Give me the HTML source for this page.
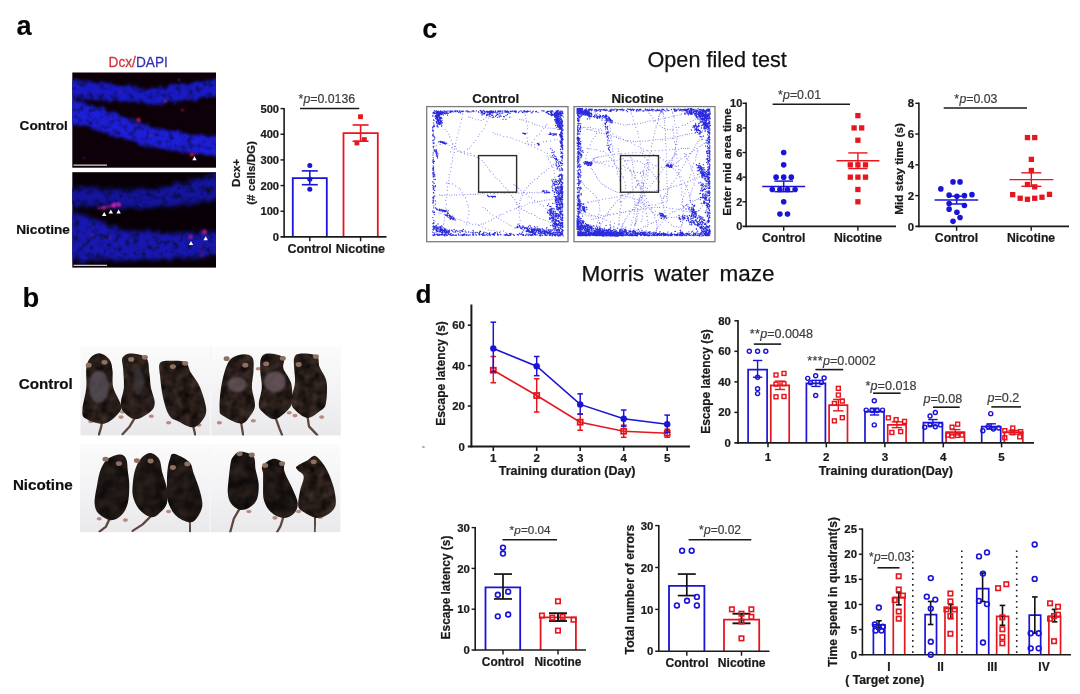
<!DOCTYPE html>
<html lang="en">
<head>
<meta charset="utf-8">
<title>Figure</title>
<style>
html,body{margin:0;padding:0;background:#fff;}
body{width:1080px;height:694px;overflow:hidden;}
svg{display:block;font-family:"Liberation Sans",Arial,Helvetica,sans-serif;}
text.b{font-weight:bold;fill:#1a1a1a;stroke:#1a1a1a;stroke-width:0.22px;}
text.n{font-weight:normal;stroke-width:0.25px;}
text.L{font-weight:bold;fill:#050505;stroke:#050505;stroke-width:0.1px;}
text.p{font-weight:normal;fill:#3c3c3c;stroke:#3c3c3c;stroke-width:0.2px;}
#fig{filter:blur(0.35px);}
</style>
</head>
<body>
<svg width="1080" height="694" viewBox="0 0 1080 694">
<rect width="1080" height="694" fill="#fff"/>
<g id="fig">
<defs>
<filter id="bl" x="-20%" y="-20%" width="140%" height="140%"><feGaussianBlur stdDeviation="1.8"/></filter>
<filter id="bl1" x="-20%" y="-20%" width="140%" height="140%"><feGaussianBlur stdDeviation="1"/></filter>
<filter id="bl05" x="-20%" y="-20%" width="140%" height="140%"><feGaussianBlur stdDeviation="0.6"/></filter>
<filter id="bl3" x="-20%" y="-20%" width="140%" height="140%"><feGaussianBlur stdDeviation="3"/></filter>
<filter id="tex" x="-5%" y="-5%" width="110%" height="110%" color-interpolation-filters="sRGB">
<feTurbulence type="fractalNoise" baseFrequency="0.16" numOctaves="3" seed="4" result="n"/>
<feDisplacementMap in="SourceGraphic" in2="n" scale="9" xChannelSelector="R" yChannelSelector="G" result="d"/>
<feGaussianBlur in="d" stdDeviation="1.7" result="b"/>
<feColorMatrix in="n" type="matrix" values="0 0 0.9 0 0.45  0 0 0.9 0 0.45  0 0 1.5 0 0.22  0 0 0 0 1" result="nb"/>
<feComposite in="b" in2="nb" operator="arithmetic" k1="1" k2="0" k3="0" k4="0"/>
</filter>
<filter id="tex2" x="-5%" y="-5%" width="110%" height="110%" color-interpolation-filters="sRGB">
<feTurbulence type="fractalNoise" baseFrequency="0.15" numOctaves="3" seed="9" result="n"/>
<feDisplacementMap in="SourceGraphic" in2="n" scale="10" xChannelSelector="R" yChannelSelector="G" result="d"/>
<feGaussianBlur in="d" stdDeviation="1.9" result="b"/>
<feColorMatrix in="n" type="matrix" values="0 0 0.9 0 0.45  0 0 0.9 0 0.45  0 0 1.7 0 0.1  0 0 0 0 1" result="nb"/>
<feComposite in="b" in2="nb" operator="arithmetic" k1="1" k2="0" k3="0" k4="0"/>
</filter>
<filter id="fur" x="-10%" y="-10%" width="120%" height="120%" color-interpolation-filters="sRGB">
<feTurbulence type="fractalNoise" baseFrequency="0.11" numOctaves="2" seed="2" result="n"/>
<feColorMatrix in="n" type="matrix" values="0.30 0 0 0 0.0  0.22 0 0 0 0.0  0.19 0 0 0 0.0  0 0 0 0 1" result="c"/>
<feComposite in="c" in2="SourceGraphic" operator="in" result="ci"/>
<feGaussianBlur in="ci" stdDeviation="0.6"/>
</filter>
<filter id="fur2" x="-10%" y="-10%" width="120%" height="120%" color-interpolation-filters="sRGB">
<feTurbulence type="fractalNoise" baseFrequency="0.09" numOctaves="2" seed="5" result="n"/>
<feColorMatrix in="n" type="matrix" values="0.20 0 0 0 0.01  0.15 0 0 0 0.01  0.13 0 0 0 0.01  0 0 0 0 1" result="c"/>
<feComposite in="c" in2="SourceGraphic" operator="in" result="ci"/>
<feGaussianBlur in="ci" stdDeviation="0.6"/>
</filter>
<clipPath id="ca1"><rect x="72.3" y="72.5" width="143.7" height="95.2"/></clipPath>
<clipPath id="ca2"><rect x="72.3" y="172.2" width="143.7" height="95.4"/></clipPath>
<clipPath id="cm1"><rect x="80.5" y="346.5" width="260.3" height="89"/></clipPath>
<clipPath id="cm2"><rect x="80" y="444.2" width="260.4" height="88"/></clipPath>
<linearGradient id="gm1" x1="0" y1="0" x2="0" y2="1"><stop offset="0" stop-color="#fbfbfb"/><stop offset="0.5" stop-color="#f3f3f5"/><stop offset="1" stop-color="#e9e9ec"/></linearGradient>
</defs>
<text class="L" x="16.6" y="35.1" font-size="27.2" text-anchor="start">a</text>
<text class="L" x="22.4" y="306.7" font-size="27.4" text-anchor="start">b</text>
<text class="L" x="422.2" y="37.9" font-size="27.2" text-anchor="start">c</text>
<text class="L" x="415.6" y="302.8" font-size="26.2" text-anchor="start">d</text>
<text class="n" x="717.2" y="67.2" font-size="21.6" text-anchor="middle" style="fill:#111;stroke:#111">Open filed test</text>
<text class="n" x="678" y="281.2" font-size="22.5" text-anchor="middle" style="fill:#111;stroke:#111" word-spacing="4">Morris water maze</text>
<text class="n" transform="translate(108.5,66.7) scale(1,1.1)" font-size="13.7" style="fill:#d2303f;stroke:#d2303f">Dcx/<tspan style="fill:#3632b4;stroke:#3632b4">DAPI</tspan></text>
<text class="b" x="67.9" y="129.9" font-size="13.6" text-anchor="end" style="fill:#111;stroke:#111">Control</text>
<text class="b" x="69.9" y="233.8" font-size="13.6" text-anchor="end" style="fill:#111;stroke:#111">Nicotine</text>
<rect x="72.3" y="72.5" width="143.7" height="95.2" fill="#0d0008"/>
<g clip-path="url(#ca1)">
<g filter="url(#tex)">
<path d="M66,79.5 C100,81.5 130,86 150,88.5 C175,86.5 200,81 222,78 L222,96 C200,98 175,103 150,104.5 C120,102 100,100 66,98 Z" fill="#1a1ac4"/>
<path d="M66,99.5 C90,103 115,112 140,123 C165,130 190,135 222,136 L222,156 C190,154 165,150 140,144 C115,138 95,128 66,123.5 Z" fill="#1e1ed4"/>
</g>
<circle cx="138.5" cy="120" r="2" fill="#d8205a" filter="url(#bl1)"/>
<circle cx="165" cy="101" r="1.5" fill="#a02030" filter="url(#bl1)"/>
<circle cx="182.5" cy="110" r="1.5" fill="#801838" filter="url(#bl1)"/>
<circle cx="192" cy="154.5" r="2.2" fill="#b01830" filter="url(#bl1)"/>
<circle cx="84" cy="158" r="1.2" fill="#30207a" filter="url(#bl1)"/>
<circle cx="150" cy="136" r="1.3" fill="#70207a" filter="url(#bl1)"/>
<circle cx="120" cy="93" r="1.2" fill="#5a2080" filter="url(#bl1)"/>
<circle cx="179" cy="80" r="1.2" fill="#5a2080" filter="url(#bl1)"/>
</g>
<path d="M194.5,156.2 l2.2,4 h-4.4z" fill="#fff"/>
<line x1="73.5" y1="165.2" x2="107" y2="165.2" stroke="#d8d8d8" stroke-width="1.2"/>
<rect x="72.3" y="172.2" width="143.7" height="95.4" fill="#080006"/>
<g clip-path="url(#ca2)">
<g filter="url(#tex2)">
<path d="M66,186 C100,188 130,190 150,189 C175,186 200,178 222,170 L222,199 C200,203 175,207 150,208 C120,208 100,207 66,206 Z" fill="#14149c"/>
<path d="M66,211 C90,216 110,226 130,231 C165,234 190,233 222,231 L222,256 C190,258 165,260 140,260 C115,260 95,260 66,260 Z" fill="#1818b0"/>
</g>
<path d="M98,208.5 L106,207 L112,206 L116,203.5 L120,205.5" stroke="#b0208a" stroke-width="1.8" opacity="0.8" fill="none" stroke-linecap="round" filter="url(#bl1)"/>
<circle cx="104" cy="208" r="1.6" fill="#d020a0" filter="url(#bl1)"/>
<circle cx="114" cy="205.5" r="2.2" fill="#d828a8" filter="url(#bl1)"/>
<circle cx="118.8" cy="204.5" r="2" fill="#d020a0" filter="url(#bl1)"/>
<circle cx="190.5" cy="237" r="2" fill="#b02078" filter="url(#bl1)"/>
<circle cx="204.5" cy="232" r="2.3" fill="#d01848" filter="url(#bl1)"/>
<circle cx="202" cy="255" r="1.5" fill="#801838" filter="url(#bl1)"/>
<circle cx="201" cy="247" r="1.2" fill="#801848" filter="url(#bl1)"/>
<circle cx="92" cy="235" r="1.2" fill="#702080" filter="url(#bl1)"/>
<circle cx="110" cy="238" r="1.2" fill="#702080" filter="url(#bl1)"/>
</g>
<path d="M104.2,212 l2.2,4 h-4.4z" fill="#fff"/>
<path d="M110.8,209.4 l2.2,4 h-4.4z" fill="#fff"/>
<path d="M118.6,209.5 l2.2,4 h-4.4z" fill="#fff"/>
<path d="M191,241 l2.2,4 h-4.4z" fill="#fff"/>
<path d="M205.7,236.3 l2.2,4 h-4.4z" fill="#fff"/>
<line x1="73.5" y1="265.4" x2="107" y2="265.4" stroke="#c8c8d8" stroke-width="1.2"/>
<path d="M292.8,236.9V178.2H326.8V236.9" fill="#fff" stroke="#1a14d6" stroke-width="1.8"/>
<path d="M343.5,236.9V133.2H377.8V236.9" fill="#fff" stroke="#e6161f" stroke-width="1.8"/>
<line x1="284.1" y1="107.88" x2="284.1" y2="237.7" stroke="#1a1a1a" stroke-width="1.6"/>
<line x1="280.5" y1="236.9" x2="386.5" y2="236.9" stroke="#1a1a1a" stroke-width="1.6"/>
<text class="b" x="279.1" y="240.93" font-size="11.2" text-anchor="end">0</text>
<line x1="280.5" y1="211.24" x2="284.1" y2="211.24" stroke="#1a1a1a" stroke-width="1.44"/>
<text class="b" x="279.1" y="215.27" font-size="11.2" text-anchor="end">100</text>
<line x1="280.5" y1="185.58" x2="284.1" y2="185.58" stroke="#1a1a1a" stroke-width="1.44"/>
<text class="b" x="279.1" y="189.61" font-size="11.2" text-anchor="end">200</text>
<line x1="280.5" y1="159.92" x2="284.1" y2="159.92" stroke="#1a1a1a" stroke-width="1.44"/>
<text class="b" x="279.1" y="163.95" font-size="11.2" text-anchor="end">300</text>
<line x1="280.5" y1="134.26" x2="284.1" y2="134.26" stroke="#1a1a1a" stroke-width="1.44"/>
<text class="b" x="279.1" y="138.29" font-size="11.2" text-anchor="end">400</text>
<line x1="280.5" y1="108.6" x2="284.1" y2="108.6" stroke="#1a1a1a" stroke-width="1.44"/>
<text class="b" x="279.1" y="112.63" font-size="11.2" text-anchor="end">500</text>
<line x1="309.8" y1="236.9" x2="309.8" y2="241.3" stroke="#1a1a1a" stroke-width="1.44"/>
<line x1="360.6" y1="236.9" x2="360.6" y2="241.3" stroke="#1a1a1a" stroke-width="1.44"/>
<line x1="309.8" y1="170.9" x2="309.8" y2="184.7" stroke="#1a14d6" stroke-width="1.6"/>
<line x1="301.8" y1="170.9" x2="317.8" y2="170.9" stroke="#1a14d6" stroke-width="1.6"/>
<line x1="301.8" y1="184.7" x2="317.8" y2="184.7" stroke="#1a14d6" stroke-width="1.6"/>
<line x1="360.6" y1="125" x2="360.6" y2="141.2" stroke="#e6161f" stroke-width="1.6"/>
<line x1="352.6" y1="125" x2="368.6" y2="125" stroke="#e6161f" stroke-width="1.6"/>
<line x1="352.6" y1="141.2" x2="368.6" y2="141.2" stroke="#e6161f" stroke-width="1.6"/>
<circle cx="309.8" cy="165.4" r="2.5" fill="#1a14d6"/>
<circle cx="309.8" cy="179.2" r="2.5" fill="#1a14d6"/>
<circle cx="309.8" cy="189.3" r="2.5" fill="#1a14d6"/>
<rect x="358.1" y="114.3" width="4.8" height="4.8" fill="#e6161f"/>
<rect x="354.5" y="140.6" width="4.8" height="4.8" fill="#e6161f"/>
<rect x="362" y="137.2" width="4.8" height="4.8" fill="#e6161f"/>
<line x1="300" y1="108.4" x2="359.2" y2="108.4" stroke="#1a1a1a" stroke-width="1.5"/>
<text class="p" x="298.4" y="102.8" font-size="12.3" text-anchor="start"><tspan letter-spacing="0.3">*</tspan><tspan font-style="italic">p</tspan>=0.0136</text>
<text class="b" x="309.6" y="253" font-size="12.5" text-anchor="middle">Control</text>
<text class="b" x="360.4" y="253" font-size="12.5" text-anchor="middle">Nicotine</text>
<text class="b" x="240.2" y="172.9" font-size="11.6" text-anchor="middle" transform="rotate(-90 240.2 172.9)">Dcx+</text>
<text class="b" x="255.5" y="172.9" font-size="11.6" text-anchor="middle" transform="rotate(-90 255.5 172.9)">(# cells/DG)</text>
<text class="b" x="72.8" y="388.6" font-size="15.2" text-anchor="end" style="fill:#111;stroke:#111">Control</text>
<text class="b" x="72.8" y="490.4" font-size="15.2" text-anchor="end" style="fill:#111;stroke:#111">Nicotine</text>
<rect x="80.5" y="346.5" width="260.3" height="89" fill="url(#gm1)"/>
<rect x="80" y="444.2" width="260.4" height="88" fill="url(#gm1)"/>
<g clip-path="url(#cm1)"><g>
<path d="M102.4,420.7 L100.9,427.9 L98.8,435.1" stroke="#5e463e" stroke-width="2.3" fill="none" stroke-linecap="round" stroke-linejoin="round" filter="url(#bl05)"/>
<ellipse cx="121.1" cy="417.1" rx="2.6" ry="1.8" fill="#b88a80" filter="url(#bl05)"/>
<ellipse cx="90.8" cy="421.4" rx="2.6" ry="1.8" fill="#b88a80" filter="url(#bl05)"/>
<path d="M99.4,353.3C102.6,353.5 107.2,356.6 109.4,359.5C111.6,362.3 111.9,365.9 112.5,370.5C113.1,375.2 111.9,381.7 113.3,387.5C114.7,393.3 120.2,400.8 121.0,405.2C121.7,409.7 120.7,411.0 117.9,414.1C115.1,417.2 109.4,422.9 104.0,423.7C98.6,424.4 89.1,420.9 85.5,418.5C81.9,416.2 82.3,414.8 82.4,409.7C82.6,404.5 85.7,394.4 86.3,387.5C86.9,380.6 85.7,373.2 86.3,368.3C86.9,363.4 88.0,360.5 90.2,358.0C92.3,355.5 96.2,353.0 99.4,353.3Z" fill="#221815" filter="url(#fur)"/>
<ellipse cx="104.5" cy="362.3" rx="3" ry="2.4" fill="#8e7060" filter="url(#bl05)"/>
<ellipse cx="88.7" cy="365.2" rx="3" ry="2.4" fill="#8e7060" filter="url(#bl05)"/>
<ellipse cx="98.8" cy="386.8" rx="9.8" ry="16.1" fill="#5e5864" opacity="0.7" filter="url(#bl1)"/>
<path d="M134.8,417.8 L129.7,426.4 L122.5,434.3" stroke="#5e463e" stroke-width="2.3" fill="none" stroke-linecap="round" stroke-linejoin="round" filter="url(#bl05)"/>
<ellipse cx="151.3" cy="416.3" rx="2.6" ry="1.8" fill="#b88a80" filter="url(#bl05)"/>
<ellipse cx="122.5" cy="412.0" rx="2.6" ry="1.8" fill="#b88a80" filter="url(#bl05)"/>
<path d="M130.8,353.6C134.8,353.6 143.2,354.8 146.2,358.0C149.3,361.2 148.6,367.9 149.3,372.8C150.1,377.7 150.0,382.6 150.9,387.6C151.8,392.5 154.7,398.4 154.7,402.3C154.7,406.3 154.1,408.4 150.9,411.2C147.7,414.0 140.1,419.3 135.5,419.3C130.8,419.3 125.6,414.0 123.1,411.2C120.7,408.4 120.7,406.3 120.8,402.3C120.9,398.4 123.5,393.2 123.9,387.6C124.3,381.9 123.4,373.3 123.1,368.4C122.9,363.5 121.1,360.5 122.4,358.0C123.6,355.6 126.9,353.6 130.8,353.6Z" fill="#221815" filter="url(#fur)"/>
<ellipse cx="144.9" cy="357.3" rx="3" ry="2.4" fill="#8e7060" filter="url(#bl05)"/>
<ellipse cx="131.2" cy="359.4" rx="3" ry="2.4" fill="#8e7060" filter="url(#bl05)"/>
<ellipse cx="138.4" cy="381.8" rx="5.2" ry="13.7" fill="#403e44" opacity="0.6" filter="url(#bl1)"/>
<path d="M193.1,425.7 L195.3,435.1" stroke="#5e463e" stroke-width="2.3" fill="none" stroke-linecap="round" stroke-linejoin="round" filter="url(#bl05)"/>
<ellipse cx="168.6" cy="422.8" rx="2.6" ry="1.8" fill="#b88a80" filter="url(#bl05)"/>
<ellipse cx="198.9" cy="425.0" rx="2.6" ry="1.8" fill="#b88a80" filter="url(#bl05)"/>
<path d="M160.0,363.0C161.8,360.6 166.6,360.9 170.8,360.8C175.0,360.7 182.1,360.3 185.4,362.3C188.8,364.3 188.4,368.5 190.8,372.6C193.3,376.8 197.5,381.2 200.1,387.4C202.6,393.5 206.0,403.9 206.2,409.5C206.5,415.2 203.9,418.4 201.6,421.4C199.3,424.3 196.2,427.3 192.4,427.3C188.5,427.3 182.4,423.3 178.5,421.4C174.7,419.4 171.8,419.4 169.3,415.4C166.7,411.5 164.6,404.4 163.1,397.7C161.6,391.1 160.5,381.4 160.0,375.6C159.5,369.8 158.2,365.5 160.0,363.0Z" fill="#261c17" filter="url(#fur)"/>
<ellipse cx="185.2" cy="363.3" rx="3" ry="2.4" fill="#8e7060" filter="url(#bl05)"/>
<ellipse cx="172.9" cy="366.6" rx="3" ry="2.4" fill="#8e7060" filter="url(#bl05)"/>
<path d="M241.0,421.4 L242.2,429.3 L243.2,435.1" stroke="#5e463e" stroke-width="2.3" fill="none" stroke-linecap="round" stroke-linejoin="round" filter="url(#bl05)"/>
<ellipse cx="219.4" cy="422.8" rx="2.6" ry="1.8" fill="#b88a80" filter="url(#bl05)"/>
<ellipse cx="253.3" cy="420.7" rx="2.6" ry="1.8" fill="#b88a80" filter="url(#bl05)"/>
<path d="M244.2,354.3C247.7,354.3 251.2,355.2 252.7,358.0C254.2,360.8 253.6,366.4 253.5,371.3C253.3,376.2 251.7,381.9 251.9,387.5C252.2,393.2 255.3,400.6 255.0,405.2C254.8,409.9 252.7,412.5 250.4,415.6C248.1,418.6 245.8,423.7 241.1,423.7C236.5,423.7 226.2,418.2 222.6,415.6C219.0,413.0 219.8,412.9 219.6,408.2C219.3,403.5 220.1,394.2 221.1,387.5C222.1,380.9 223.9,373.3 225.7,368.3C227.5,363.4 228.8,360.3 231.9,358.0C235.0,355.7 240.8,354.3 244.2,354.3Z" fill="#221815" filter="url(#fur)"/>
<ellipse cx="226.6" cy="358.7" rx="3" ry="2.4" fill="#8e7060" filter="url(#bl05)"/>
<ellipse cx="245.3" cy="365.2" rx="3" ry="2.4" fill="#8e7060" filter="url(#bl05)"/>
<ellipse cx="237.0" cy="384.6" rx="9.5" ry="7.5" fill="#6a5a60" opacity="0.75" filter="url(#bl1)"/>
<path d="M275.6,417.8 L279.2,427.9 L282.1,435.1" stroke="#5e463e" stroke-width="2.3" fill="none" stroke-linecap="round" stroke-linejoin="round" filter="url(#bl05)"/>
<ellipse cx="289.3" cy="412.7" rx="2.6" ry="1.8" fill="#b88a80" filter="url(#bl05)"/>
<ellipse cx="258.3" cy="368.8" rx="2.6" ry="1.8" fill="#b88a80" filter="url(#bl05)"/>
<path d="M268.0,353.6C271.7,353.5 280.9,354.9 283.4,357.3C286.0,359.8 282.1,364.1 283.4,368.4C284.7,372.7 289.7,377.5 291.1,383.1C292.5,388.8 292.7,397.7 291.9,402.3C291.1,407.0 289.5,408.4 286.5,411.2C283.6,414.0 278.3,419.3 274.2,419.3C270.1,419.3 264.4,413.8 261.8,411.2C259.3,408.6 258.8,407.8 258.8,403.8C258.8,399.9 261.6,393.0 261.8,387.6C262.1,382.2 260.4,376.3 260.3,371.3C260.2,366.4 259.8,361.0 261.1,358.1C262.4,355.1 264.3,353.7 268.0,353.6Z" fill="#221815" filter="url(#fur)"/>
<ellipse cx="282.8" cy="358.3" rx="3" ry="2.4" fill="#8e7060" filter="url(#bl05)"/>
<ellipse cx="266.2" cy="363.8" rx="3" ry="2.4" fill="#8e7060" filter="url(#bl05)"/>
<ellipse cx="274.9" cy="381.8" rx="10.9" ry="10.4" fill="#705e66" opacity="0.75" filter="url(#bl1)"/>
<path d="M307.5,416.3 L309.0,426.4 L317.3,435.1" stroke="#5e463e" stroke-width="2.3" fill="none" stroke-linecap="round" stroke-linejoin="round" filter="url(#bl05)"/>
<ellipse cx="295.0" cy="415.6" rx="2.6" ry="1.8" fill="#b88a80" filter="url(#bl05)"/>
<ellipse cx="321.7" cy="417.1" rx="2.6" ry="1.8" fill="#b88a80" filter="url(#bl05)"/>
<path d="M299.6,353.7C303.3,353.3 313.2,353.7 316.5,355.9C319.9,358.1 317.9,362.6 319.6,366.9C321.3,371.2 325.5,375.6 326.5,381.7C327.6,387.9 326.9,398.9 325.8,403.9C324.6,408.8 322.7,408.9 319.6,411.2C316.5,413.6 311.4,418.1 307.3,417.9C303.2,417.6 297.6,412.6 294.9,409.8C292.3,406.9 291.1,405.3 291.1,400.9C291.1,396.5 294.4,388.6 294.9,383.2C295.5,377.8 294.3,372.6 294.2,368.4C294.1,364.2 293.3,360.5 294.2,358.1C295.1,355.6 295.8,354.0 299.6,353.7Z" fill="#221815" filter="url(#fur)"/>
<ellipse cx="315.9" cy="356.6" rx="3" ry="2.4" fill="#8e7060" filter="url(#bl05)"/>
<ellipse cx="298.6" cy="364.5" rx="3" ry="2.4" fill="#8e7060" filter="url(#bl05)"/>
</g></g>
<g clip-path="url(#cm2)"><g>
<path d="M109.6,518.7 L106.0,526.6 L99.5,531.6" stroke="#5e463e" stroke-width="2.3" fill="none" stroke-linecap="round" stroke-linejoin="round" filter="url(#bl05)"/>
<ellipse cx="99.2" cy="518.7" rx="2.6" ry="1.8" fill="#b88a80" filter="url(#bl05)"/>
<ellipse cx="125.4" cy="520.1" rx="2.6" ry="1.8" fill="#b88a80" filter="url(#bl05)"/>
<path d="M120.1,454.5C123.2,454.5 125.0,456.2 126.2,458.9C127.5,461.6 127.3,466.3 127.8,470.7C128.3,475.2 129.3,480.1 129.3,485.5C129.3,490.9 129.1,498.3 127.8,503.2C126.5,508.1 124.4,512.2 121.6,515.0C118.8,517.9 114.7,520.4 110.8,520.2C107.0,520.0 101.2,516.4 98.5,513.6C95.8,510.7 94.9,507.9 94.6,503.2C94.4,498.5 95.9,491.2 97.0,485.5C98.0,479.8 99.0,473.7 100.8,469.3C102.6,464.8 104.5,461.4 107.7,458.9C111.0,456.5 117.0,454.5 120.1,454.5Z" fill="#1a1210" filter="url(#fur2)"/>
<ellipse cx="105.5" cy="459.2" rx="3" ry="2.4" fill="#8e7060" filter="url(#bl05)"/>
<ellipse cx="118.9" cy="463.6" rx="3" ry="2.4" fill="#8e7060" filter="url(#bl05)"/>
<path d="M151.3,515.8 L142.7,524.4 L132.6,530.9" stroke="#5e463e" stroke-width="2.3" fill="none" stroke-linecap="round" stroke-linejoin="round" filter="url(#bl05)"/>
<ellipse cx="168.6" cy="511.5" rx="2.6" ry="1.8" fill="#b88a80" filter="url(#bl05)"/>
<path d="M149.9,453.1C153.0,453.1 157.1,455.8 159.1,459.0C161.2,462.2 160.9,467.3 162.2,472.3C163.5,477.2 166.1,483.3 166.9,488.5C167.6,493.7 167.9,499.3 166.9,503.3C165.8,507.2 163.3,509.8 160.7,512.1C158.1,514.5 155.0,517.8 151.4,517.3C147.8,516.8 142.2,512.7 139.1,509.2C136.0,505.6 134.0,500.3 132.9,495.9C131.9,491.4 132.6,487.0 132.9,482.6C133.3,478.2 134.0,473.2 135.3,469.3C136.5,465.4 138.2,461.7 140.7,459.0C143.1,456.3 146.8,453.1 149.9,453.1Z" fill="#1a1210" filter="url(#fur2)"/>
<ellipse cx="136.9" cy="460.6" rx="3" ry="2.4" fill="#8e7060" filter="url(#bl05)"/>
<ellipse cx="150.6" cy="461.0" rx="3" ry="2.4" fill="#8e7060" filter="url(#bl05)"/>
<path d="M189.5,520.8 L190.2,531.6" stroke="#5e463e" stroke-width="2.3" fill="none" stroke-linecap="round" stroke-linejoin="round" filter="url(#bl05)"/>
<path d="M173.8,453.7C177.0,454.2 185.9,458.5 189.2,461.9C192.5,465.2 192.0,468.7 193.8,473.7C195.6,478.6 198.6,486.0 200.0,491.4C201.4,496.8 202.8,501.7 202.3,506.1C201.8,510.6 199.1,515.2 196.9,518.0C194.7,520.7 192.8,522.9 189.2,522.4C185.6,521.9 178.9,518.7 175.3,515.0C171.7,511.3 169.0,505.4 167.6,500.2C166.2,495.1 166.9,489.2 166.9,484.0C166.9,478.8 167.1,473.4 167.6,469.2C168.1,465.0 168.9,461.5 169.9,458.9C171.0,456.3 170.6,453.2 173.8,453.7Z" fill="#1a1210" filter="url(#fur2)"/>
<ellipse cx="187.3" cy="463.9" rx="3" ry="2.4" fill="#8e7060" filter="url(#bl05)"/>
<ellipse cx="172.9" cy="467.5" rx="3" ry="2.4" fill="#8e7060" filter="url(#bl05)"/>
<path d="M239.6,508.6 L233.8,518.7 L230.2,532.3" stroke="#5e463e" stroke-width="2.3" fill="none" stroke-linecap="round" stroke-linejoin="round" filter="url(#bl05)"/>
<ellipse cx="248.9" cy="511.5" rx="2.6" ry="1.8" fill="#b88a80" filter="url(#bl05)"/>
<path d="M240.2,451.7C243.6,451.4 250.7,453.2 253.3,456.1C255.8,459.1 254.7,464.7 255.6,469.4C256.5,474.1 258.4,479.2 258.7,484.2C258.9,489.1 258.5,495.1 257.1,498.9C255.7,502.7 253.0,505.2 250.2,507.0C247.4,508.9 243.4,510.6 240.2,510.0C237.0,509.4 233.0,506.2 230.9,503.3C228.9,500.5 228.2,497.0 227.8,493.0C227.4,489.1 228.2,484.2 228.6,479.7C229.0,475.3 229.5,470.1 230.1,466.4C230.8,462.7 230.8,460.0 232.5,457.6C234.1,455.1 236.7,451.9 240.2,451.7Z" fill="#1a1210" filter="url(#fur2)"/>
<ellipse cx="239.6" cy="453.8" rx="3" ry="2.4" fill="#8e7060" filter="url(#bl05)"/>
<ellipse cx="251.8" cy="455.0" rx="3" ry="2.4" fill="#8e7060" filter="url(#bl05)"/>
<path d="M283.5,516.5 L280.6,525.9 L277.0,532.3" stroke="#5e463e" stroke-width="2.3" fill="none" stroke-linecap="round" stroke-linejoin="round" filter="url(#bl05)"/>
<ellipse cx="274.9" cy="517.9" rx="2.6" ry="1.8" fill="#b88a80" filter="url(#bl05)"/>
<ellipse cx="298.6" cy="511.5" rx="2.6" ry="1.8" fill="#b88a80" filter="url(#bl05)"/>
<path d="M272.4,458.9C275.8,458.3 281.1,460.4 283.1,462.6C285.2,464.8 283.1,467.9 284.7,472.2C286.2,476.5 290.2,483.3 292.4,488.4C294.6,493.6 297.5,499.0 297.8,503.2C298.0,507.4 296.4,511.1 293.9,513.5C291.5,516.0 287.0,518.2 283.1,518.0C279.3,517.7 274.0,515.0 270.8,512.0C267.6,509.1 265.2,504.7 263.9,500.2C262.6,495.8 263.2,489.9 263.1,485.5C263.0,481.0 263.2,476.9 263.1,473.7C263.0,470.5 260.8,468.7 262.3,466.3C263.9,463.8 268.9,459.5 272.4,458.9Z" fill="#1a1210" filter="url(#fur2)"/>
<ellipse cx="265.2" cy="465.4" rx="3" ry="2.4" fill="#8e7060" filter="url(#bl05)"/>
<ellipse cx="282.1" cy="463.6" rx="3" ry="2.4" fill="#8e7060" filter="url(#bl05)"/>
<path d="M315.2,516.5 L314.5,531.6" stroke="#5e463e" stroke-width="2.3" fill="none" stroke-linecap="round" stroke-linejoin="round" filter="url(#bl05)"/>
<ellipse cx="320.2" cy="517.2" rx="2.6" ry="1.8" fill="#b88a80" filter="url(#bl05)"/>
<path d="M296.8,466.3C298.6,464.6 305.3,461.4 308.4,459.7C311.4,457.9 312.7,455.1 315.3,456.0C317.9,456.8 321.3,461.4 323.8,464.8C326.2,468.3 328.1,472.2 329.9,476.6C331.7,481.1 333.7,486.5 334.6,491.4C335.5,496.3 336.6,502.2 335.3,506.2C334.0,510.1 330.1,513.1 326.9,515.0C323.6,517.0 319.9,518.5 316.1,518.0C312.2,517.5 306.7,514.0 303.7,512.1C300.8,510.1 299.0,509.6 298.3,506.2C297.7,502.7 299.0,496.3 299.9,491.4C300.8,486.5 304.1,480.2 303.7,476.6C303.4,473.1 298.7,471.7 297.6,470.0C296.4,468.3 295.0,468.0 296.8,466.3Z" fill="#1e1613" filter="url(#fur)"/>
<ellipse cx="313.7" cy="461.8" rx="3" ry="2.4" fill="#8e7060" filter="url(#bl05)"/>
</g></g>
<line x1="210.6" y1="346.5" x2="210.6" y2="435.5" stroke="#f6f6f8" stroke-width="1.6"/>
<line x1="210" y1="444.2" x2="210" y2="532.2" stroke="#f6f6f8" stroke-width="1.2"/>
<rect x="426.7" y="106.6" width="141.3" height="135.1" fill="#fff" stroke="#7c7c7c" stroke-width="1.3"/>
<path d="M436.8,120.8h.01M438.7,122.5h.01M440.3,124.0h.01M442.0,126.1h.01M445.1,129.2h.01M446.9,131.3h.01M448.9,134.2h.01M449.8,136.9h.01M451.2,140.3h.01M452.8,143.6h.01M454.5,146.2h.01M456.3,148.9h.01M459.1,150.7h.01M461.4,152.5h.01M464.5,153.8h.01M467.8,154.8h.01M471.0,155.5h.01M474.0,155.9h.01M477.1,157.0h.01M479.4,158.5h.01M482.1,160.6h.01M484.0,162.5h.01M485.7,165.0h.01M487.7,167.0h.01M489.3,170.1h.01M490.7,171.7h.01M493.3,174.2h.01M495.1,177.2h.01M497.2,178.7h.01M499.8,180.9h.01M501.7,183.5h.01M503.7,186.0h.01M505.8,187.9h.01M507.9,190.1h.01M509.7,192.9h.01M511.5,195.2h.01M512.8,197.4h.01M514.9,199.6h.01M516.4,202.4h.01M516.9,204.4h.01M518.2,207.3h.01M518.8,210.5h.01M519.6,213.1h.01M519.4,217.0h.01M520.2,220.5h.01M519.8,223.7h.01M520.2,226.2h.01M439.7,194.9h.01M441.1,195.2h.01M442.7,195.2h.01M444.9,194.9h.01M446.9,194.9h.01M449.4,195.0h.01M451.6,195.1h.01M454.5,194.8h.01M456.6,195.1h.01M459.8,194.8h.01M462.6,194.5h.01M465.0,194.5h.01M468.0,194.6h.01M470.7,194.4h.01M473.2,194.3h.01M475.3,194.4h.01M477.8,193.9h.01M480.0,193.9h.01M482.6,193.4h.01M484.9,193.8h.01M487.7,193.8h.01M490.5,193.5h.01M493.3,193.7h.01M494.8,193.6h.01M497.7,193.6h.01M500.9,193.0h.01M503.0,193.0h.01M505.0,193.4h.01M508.0,193.0h.01M510.3,192.8h.01M512.9,193.0h.01M515.9,193.2h.01M518.8,192.9h.01M521.6,193.1h.01M524.5,192.5h.01M527.1,192.9h.01M529.6,192.4h.01M532.1,192.4h.01M534.6,192.7h.01M537.0,192.2h.01M538.9,192.9h.01M541.2,192.5h.01M462.8,113.1h.01M462.7,114.7h.01M462.0,117.8h.01M461.4,119.5h.01M460.6,123.0h.01M459.9,126.7h.01M459.0,130.0h.01M458.2,133.0h.01M457.1,137.3h.01M456.2,140.0h.01M455.8,143.3h.01M455.3,146.4h.01M454.4,148.8h.01M454.2,152.4h.01M453.2,154.7h.01M452.5,157.9h.01M452.5,161.1h.01M451.2,163.8h.01M451.2,167.4h.01M450.5,171.2h.01M449.1,174.6h.01M449.2,177.7h.01M448.8,180.6h.01M448.1,183.4h.01M447.7,186.8h.01M447.3,190.3h.01M447.1,194.2h.01M446.5,197.5h.01M445.7,200.4h.01M446.2,204.3h.01M445.3,208.0h.01M445.1,211.7h.01M444.1,214.5h.01M444.6,217.7h.01M444.3,220.5h.01M443.9,223.0h.01M443.5,224.2h.01M490.6,113.0h.01M489.6,115.0h.01M488.3,118.1h.01M487.1,121.6h.01M485.6,124.8h.01M484.0,128.8h.01M481.9,131.3h.01M479.7,134.2h.01M478.1,136.6h.01M475.8,140.2h.01M474.0,142.5h.01M471.2,146.0h.01M469.3,148.1h.01M467.5,149.3h.01M464.2,151.5h.01M460.7,151.5h.01M524.4,113.1h.01M525.4,115.3h.01M525.9,118.2h.01M526.2,121.9h.01M527.5,125.7h.01M527.5,128.7h.01M527.3,133.1h.01M527.2,137.8h.01M527.4,141.4h.01M528.1,143.9h.01M531.4,144.2h.01M534.6,144.3h.01M539.1,143.1h.01M543.4,141.8h.01M546.5,141.4h.01M550.6,140.9h.01M554.5,139.7h.01M557.1,139.2h.01M493.3,132.5h.01M495.1,134.0h.01M497.6,134.1h.01M500.3,134.9h.01M503.8,136.6h.01M507.1,136.8h.01M510.4,137.8h.01M513.1,138.7h.01M516.2,140.0h.01M519.2,140.7h.01M522.2,142.0h.01M525.2,143.4h.01M528.6,144.7h.01M531.4,146.0h.01M534.8,147.3h.01M537.8,149.0h.01M541.1,150.4h.01M544.3,152.2h.01M547.4,153.2h.01M549.8,155.2h.01M553.8,157.0h.01M556.3,158.2h.01M558.8,159.5h.01M556.6,162.4h.01M555.3,163.5h.01M553.5,164.6h.01M551.8,166.6h.01M548.8,168.3h.01M546.5,170.0h.01M544.1,172.4h.01M541.6,173.8h.01M539.0,176.2h.01M537.4,178.4h.01M534.6,179.6h.01M532.3,182.2h.01M530.3,183.6h.01M528.5,185.6h.01M526.7,187.7h.01M524.8,190.2h.01M523.2,192.9h.01M522.6,195.3h.01M520.9,198.1h.01M520.1,200.6h.01M519.4,203.3h.01M518.9,206.1h.01M518.4,207.4h.01M519.9,208.1h.01M521.6,208.8h.01M524.1,210.4h.01M526.8,211.6h.01M529.0,213.5h.01M531.7,213.8h.01M534.9,215.4h.01M537.1,217.0h.01M539.7,218.4h.01M543.1,219.6h.01M545.3,220.5h.01M548.1,221.2h.01M551.0,222.4h.01M553.8,223.4h.01M556.5,224.1h.01M558.2,224.8h.01M518.1,207.4h.01M519.7,206.4h.01M521.9,206.3h.01M524.7,205.2h.01M527.1,204.0h.01M529.4,202.8h.01M532.6,202.9h.01M534.8,201.9h.01M537.5,201.6h.01M539.8,201.5h.01M541.9,200.7h.01M544.5,200.2h.01M546.9,200.0h.01M549.4,199.8h.01M552.0,199.1h.01M555.2,198.7h.01M558.1,198.1h.01M560.0,197.4h.01M518.1,207.2h.01M516.3,208.4h.01M514.3,209.0h.01M510.6,210.6h.01M506.9,211.9h.01M502.9,214.1h.01M500.7,214.5h.01M499.1,215.8h.01M496.7,217.2h.01M493.9,218.5h.01M491.5,219.9h.01M488.9,221.1h.01M485.9,222.8h.01M483.4,223.9h.01M481.2,224.1h.01M478.6,224.7h.01M475.6,224.1h.01M472.6,224.2h.01M469.7,223.3h.01M466.6,222.8h.01M464.2,222.0h.01M461.0,220.3h.01M459.1,219.5h.01M456.0,218.8h.01M453.4,217.6h.01M451.7,217.0h.01M447.8,215.6h.01M444.6,214.2h.01M440.8,213.5h.01M439.0,212.7h.01M434.8,146.0h.01M436.7,145.6h.01M440.2,144.4h.01M443.2,143.7h.01M447.0,143.8h.01M449.2,145.2h.01M451.7,147.8h.01M454.4,149.2h.01M457.7,151.3h.01M460.9,152.1h.01M464.2,152.7h.01M467.7,153.0h.01M470.6,153.5h.01M474.4,155.5h.01M477.9,157.4h.01M478.2,225.0h.01M479.6,225.7h.01M482.3,227.0h.01M485.3,228.3h.01M488.2,229.8h.01M491.1,230.2h.01M494.2,230.2h.01M497.0,231.3h.01M500.3,231.4h.01M503.5,230.9h.01M505.8,232.2h.01M468.6,117.0h.01M470.1,117.3h.01M472.5,118.5h.01M475.7,119.7h.01M478.4,119.7h.01M481.1,120.5h.01M483.7,119.4h.01M486.0,117.5h.01M489.0,116.1h.01M446.5,182.8h.01M449.2,183.6h.01M452.3,183.9h.01M455.7,185.9h.01M459.1,188.1h.01M460.5,189.6h.01M462.1,192.7h.01M463.7,195.6h.01M465.6,197.9h.01M466.8,201.3h.01M467.9,204.9h.01M468.3,207.0h.01M468.9,210.9h.01M468.8,214.6h.01M467.9,218.2h.01M467.9,221.8h.01M466.9,224.7h.01M546.8,124.3h.01M545.8,126.1h.01M543.8,128.3h.01M541.1,130.8h.01M539.6,134.1h.01M536.9,135.9h.01M534.4,139.3h.01M532.0,142.4h.01M519.8,119.6h.01M521.8,119.8h.01M523.6,120.1h.01M526.4,121.1h.01M528.9,121.9h.01M532.3,123.1h.01M534.7,124.4h.01M537.1,125.1h.01M539.6,125.7h.01M542.4,126.8h.01M545.3,127.0h.01M548.1,128.0h.01M550.7,128.1h.01M553.2,128.7h.01M555.0,128.3h.01M547.0,156.0h.01M548.5,157.7h.01M548.4,159.7h.01M550.2,162.3h.01M551.8,165.1h.01M552.9,167.5h.01M554.0,170.7h.01M554.5,173.5h.01M554.9,177.1h.01M553.9,179.7h.01M553.2,183.1h.01M552.1,186.0h.01M483.2,207.6h.01M485.5,208.7h.01M487.4,210.4h.01M489.9,213.1h.01M493.0,215.0h.01M496.2,216.2h.01M498.4,218.3h.01M500.9,220.0h.01M503.9,221.7h.01M506.9,223.0h.01M509.2,224.8h.01M511.1,225.7h.01M452.7,144.3h.01M452.6,147.2h.01M450.7,151.8h.01M513.9,184.6h.01M515.2,185.6h.01M517.2,187.0h.01M518.7,188.4h.01M521.0,190.6h.01M523.4,192.0h.01M526.2,194.1h.01M529.0,196.5h.01M531.5,197.8h.01M534.4,200.3h.01M537.5,202.1h.01M540.2,204.5h.01M543.3,205.9h.01M545.8,208.6h.01M547.9,209.9h.01M550.6,211.7h.01M552.5,213.6h.01M554.4,214.6h.01M556.1,215.2h.01M557.2,216.3h.01M558.6,216.5h.01M557.3,214.0h.01M555.0,211.2h.01M551.1,206.8h.01" stroke="#3838e0" stroke-width="1.15" stroke-linecap="round" fill="none" opacity="0.62"/>
<path d="M491.6,112.7h.01M493.3,111.5h.01M498.8,111.3h.01M499.3,111.1h.01M514.6,110.9h.01M472.2,111.2h.01M444.5,111.3h.01M438.1,112.1h.01M560.5,112.1h.01M512.8,111.1h.01M453.2,111.9h.01M440.4,110.9h.01M457.4,110.8h.01M493.1,111.0h.01M490.0,111.4h.01M516.0,111.7h.01M497.7,111.3h.01M468.9,111.6h.01M562.5,112.5h.01M524.8,110.8h.01M473.7,110.9h.01M441.8,111.5h.01M532.4,112.2h.01M483.0,111.8h.01M557.3,110.8h.01M460.0,110.8h.01M551.1,113.3h.01M484.4,111.3h.01M442.2,111.9h.01M467.8,111.9h.01M444.0,112.0h.01M531.3,112.8h.01M448.1,110.8h.01M440.5,111.2h.01M536.4,111.3h.01M490.9,111.8h.01M457.5,110.9h.01M516.4,111.3h.01M447.9,111.3h.01M467.8,111.1h.01M559.0,111.1h.01M547.8,111.5h.01M460.1,112.2h.01M516.2,111.9h.01M445.8,111.4h.01M466.3,110.8h.01M533.2,111.2h.01M442.2,111.5h.01M444.4,111.4h.01M510.9,111.1h.01M481.1,113.0h.01M495.6,111.5h.01M507.5,111.2h.01M452.8,111.2h.01M550.9,111.1h.01M457.4,111.4h.01M528.9,111.4h.01M556.3,111.0h.01M547.5,111.5h.01M446.2,111.4h.01M437.7,111.4h.01M524.4,111.0h.01M466.1,111.3h.01M470.9,111.9h.01M455.5,110.9h.01M462.4,111.1h.01M505.5,111.5h.01M469.2,111.8h.01M552.0,110.8h.01M467.7,111.0h.01M490.7,111.3h.01M480.7,111.0h.01M507.1,111.4h.01M548.6,111.4h.01M560.3,111.6h.01M508.7,112.0h.01M451.0,111.0h.01M551.1,110.8h.01M523.9,111.0h.01M515.5,110.8h.01M495.4,110.9h.01M562.7,111.6h.01M442.5,112.2h.01M549.8,111.2h.01M528.6,111.3h.01M551.7,112.3h.01M478.5,111.6h.01M546.0,112.6h.01M487.0,111.3h.01M507.2,112.5h.01M514.0,111.7h.01M511.9,111.6h.01M443.1,112.6h.01M547.2,113.0h.01M527.4,111.9h.01M508.3,111.7h.01M490.0,111.0h.01M530.3,111.1h.01M436.6,111.6h.01M462.7,111.4h.01M523.6,112.0h.01M552.5,110.8h.01M466.0,111.6h.01M520.9,110.9h.01M459.1,111.7h.01M518.6,112.5h.01M490.2,111.4h.01M519.3,111.3h.01M458.5,112.3h.01M551.6,111.5h.01M547.2,111.7h.01M473.9,111.6h.01M450.4,112.5h.01M543.1,110.8h.01M525.2,111.5h.01M454.7,111.0h.01M491.3,110.9h.01M486.6,111.4h.01M514.1,111.6h.01M541.9,110.8h.01M560.5,111.1h.01M436.8,110.9h.01M546.3,112.2h.01M506.9,111.2h.01M472.9,110.8h.01M450.4,111.0h.01M491.9,112.5h.01M463.6,111.1h.01M451.0,112.0h.01M490.8,111.2h.01M514.7,111.7h.01M557.4,112.2h.01M521.8,111.1h.01M455.9,111.8h.01M434.1,112.2h.01M456.0,111.0h.01M468.1,111.6h.01M500.4,111.9h.01M512.6,110.8h.01M535.7,111.7h.01M550.6,112.6h.01M526.7,111.9h.01M449.6,112.0h.01M551.1,111.2h.01M481.7,112.5h.01M536.4,111.6h.01M555.5,112.1h.01M459.4,111.1h.01M526.6,111.3h.01M526.1,112.0h.01M460.4,112.8h.01M559.9,112.3h.01M502.6,111.0h.01M551.1,111.6h.01M544.0,111.0h.01M490.1,111.1h.01M504.3,110.9h.01M436.4,111.8h.01M538.0,112.3h.01M455.2,111.4h.01M476.3,110.9h.01M452.0,111.3h.01M499.9,111.1h.01M522.4,112.5h.01M555.7,113.0h.01M443.9,110.9h.01M461.5,111.5h.01M527.5,110.9h.01M515.8,112.5h.01M505.6,111.0h.01M434.1,149.7h.01M434.0,223.1h.01M434.3,136.8h.01M434.8,176.2h.01M433.1,182.3h.01M433.9,173.5h.01M435.3,186.3h.01M433.2,175.1h.01M433.1,160.8h.01M433.9,172.0h.01M433.8,197.0h.01M433.2,162.4h.01M433.4,230.1h.01M433.1,169.8h.01M434.4,126.6h.01M433.4,223.1h.01M433.0,170.2h.01M433.3,187.9h.01M433.9,226.2h.01M434.0,113.6h.01M432.9,135.0h.01M434.2,151.0h.01M433.0,155.1h.01M433.0,201.9h.01M433.5,126.1h.01M432.7,135.5h.01M433.6,176.9h.01M433.1,162.4h.01M433.1,176.8h.01M433.3,189.5h.01M434.6,190.4h.01M433.1,187.1h.01M432.9,217.6h.01M434.3,211.9h.01M433.0,223.4h.01M433.5,225.9h.01M434.8,138.0h.01M432.7,127.5h.01M432.8,140.6h.01M433.5,122.9h.01M434.3,214.6h.01M433.5,126.5h.01M432.8,161.0h.01M432.9,135.9h.01M434.9,195.9h.01M434.1,125.2h.01M432.8,173.9h.01M433.9,196.3h.01M433.1,134.4h.01M432.9,115.5h.01M434.0,179.6h.01M432.8,129.1h.01M433.2,133.8h.01M434.5,234.3h.01M433.0,226.4h.01M432.9,229.5h.01M432.8,168.4h.01M433.6,169.0h.01M433.9,175.1h.01M433.3,112.5h.01M433.1,198.2h.01M433.2,167.4h.01M433.2,203.0h.01M433.1,131.4h.01M434.8,174.7h.01M432.9,210.8h.01M433.6,198.7h.01M433.8,161.2h.01M435.5,185.6h.01M432.8,211.2h.01M434.1,143.0h.01M433.6,207.8h.01M434.5,212.4h.01M433.9,220.5h.01M432.9,197.4h.01M434.4,161.4h.01M433.5,200.9h.01M433.1,169.3h.01M433.6,112.1h.01M433.8,188.6h.01M434.1,139.7h.01M433.2,152.9h.01M433.8,193.1h.01M433.2,159.4h.01M433.7,235.5h.01M433.9,205.8h.01M434.1,233.0h.01M432.9,202.9h.01M433.0,142.8h.01M432.9,135.2h.01M433.3,157.6h.01M433.1,223.7h.01M435.3,179.4h.01M432.8,181.6h.01M433.9,234.9h.01M434.1,120.3h.01M432.7,185.3h.01M433.0,226.8h.01M433.3,130.7h.01M432.8,172.6h.01M434.9,187.0h.01M433.6,163.3h.01M433.5,176.5h.01M433.3,146.4h.01M433.5,192.5h.01M433.0,200.2h.01M433.4,147.7h.01M432.8,116.1h.01M432.7,130.3h.01M433.7,222.7h.01M435.5,204.1h.01M433.6,228.6h.01M433.6,120.0h.01M433.3,170.4h.01M432.7,232.2h.01M433.9,227.7h.01M435.4,200.9h.01M433.2,212.6h.01M433.7,186.1h.01M433.6,167.6h.01M433.9,136.2h.01M433.1,126.3h.01M433.2,166.0h.01M433.7,143.5h.01M434.2,183.4h.01M433.5,177.0h.01M434.3,235.2h.01M433.2,140.5h.01M434.1,125.0h.01M433.8,188.7h.01M562.6,155.6h.01M561.0,181.2h.01M561.5,184.6h.01M561.3,134.5h.01M560.2,141.8h.01M562.5,220.4h.01M561.9,115.7h.01M562.4,163.8h.01M561.6,188.5h.01M561.9,119.8h.01M562.1,121.6h.01M561.4,189.5h.01M562.0,157.3h.01M562.7,153.7h.01M562.6,203.7h.01M562.4,125.7h.01M561.3,211.7h.01M561.4,137.4h.01M562.7,163.7h.01M560.6,156.8h.01M561.7,192.3h.01M562.7,179.2h.01M561.7,203.8h.01M562.2,156.8h.01M562.5,122.9h.01M562.5,121.2h.01M561.0,181.2h.01M562.6,148.1h.01M562.1,207.5h.01M562.4,193.4h.01M562.2,121.0h.01M561.0,197.3h.01M562.1,146.1h.01M561.9,201.3h.01M561.4,156.5h.01M561.5,181.8h.01M560.3,225.3h.01M561.8,165.4h.01M562.4,210.9h.01M561.8,160.6h.01M562.1,227.4h.01M562.2,155.9h.01M562.0,156.4h.01M561.9,159.1h.01M560.8,135.1h.01M562.0,178.2h.01M562.1,215.1h.01M562.5,205.4h.01M562.8,220.6h.01M562.6,175.1h.01M560.0,178.7h.01M561.5,192.0h.01M561.4,211.1h.01M562.2,209.1h.01M561.1,121.3h.01M561.8,222.9h.01M562.4,121.4h.01M562.3,203.8h.01M562.8,191.7h.01M562.0,206.2h.01M562.7,175.8h.01M561.6,152.9h.01M562.1,231.5h.01M561.6,177.8h.01M562.1,200.7h.01M560.2,162.0h.01M561.6,213.8h.01M560.8,211.3h.01M560.5,214.8h.01M560.9,190.6h.01M562.3,176.1h.01M560.7,163.4h.01M561.6,163.2h.01M561.2,234.4h.01M562.4,157.6h.01M562.1,163.8h.01M562.4,147.2h.01M562.7,149.3h.01M561.6,125.1h.01M561.1,133.2h.01M561.3,118.6h.01M562.4,224.2h.01M562.2,115.3h.01M562.3,137.9h.01M562.5,140.2h.01M561.2,138.7h.01M562.7,133.9h.01M562.1,205.3h.01M560.7,149.7h.01M562.1,170.6h.01M560.8,143.3h.01M561.1,153.5h.01M561.5,179.1h.01M562.4,138.4h.01M560.8,117.0h.01M562.1,158.8h.01M561.8,176.6h.01M562.7,234.3h.01M562.8,192.8h.01M562.6,169.7h.01M562.3,157.1h.01M561.0,186.4h.01M562.2,130.4h.01M561.9,143.2h.01M561.1,219.2h.01M562.6,234.6h.01M562.1,144.0h.01M562.7,206.9h.01M561.8,111.0h.01M560.7,213.3h.01M562.6,121.1h.01M560.9,122.9h.01M559.9,170.7h.01M562.2,184.0h.01M562.1,217.7h.01M560.8,162.8h.01M560.9,225.1h.01M561.6,136.8h.01M562.1,178.6h.01M562.7,214.6h.01M562.6,149.6h.01M562.4,148.9h.01M562.6,169.1h.01M561.7,196.5h.01M561.7,124.0h.01M562.0,231.4h.01M562.7,214.3h.01M562.6,157.8h.01M562.7,199.3h.01M561.3,167.9h.01M560.7,112.1h.01M562.7,136.6h.01M562.5,187.6h.01M561.7,178.1h.01M562.2,148.0h.01M561.8,193.9h.01M562.2,142.8h.01M560.9,151.9h.01M561.0,228.6h.01M562.1,152.2h.01M562.2,213.9h.01M562.4,122.6h.01M562.6,195.3h.01M562.1,161.0h.01M562.4,215.2h.01M562.5,139.1h.01M561.9,130.4h.01M561.9,119.9h.01M561.5,225.6h.01M562.2,191.5h.01M532.5,235.1h.01M475.8,234.6h.01M486.3,234.5h.01M523.8,235.4h.01M560.5,235.1h.01M511.9,234.1h.01M435.1,235.1h.01M517.4,234.7h.01M446.5,234.6h.01M535.3,234.7h.01M540.1,235.1h.01M532.4,235.1h.01M550.2,234.6h.01M497.8,235.2h.01M451.1,234.8h.01M499.8,232.6h.01M525.8,235.2h.01M555.6,234.9h.01M514.3,235.4h.01M464.5,235.1h.01M507.7,235.2h.01M553.6,234.7h.01M479.7,235.0h.01M559.4,235.4h.01M450.3,234.5h.01M505.7,234.8h.01M505.6,235.3h.01M561.8,233.3h.01M539.1,235.1h.01M540.0,235.2h.01M470.2,234.9h.01M507.3,235.1h.01M540.8,235.0h.01M442.6,234.3h.01M436.9,234.2h.01M554.9,232.8h.01M518.4,235.0h.01M528.7,234.1h.01M482.4,234.0h.01M434.8,234.5h.01M458.7,235.0h.01M483.0,235.4h.01M506.8,234.9h.01M467.0,234.4h.01M506.6,234.8h.01M437.6,234.3h.01M520.0,233.9h.01M510.8,233.5h.01M493.8,234.3h.01M522.4,234.8h.01M531.3,235.5h.01M562.1,234.3h.01M541.8,234.9h.01M489.2,234.7h.01M506.3,234.5h.01M501.0,234.8h.01M488.9,234.8h.01M439.8,235.0h.01M527.1,234.2h.01M510.4,234.5h.01M530.5,235.0h.01M441.8,234.2h.01M448.9,234.4h.01M484.3,235.1h.01M439.5,235.1h.01M463.8,234.4h.01M472.5,234.9h.01M441.6,235.1h.01M551.3,234.1h.01M545.4,235.2h.01M487.5,235.3h.01M529.8,234.8h.01M506.4,235.1h.01M535.8,235.2h.01M448.8,233.1h.01M432.8,234.9h.01M464.4,235.2h.01M440.8,234.7h.01M549.2,235.1h.01M479.1,234.6h.01M508.9,235.3h.01M549.6,235.4h.01M472.8,233.2h.01M559.8,235.5h.01M494.2,235.3h.01M552.7,234.7h.01M549.4,234.9h.01M478.8,233.7h.01M494.2,234.5h.01M562.2,233.7h.01M459.0,235.1h.01M547.2,235.0h.01M439.2,234.2h.01M473.4,234.5h.01M549.8,234.4h.01M450.2,234.3h.01M523.2,234.5h.01M443.0,235.1h.01M461.7,234.9h.01M458.3,234.0h.01M456.3,235.4h.01M535.5,234.0h.01M481.2,234.4h.01M509.4,233.7h.01M462.5,234.8h.01M519.5,233.3h.01M468.7,235.2h.01M560.6,235.2h.01M490.0,234.3h.01M438.6,235.3h.01M510.7,235.3h.01M537.2,234.8h.01M444.0,235.1h.01M464.7,233.9h.01M469.0,234.9h.01M549.4,235.3h.01M561.2,234.4h.01M530.4,235.3h.01M482.8,234.4h.01M456.1,235.0h.01M505.0,234.9h.01M518.3,234.8h.01M534.6,234.3h.01M542.7,235.4h.01M521.7,233.1h.01M455.3,235.2h.01M534.1,234.8h.01M463.3,234.3h.01M490.0,235.2h.01M535.6,233.8h.01M463.4,234.8h.01M508.2,235.5h.01M497.6,234.2h.01M525.7,235.2h.01M507.2,235.1h.01M452.5,235.0h.01M435.0,234.4h.01M490.2,235.5h.01M466.9,235.4h.01M550.7,235.1h.01M506.7,233.8h.01M463.7,235.0h.01M451.7,235.4h.01M473.6,235.2h.01M513.5,234.7h.01M509.3,235.4h.01M444.2,235.2h.01M465.9,234.9h.01M453.5,234.8h.01M535.1,233.7h.01M440.7,234.7h.01M460.8,235.0h.01M559.0,234.4h.01M531.7,235.2h.01M561.0,234.8h.01M529.6,234.6h.01M437.8,235.4h.01M451.1,233.4h.01M483.8,235.2h.01M442.7,234.5h.01M437.2,233.8h.01M528.2,235.5h.01M462.6,235.5h.01M464.1,234.2h.01M492.7,234.6h.01M476.5,235.1h.01M560.4,235.3h.01M485.1,235.3h.01M517.2,234.6h.01M523.1,235.2h.01M545.2,233.7h.01M492.9,234.4h.01M483.8,235.0h.01M534.4,234.7h.01M460.7,235.1h.01M504.2,235.0h.01M454.0,235.3h.01M493.5,234.8h.01M472.8,232.5h.01M521.1,234.5h.01M544.9,235.2h.01M442.2,234.6h.01M522.6,235.0h.01M435.1,234.9h.01M456.4,235.4h.01M552.9,234.5h.01M525.7,235.4h.01M452.7,234.6h.01M554.6,234.4h.01M526.8,234.2h.01M550.7,234.6h.01M482.7,235.4h.01M443.5,234.8h.01M533.0,234.9h.01M500.3,234.6h.01M463.7,235.2h.01M438.0,234.7h.01M436.8,234.4h.01M473.3,234.4h.01M450.4,234.9h.01M562.5,217.2h.01M558.9,214.7h.01M562.3,182.3h.01M560.9,217.6h.01M559.2,198.4h.01M559.7,187.2h.01M561.9,191.4h.01M561.4,175.7h.01M560.7,174.7h.01M560.5,223.6h.01M561.7,234.0h.01M559.4,230.5h.01M561.5,186.6h.01M559.5,232.7h.01M562.5,227.3h.01M559.4,178.8h.01M562.1,199.8h.01M562.3,197.1h.01M560.9,193.6h.01M562.8,183.0h.01M561.4,198.2h.01M562.6,214.6h.01M561.0,188.1h.01M561.6,199.5h.01M559.6,182.6h.01M560.9,207.6h.01M560.4,216.8h.01M562.5,195.9h.01M562.1,177.1h.01M562.3,204.0h.01M560.7,209.7h.01M562.4,188.9h.01M559.9,174.6h.01M558.7,208.4h.01M562.0,189.5h.01M561.5,202.4h.01M560.6,211.5h.01M562.2,209.1h.01M562.3,231.9h.01M559.5,211.9h.01M561.1,198.8h.01M561.8,224.9h.01M558.9,228.0h.01M559.2,175.5h.01M560.7,181.6h.01M562.7,195.6h.01M561.9,234.1h.01M561.5,187.4h.01M562.8,215.6h.01M562.7,207.1h.01M562.6,197.7h.01M560.0,213.7h.01M560.6,207.3h.01M560.6,225.0h.01M561.7,233.6h.01M560.9,228.4h.01M562.0,192.7h.01M559.2,216.0h.01M562.2,233.2h.01M561.5,211.9h.01M560.7,203.7h.01M561.9,191.0h.01M561.1,219.8h.01M562.4,188.7h.01M561.5,193.4h.01M560.2,181.0h.01M561.8,177.1h.01M562.3,217.1h.01M558.9,180.2h.01M561.6,203.1h.01M559.6,183.3h.01M559.2,176.5h.01M558.5,189.0h.01M562.6,197.6h.01M562.8,217.8h.01M559.0,193.5h.01M562.5,194.0h.01M558.2,224.8h.01M559.5,208.5h.01M561.0,212.0h.01M562.4,225.0h.01M561.6,196.7h.01M562.6,214.9h.01M561.3,174.0h.01M556.9,209.7h.01M560.5,181.5h.01M559.8,216.0h.01M561.2,197.9h.01M562.0,231.3h.01M562.7,217.6h.01M560.9,180.5h.01M562.3,218.7h.01M561.2,235.1h.01M561.3,174.8h.01M560.5,207.0h.01M562.6,192.4h.01M561.8,223.1h.01M561.1,197.6h.01M562.1,211.7h.01M556.1,197.4h.01M558.7,216.4h.01M561.6,182.3h.01M558.4,184.1h.01M559.3,188.8h.01M561.3,203.6h.01M561.3,174.4h.01M560.7,208.4h.01M560.2,190.2h.01M560.5,187.3h.01M562.5,189.3h.01M558.1,176.3h.01M560.8,192.4h.01M561.7,178.0h.01M560.3,235.3h.01M560.9,185.8h.01M560.8,199.0h.01M562.1,223.5h.01M562.3,207.5h.01M561.4,214.1h.01M561.4,231.7h.01M560.2,227.1h.01M562.7,225.1h.01M562.5,218.4h.01M562.3,183.7h.01M560.8,180.6h.01M561.8,220.1h.01M562.5,192.5h.01M562.8,186.3h.01M559.9,233.0h.01M562.6,223.7h.01M562.6,222.5h.01M560.4,223.2h.01M562.0,224.8h.01M555.8,179.4h.01M559.7,232.4h.01M560.6,188.8h.01M559.7,229.9h.01M562.3,187.3h.01M560.4,197.4h.01M560.2,223.7h.01M561.3,195.9h.01M561.1,190.6h.01M562.3,229.6h.01M561.8,194.0h.01M561.8,219.4h.01M559.0,207.2h.01M562.3,215.6h.01M561.8,182.1h.01M562.5,195.0h.01M562.7,204.5h.01M561.5,198.3h.01M560.1,232.5h.01M561.3,185.9h.01M561.4,220.2h.01M560.3,179.9h.01M562.6,233.2h.01M559.7,186.8h.01M560.8,184.2h.01M560.2,190.2h.01M557.6,193.2h.01M558.3,184.6h.01M557.1,182.4h.01M560.3,212.7h.01M560.4,186.4h.01M559.2,211.6h.01M559.7,212.3h.01M561.7,204.6h.01M562.3,225.4h.01M559.4,216.2h.01M561.8,199.3h.01M562.4,197.1h.01M559.6,208.9h.01M559.5,205.3h.01M562.1,201.0h.01M558.2,210.1h.01M559.7,182.6h.01M558.9,202.4h.01M562.6,192.7h.01M560.4,219.1h.01M562.6,227.2h.01M560.0,181.0h.01M562.6,187.7h.01M559.5,225.5h.01M558.2,224.9h.01M555.2,222.9h.01M562.2,177.2h.01M562.4,227.4h.01M561.0,223.5h.01M558.1,201.5h.01M561.7,185.4h.01M562.2,190.6h.01M562.1,207.8h.01M561.0,222.2h.01M562.7,223.0h.01M562.4,226.5h.01M559.8,229.6h.01M561.5,222.8h.01M560.9,179.4h.01M560.1,175.4h.01M558.8,225.1h.01M482.1,111.5h.01M505.9,112.2h.01M498.3,111.3h.01M510.4,111.2h.01M485.0,113.1h.01M501.9,113.2h.01M484.6,111.6h.01M478.7,112.3h.01M489.3,111.7h.01M487.3,112.9h.01M497.8,111.1h.01M482.4,111.8h.01M500.8,111.6h.01M482.0,111.0h.01M508.8,112.0h.01M484.6,111.8h.01M510.6,111.7h.01M490.0,113.2h.01M488.3,111.6h.01M498.8,111.3h.01M492.0,111.5h.01M493.1,112.3h.01M494.7,112.2h.01M501.1,111.3h.01M485.9,112.0h.01M506.6,111.4h.01M487.6,112.3h.01M493.0,112.7h.01M508.6,112.8h.01M497.8,112.5h.01M492.8,112.3h.01M487.4,111.5h.01M492.6,112.1h.01M500.8,111.2h.01M500.1,110.9h.01M482.5,112.4h.01M507.4,110.8h.01M489.3,112.5h.01M504.9,112.1h.01M496.0,112.5h.01M481.5,111.3h.01M490.1,111.2h.01M490.4,111.2h.01M489.4,113.1h.01M507.4,111.1h.01M498.8,110.9h.01M493.5,112.0h.01M488.5,112.2h.01M500.1,114.1h.01M510.0,113.4h.01M436.9,126.0h.01M437.2,115.3h.01M436.8,113.2h.01M439.6,124.4h.01M437.8,115.2h.01M438.5,116.3h.01M437.1,112.5h.01M438.8,123.9h.01M438.9,120.4h.01M441.4,118.1h.01M439.2,123.6h.01M436.7,116.0h.01M438.5,112.2h.01M439.9,119.6h.01M439.7,114.5h.01M438.6,114.6h.01M439.5,117.5h.01M437.1,117.1h.01M441.1,124.3h.01M440.0,113.6h.01M436.3,115.2h.01M438.8,124.1h.01M439.3,111.8h.01M439.8,122.3h.01M439.1,113.1h.01M437.3,121.8h.01M437.7,112.9h.01M440.8,117.3h.01M436.3,116.2h.01M440.7,122.4h.01M439.8,117.4h.01M438.3,114.6h.01M437.0,117.3h.01M437.0,117.1h.01M438.5,112.2h.01M437.2,118.1h.01M439.5,115.6h.01M437.4,116.0h.01M438.6,121.3h.01M438.7,117.0h.01M440.0,119.0h.01M437.9,120.3h.01M437.6,118.9h.01M436.2,117.9h.01M439.1,113.3h.01M438.8,113.9h.01M437.9,123.4h.01M442.3,122.6h.01M438.3,123.5h.01M439.4,120.2h.01M438.2,112.3h.01M435.6,118.7h.01M442.0,120.4h.01M438.7,121.3h.01M436.9,122.2h.01M439.5,124.0h.01M436.6,122.6h.01M437.0,117.2h.01M437.3,115.6h.01M440.2,114.7h.01M438.1,120.1h.01M436.9,116.8h.01M439.5,118.5h.01M435.8,116.5h.01M439.4,112.4h.01M436.9,113.0h.01M440.3,119.7h.01M436.9,122.2h.01M438.2,112.4h.01M439.1,120.6h.01M437.2,115.6h.01M437.2,119.7h.01M437.7,124.0h.01M439.8,117.8h.01M438.9,121.8h.01M437.8,120.6h.01M438.8,111.5h.01M437.0,121.7h.01M441.8,118.5h.01M437.5,117.8h.01M439.8,122.1h.01M441.1,123.0h.01M437.4,118.7h.01M440.6,113.1h.01M440.9,123.5h.01M438.9,116.4h.01M440.5,121.3h.01M441.3,117.3h.01M436.4,123.2h.01M438.1,123.7h.01M438.7,122.1h.01M437.1,112.0h.01M438.4,116.4h.01M438.4,119.2h.01M435.5,115.3h.01M440.1,111.8h.01M436.4,118.9h.01M436.9,115.9h.01M438.8,122.1h.01M437.3,125.6h.01M437.0,115.3h.01M440.4,120.5h.01M438.0,119.9h.01M441.6,126.0h.01M441.5,121.5h.01M437.6,113.0h.01M438.0,127.0h.01M437.9,112.3h.01M434.5,110.6h.01M440.3,118.5h.01M440.2,119.3h.01M437.0,114.1h.01M439.3,120.3h.01M437.9,117.2h.01M435.0,116.7h.01M439.5,119.9h.01M437.4,112.9h.01M442.1,123.1h.01M439.2,122.6h.01M436.7,116.9h.01M436.2,117.4h.01M434.6,112.6h.01M440.4,114.3h.01M439.4,124.0h.01M438.2,120.7h.01M438.8,116.6h.01M440.5,113.1h.01M439.8,122.9h.01M438.3,116.4h.01M438.7,123.5h.01M437.5,120.4h.01M438.8,120.6h.01M439.0,115.1h.01M438.8,116.7h.01M437.7,114.0h.01M438.5,121.5h.01M438.4,115.5h.01M438.1,114.0h.01M438.3,121.7h.01M438.9,122.5h.01M439.9,117.1h.01M442.2,114.1h.01M440.2,118.7h.01M437.5,123.9h.01M438.0,118.6h.01M436.2,121.6h.01M436.8,112.2h.01M438.9,112.4h.01M441.0,112.0h.01M437.2,126.4h.01M435.3,111.2h.01M437.4,114.2h.01M446.5,111.1h.01M440.1,113.5h.01M438.1,113.1h.01M436.3,113.4h.01M438.4,113.6h.01M440.4,112.9h.01M442.9,112.8h.01M435.0,113.5h.01M438.4,111.2h.01M441.6,113.8h.01M441.7,114.7h.01M447.0,113.5h.01M445.7,113.3h.01M447.9,113.2h.01M444.8,113.4h.01M436.8,114.4h.01M437.4,113.3h.01M444.3,113.2h.01M440.7,113.3h.01M438.9,113.4h.01M442.2,113.9h.01M442.6,113.9h.01M446.0,112.7h.01M441.0,113.4h.01M447.5,115.2h.01M446.7,112.8h.01M442.0,113.1h.01M436.1,112.6h.01M443.5,114.9h.01M439.0,113.9h.01M437.9,112.8h.01M446.5,113.1h.01M433.0,113.2h.01M441.6,112.5h.01M434.0,113.2h.01M443.9,113.1h.01M441.6,114.0h.01M437.9,111.8h.01M438.3,112.6h.01M438.1,112.5h.01M440.2,113.3h.01M445.4,113.2h.01M437.0,114.8h.01M447.5,112.9h.01M444.3,111.9h.01M445.9,112.7h.01M445.6,113.8h.01M448.4,113.3h.01M558.3,115.0h.01M561.6,125.0h.01M556.4,112.3h.01M560.6,126.1h.01M556.2,112.1h.01M558.9,126.6h.01M562.1,124.4h.01M559.7,120.4h.01M560.7,119.9h.01M556.9,120.7h.01M558.4,115.0h.01M555.6,113.1h.01M557.2,122.6h.01M558.4,118.5h.01M560.1,122.0h.01M560.6,125.5h.01M556.2,123.6h.01M558.3,125.1h.01M557.8,120.1h.01M557.3,124.9h.01M558.9,124.6h.01M558.5,122.5h.01M558.4,113.6h.01M560.6,119.3h.01M556.8,119.1h.01M558.9,119.1h.01M556.8,116.0h.01M555.7,117.4h.01M559.3,128.1h.01M558.5,127.2h.01M559.9,124.1h.01M557.9,123.2h.01M557.6,125.9h.01M558.1,120.1h.01M559.5,119.9h.01M559.9,126.3h.01M556.6,115.7h.01M559.2,120.1h.01M558.3,119.1h.01M557.6,119.8h.01M556.6,111.8h.01M556.5,112.9h.01M555.4,114.4h.01M560.2,112.7h.01M556.8,118.7h.01M560.7,128.2h.01M558.7,113.9h.01M555.0,120.5h.01M558.1,113.3h.01M556.8,120.3h.01M557.0,121.2h.01M556.9,121.1h.01M554.5,119.6h.01M555.4,121.6h.01M559.9,125.3h.01M558.6,120.9h.01M561.2,122.4h.01M556.3,123.3h.01M557.6,113.3h.01M558.1,129.4h.01M554.2,113.7h.01M556.5,115.2h.01M559.0,118.1h.01M561.5,126.9h.01M560.0,123.2h.01M557.7,118.3h.01M557.7,122.9h.01M556.7,122.1h.01M561.6,129.5h.01M557.0,112.8h.01M555.5,115.4h.01M559.3,121.7h.01M558.6,124.5h.01M558.2,124.9h.01M556.4,121.9h.01M555.7,125.5h.01M557.7,116.8h.01M556.6,114.2h.01M558.1,125.7h.01M557.4,117.4h.01M557.2,117.0h.01M560.4,113.9h.01M557.8,116.6h.01M557.7,110.6h.01M554.8,116.3h.01M558.2,110.4h.01M556.5,112.7h.01M558.5,116.4h.01M557.3,121.0h.01M556.9,123.5h.01M559.8,128.4h.01M561.1,125.2h.01M556.0,117.9h.01M561.4,123.4h.01M555.5,116.8h.01M559.9,113.0h.01M556.5,116.4h.01M561.3,123.8h.01M558.0,111.1h.01M558.8,121.3h.01M560.0,117.2h.01M560.0,125.6h.01M556.4,111.3h.01M556.1,113.9h.01M556.2,117.3h.01M557.3,121.9h.01M557.1,117.1h.01M555.9,114.4h.01M560.0,118.3h.01M556.6,119.1h.01M559.4,123.3h.01M557.9,120.3h.01M556.3,119.7h.01M556.0,118.8h.01M560.0,123.4h.01M556.6,112.8h.01M558.0,123.3h.01M559.5,112.5h.01M557.7,119.9h.01M556.3,120.3h.01M563.1,125.4h.01M560.3,125.5h.01M557.5,126.4h.01M558.9,115.2h.01M563.2,129.8h.01M557.7,113.6h.01M560.3,123.3h.01M556.8,127.6h.01M557.5,120.6h.01M560.1,117.6h.01M555.3,116.0h.01M555.5,116.0h.01M557.2,114.8h.01M559.9,116.6h.01M559.8,116.6h.01M556.1,112.5h.01M558.6,121.7h.01M559.9,113.5h.01M557.2,114.6h.01M552.9,115.2h.01M557.4,120.2h.01M555.6,113.0h.01M561.6,127.0h.01M558.4,116.7h.01M559.6,124.9h.01M559.6,128.3h.01M559.1,125.6h.01M557.3,116.3h.01M557.7,120.4h.01M557.5,121.1h.01M558.2,123.1h.01M556.5,121.0h.01M561.7,113.6h.01M557.3,118.6h.01M559.4,120.6h.01M555.2,119.7h.01M558.4,121.8h.01M561.9,124.8h.01M557.5,114.3h.01M557.1,123.1h.01M558.8,123.2h.01M559.7,125.5h.01M560.3,113.2h.01M558.3,118.1h.01M556.1,122.7h.01M557.9,113.5h.01M558.1,115.7h.01M559.1,122.8h.01M557.6,120.9h.01M556.6,120.7h.01M560.4,119.9h.01M557.1,115.2h.01M557.8,124.8h.01M559.1,120.0h.01M557.4,116.3h.01M559.2,122.6h.01M556.7,119.2h.01M557.8,120.4h.01M554.6,117.0h.01M562.6,126.9h.01M560.0,122.2h.01M562.0,120.4h.01M563.2,116.8h.01M556.7,121.3h.01M555.3,115.5h.01M557.2,113.4h.01M558.2,123.2h.01M559.1,123.1h.01M560.6,125.1h.01M557.4,116.6h.01M559.9,127.2h.01M557.8,117.2h.01M556.0,113.3h.01M559.2,126.8h.01M559.0,125.0h.01M561.3,120.0h.01M557.2,120.1h.01M557.5,114.9h.01M560.4,125.0h.01M560.2,129.2h.01M552.5,114.3h.01M551.5,112.7h.01M558.6,114.0h.01M551.7,114.3h.01M559.7,112.8h.01M560.3,114.5h.01M558.6,114.2h.01M549.9,114.4h.01M557.4,115.1h.01M559.9,114.5h.01M557.9,111.9h.01M554.8,113.0h.01M559.2,113.9h.01M558.8,113.2h.01M548.6,114.2h.01M556.0,114.0h.01M551.0,115.2h.01M560.3,114.0h.01M551.9,114.4h.01M558.1,115.6h.01M554.7,114.8h.01M554.4,114.1h.01M556.0,114.9h.01M551.9,115.0h.01M557.4,112.9h.01M551.7,115.7h.01M554.3,114.2h.01M556.1,114.5h.01M561.1,113.7h.01M558.5,115.2h.01M559.7,114.9h.01M554.9,115.6h.01M552.2,114.4h.01M557.1,113.0h.01M553.4,114.5h.01M554.8,116.4h.01M551.8,113.7h.01M563.0,113.6h.01M553.2,111.8h.01M561.1,114.4h.01M548.6,113.3h.01M560.8,115.4h.01M554.4,115.6h.01M558.8,115.0h.01M558.4,112.9h.01M551.4,114.4h.01M558.7,114.1h.01M553.7,114.6h.01M561.8,113.7h.01M557.4,113.2h.01M557.8,112.7h.01M560.9,114.9h.01M553.4,114.6h.01M557.3,114.9h.01M561.0,112.5h.01M559.3,115.1h.01M552.4,114.5h.01M560.7,113.6h.01M554.7,114.5h.01M558.1,113.8h.01M561.3,132.1h.01M561.0,146.4h.01M561.0,132.5h.01M561.2,133.0h.01M561.7,139.9h.01M561.5,131.6h.01M561.5,143.7h.01M560.8,136.4h.01M560.4,128.5h.01M560.4,149.1h.01M561.2,145.2h.01M562.5,144.8h.01M561.9,129.9h.01M562.3,130.6h.01M563.0,145.6h.01M560.0,141.1h.01M562.1,142.2h.01M560.0,135.9h.01M560.1,141.1h.01M562.0,144.8h.01M562.3,130.2h.01M560.4,134.2h.01M561.2,140.6h.01M562.2,133.0h.01M560.7,127.3h.01M562.3,146.0h.01M560.5,142.7h.01M560.8,135.9h.01M561.3,138.3h.01M561.5,130.1h.01M561.4,138.4h.01M562.1,147.2h.01M562.3,128.6h.01M561.3,129.5h.01M561.8,147.3h.01M561.4,132.7h.01M561.2,146.4h.01M561.4,136.0h.01M561.7,141.4h.01M560.6,137.0h.01M560.8,135.6h.01M560.9,134.0h.01M560.5,128.9h.01M561.9,128.5h.01M561.8,146.8h.01M560.8,134.5h.01M559.8,129.4h.01M561.5,135.7h.01M561.2,127.1h.01M561.6,142.1h.01M560.6,132.7h.01M561.2,143.6h.01M559.8,135.0h.01M562.0,131.0h.01M563.2,139.4h.01M561.8,130.9h.01M562.1,144.6h.01M562.1,135.5h.01M562.6,130.6h.01M562.1,138.2h.01M559.5,134.5h.01M561.6,139.4h.01M561.2,131.7h.01M561.5,132.2h.01M560.5,135.7h.01M561.4,139.3h.01M561.0,142.3h.01M561.3,135.5h.01M561.2,134.0h.01M561.0,128.0h.01M556.3,206.2h.01M557.7,195.6h.01M555.2,201.1h.01M556.2,188.3h.01M559.9,198.2h.01M556.2,198.4h.01M554.4,194.4h.01M558.1,202.3h.01M555.2,199.2h.01M560.2,205.8h.01M557.5,191.3h.01M559.1,199.3h.01M556.5,192.7h.01M559.3,204.5h.01M560.1,198.1h.01M559.0,190.8h.01M562.0,202.5h.01M559.2,196.0h.01M559.8,193.5h.01M559.6,207.4h.01M555.5,188.2h.01M554.1,191.9h.01M552.3,190.3h.01M561.3,203.5h.01M555.9,190.4h.01M555.5,197.2h.01M558.0,207.6h.01M556.3,187.9h.01M559.2,203.8h.01M557.0,183.8h.01M560.5,192.2h.01M557.6,204.3h.01M557.7,198.5h.01M552.8,188.6h.01M555.4,189.5h.01M558.4,208.2h.01M562.7,204.9h.01M560.0,200.1h.01M560.0,198.1h.01M558.0,202.7h.01M555.1,181.3h.01M560.2,204.6h.01M555.5,196.4h.01M555.8,190.9h.01M557.2,201.1h.01M557.2,196.1h.01M556.2,199.1h.01M553.9,183.3h.01M556.3,190.1h.01M560.0,198.0h.01M557.2,180.6h.01M555.8,199.3h.01M559.1,192.1h.01M553.4,179.3h.01M554.1,196.6h.01M560.5,200.3h.01M559.5,194.1h.01M559.0,196.0h.01M560.3,191.5h.01M559.9,197.7h.01M558.6,197.1h.01M558.3,192.6h.01M554.3,184.3h.01M556.8,208.3h.01M558.7,200.7h.01M558.4,194.2h.01M557.1,191.0h.01M559.0,209.3h.01M557.7,188.1h.01M557.2,207.2h.01M556.5,198.1h.01M554.3,185.3h.01M558.0,199.4h.01M559.3,194.6h.01M557.8,186.2h.01M561.4,203.1h.01M552.9,185.0h.01M560.7,201.7h.01M556.0,201.1h.01M559.2,193.3h.01M556.3,190.6h.01M555.6,200.4h.01M562.4,204.8h.01M557.8,209.5h.01M554.7,184.1h.01M556.5,184.4h.01M557.2,200.3h.01M561.7,203.9h.01M555.3,202.9h.01M555.1,182.3h.01M559.6,194.0h.01M554.9,181.9h.01M556.5,187.7h.01M554.7,192.4h.01M557.6,188.2h.01M556.5,202.7h.01M558.7,181.4h.01M557.4,206.5h.01M558.5,187.2h.01M558.8,197.4h.01M556.1,189.3h.01M553.0,183.0h.01M558.1,190.9h.01M556.7,202.9h.01M551.9,180.2h.01M554.9,182.0h.01M559.0,196.5h.01M559.1,193.1h.01M560.3,204.0h.01M552.1,187.0h.01M555.2,184.5h.01M557.3,205.1h.01M556.9,193.4h.01M556.5,196.9h.01M559.0,196.5h.01M557.3,206.6h.01M552.9,190.8h.01M552.7,181.4h.01M560.5,199.2h.01M556.6,190.2h.01M555.1,189.0h.01M556.6,200.0h.01M559.4,183.6h.01M553.0,208.4h.01M554.9,181.4h.01M556.9,187.5h.01M556.4,181.5h.01M558.9,196.3h.01M557.5,187.8h.01M558.4,194.6h.01M555.2,186.8h.01M560.9,195.4h.01M558.1,197.1h.01M560.0,201.7h.01M558.0,204.5h.01M555.6,181.2h.01M557.5,209.3h.01M561.3,203.3h.01M559.3,203.7h.01M560.0,199.0h.01M557.8,232.8h.01M558.4,223.7h.01M547.4,211.9h.01M559.0,224.9h.01M558.8,220.7h.01M554.6,223.4h.01M556.0,220.1h.01M550.2,210.1h.01M554.2,226.2h.01M556.8,223.9h.01M555.1,227.9h.01M558.0,224.8h.01M557.9,213.9h.01M555.9,223.9h.01M550.8,225.5h.01M552.7,213.3h.01M552.8,203.4h.01M555.4,211.8h.01M548.8,210.3h.01M556.7,230.7h.01M553.4,213.2h.01M556.2,225.8h.01M557.0,215.7h.01M551.7,212.5h.01M555.1,211.3h.01M556.4,216.4h.01M552.1,209.2h.01M558.3,215.2h.01M561.6,229.2h.01M556.7,230.0h.01M551.2,218.3h.01M549.8,210.1h.01M557.2,227.2h.01M549.5,219.2h.01M552.2,221.6h.01M554.3,219.3h.01M555.8,223.4h.01M559.3,215.1h.01M550.6,213.8h.01M556.7,223.5h.01M551.8,211.7h.01M552.9,213.8h.01M557.1,224.6h.01M554.0,221.4h.01M555.4,226.4h.01M557.7,229.8h.01M559.4,222.5h.01M555.9,220.0h.01M550.3,219.0h.01M559.6,232.3h.01M551.2,233.8h.01M555.5,224.7h.01M547.5,205.7h.01M556.8,221.2h.01M554.5,225.0h.01M554.0,219.2h.01M549.8,206.3h.01M557.4,218.3h.01M549.9,211.7h.01M553.4,210.8h.01M558.5,229.1h.01M563.2,235.9h.01M556.2,206.8h.01M552.9,217.2h.01M550.5,213.9h.01M560.8,232.7h.01M550.7,218.5h.01M553.3,229.0h.01M555.6,226.5h.01M561.9,231.6h.01M554.7,221.9h.01M550.4,214.6h.01M555.6,226.9h.01M556.2,215.7h.01M556.0,213.3h.01M553.6,220.3h.01M553.8,217.3h.01M557.9,235.4h.01M551.9,221.0h.01M552.3,220.4h.01M559.1,231.6h.01M560.3,233.8h.01M557.9,229.8h.01M547.5,212.2h.01M551.1,208.3h.01M550.1,211.5h.01M556.4,229.3h.01M559.2,221.1h.01M550.9,215.9h.01M554.3,209.0h.01M548.0,213.0h.01M552.2,214.1h.01M554.0,216.6h.01M557.4,229.6h.01M556.0,214.7h.01M556.5,216.2h.01M555.7,222.0h.01M557.0,225.0h.01M549.9,209.2h.01M553.4,211.7h.01M548.5,204.0h.01M553.3,225.1h.01M559.3,222.4h.01M553.2,212.9h.01M550.3,210.8h.01M554.5,228.3h.01M557.0,213.4h.01M555.1,216.6h.01M556.9,220.7h.01M558.1,230.0h.01M553.9,223.4h.01M560.5,228.1h.01M557.8,224.3h.01M551.4,215.3h.01M552.6,224.9h.01M555.2,215.6h.01M549.8,210.3h.01M556.1,214.4h.01M559.3,230.1h.01M552.0,211.9h.01M556.4,204.5h.01M558.1,217.5h.01M560.8,226.3h.01M551.8,213.6h.01M557.9,230.9h.01M555.4,226.9h.01M553.9,213.0h.01M553.1,219.8h.01M553.1,222.9h.01M556.1,215.8h.01M563.2,230.5h.01M556.4,225.0h.01M555.9,216.2h.01M550.5,212.0h.01M554.5,224.4h.01M551.7,210.5h.01M552.5,218.4h.01M551.7,215.7h.01M559.0,224.1h.01M556.8,234.2h.01M554.7,229.1h.01M551.6,217.5h.01M556.0,217.3h.01M556.3,219.7h.01M563.2,230.7h.01M558.4,215.5h.01M549.6,214.9h.01M558.9,221.1h.01M551.2,212.1h.01M549.5,217.6h.01M552.6,213.9h.01M556.1,215.4h.01M555.3,220.5h.01M558.5,229.2h.01M559.4,232.6h.01M550.5,218.4h.01M562.6,227.3h.01M556.1,224.0h.01M558.3,221.6h.01M550.2,214.7h.01M552.6,216.1h.01M553.4,214.6h.01M555.2,218.9h.01M555.9,229.1h.01M555.2,213.7h.01M558.5,235.9h.01M558.6,229.3h.01M550.3,213.2h.01M552.8,217.5h.01M558.0,220.6h.01M553.3,214.3h.01M562.3,230.7h.01M563.2,226.8h.01M553.6,217.9h.01M552.3,220.2h.01M550.8,206.6h.01M549.7,219.1h.01M558.6,227.3h.01M550.9,211.9h.01M557.3,233.5h.01M555.7,215.1h.01M549.2,213.1h.01M561.1,233.6h.01M553.3,226.8h.01M557.4,225.8h.01M551.8,213.6h.01M553.7,215.4h.01M555.5,219.9h.01M551.4,208.9h.01M549.9,211.3h.01M554.7,228.2h.01M558.7,218.2h.01M554.8,216.7h.01M553.2,218.6h.01M556.9,207.0h.01M555.7,232.9h.01M554.6,223.7h.01M552.9,225.9h.01M550.8,209.7h.01M555.5,228.0h.01M550.1,232.9h.01M540.8,231.4h.01M533.3,228.9h.01M546.8,231.2h.01M550.3,233.9h.01M544.3,233.8h.01M538.0,230.1h.01M541.0,232.8h.01M530.3,232.8h.01M527.5,231.3h.01M546.3,229.1h.01M555.8,235.2h.01M553.0,233.3h.01M533.7,229.8h.01M551.2,233.3h.01M528.5,226.3h.01M544.5,232.5h.01M541.3,232.6h.01M551.5,233.1h.01M548.1,230.0h.01M535.0,230.1h.01M542.5,232.2h.01M536.9,231.9h.01M528.0,227.6h.01M537.8,230.2h.01M544.5,230.5h.01M542.3,228.6h.01M540.4,232.3h.01M549.9,232.4h.01M552.1,235.9h.01M546.5,231.8h.01M539.2,230.3h.01M526.5,231.7h.01M547.3,233.2h.01M554.9,230.9h.01M534.6,230.3h.01M531.6,234.6h.01M531.2,232.4h.01M551.0,233.8h.01M557.8,232.7h.01M547.9,233.7h.01M549.3,229.8h.01M545.5,231.6h.01M539.6,229.1h.01M547.3,231.7h.01M556.3,232.4h.01M527.3,228.2h.01M554.2,232.8h.01M552.4,235.4h.01M541.8,233.0h.01M539.0,228.9h.01M541.1,232.2h.01M552.6,230.2h.01M530.0,232.0h.01M537.9,229.8h.01M528.4,229.9h.01M527.4,228.2h.01M546.8,233.1h.01M543.6,233.2h.01M531.4,230.5h.01M545.2,230.9h.01M546.3,235.4h.01M532.0,228.8h.01M548.2,232.4h.01M558.2,232.3h.01M535.7,230.1h.01M536.0,231.9h.01M543.0,229.7h.01M543.4,233.4h.01M533.0,232.3h.01M542.6,231.2h.01M540.1,229.3h.01M559.1,235.0h.01M551.8,233.1h.01M538.2,230.5h.01M533.7,231.7h.01M558.4,232.7h.01M531.6,227.8h.01M550.1,231.3h.01M534.1,231.0h.01M540.2,235.9h.01M530.0,228.9h.01M532.7,229.5h.01M544.5,231.3h.01M540.7,233.4h.01M536.8,229.2h.01M529.2,230.8h.01M555.2,232.9h.01M544.3,231.9h.01M532.0,231.6h.01M545.0,234.4h.01M537.6,230.4h.01M552.4,233.7h.01M536.6,230.3h.01M555.9,235.6h.01M526.1,231.2h.01M535.1,232.6h.01M548.3,233.5h.01M546.4,232.8h.01M551.4,230.2h.01M554.2,235.0h.01M544.3,230.5h.01M545.0,233.5h.01M533.3,230.9h.01M534.5,226.7h.01M535.4,229.7h.01M527.4,230.8h.01M539.0,231.6h.01M527.0,230.4h.01M538.8,228.9h.01M543.9,230.2h.01M551.1,231.3h.01M549.8,233.8h.01M543.2,233.4h.01M532.6,230.8h.01M548.8,230.7h.01M548.9,229.8h.01M553.5,232.2h.01M540.5,231.1h.01M538.2,233.0h.01M537.2,228.4h.01M529.2,232.2h.01M539.4,229.5h.01M529.9,225.4h.01M529.3,228.3h.01M544.4,232.3h.01M559.2,232.6h.01M550.9,230.3h.01M559.3,234.6h.01M537.2,226.8h.01M531.3,231.0h.01M546.5,230.8h.01M560.0,235.9h.01M534.8,228.9h.01M535.8,234.7h.01M552.8,233.0h.01M546.8,227.7h.01M549.9,233.7h.01M533.5,232.8h.01M538.6,231.7h.01M549.2,231.8h.01M545.5,231.7h.01M544.5,231.6h.01M554.9,230.5h.01M534.2,231.4h.01M532.7,231.2h.01M557.5,234.8h.01M542.7,229.3h.01M549.3,233.0h.01M545.7,231.4h.01M530.4,231.8h.01M538.7,231.8h.01M550.2,231.7h.01M557.6,235.6h.01M540.8,229.2h.01M550.7,230.0h.01M531.9,230.5h.01M545.6,235.0h.01M543.0,231.4h.01M532.0,232.4h.01M530.6,226.9h.01M531.3,229.5h.01M545.5,232.8h.01M539.2,230.9h.01M555.1,235.2h.01M534.6,228.8h.01M535.5,232.4h.01M550.1,234.7h.01M541.2,231.0h.01M540.5,230.7h.01M541.9,233.2h.01M539.3,233.5h.01M529.8,231.3h.01M535.3,228.0h.01M555.6,234.5h.01M534.3,230.8h.01M553.5,233.1h.01M528.3,231.4h.01M528.1,230.4h.01M554.8,235.1h.01M534.2,229.7h.01M541.8,233.0h.01M557.3,231.1h.01M543.8,230.5h.01M547.4,233.0h.01M540.9,232.4h.01M558.7,232.8h.01M557.3,233.7h.01M537.9,229.7h.01M550.2,232.6h.01M555.3,235.9h.01M542.2,232.2h.01M556.7,232.1h.01M554.6,235.0h.01M539.8,231.6h.01M532.0,229.0h.01M544.1,232.3h.01M551.2,233.9h.01M540.3,231.1h.01M536.8,230.2h.01M524.7,228.2h.01M532.1,231.9h.01M527.3,231.0h.01M533.9,233.4h.01M532.5,233.8h.01M528.5,230.1h.01M523.0,225.8h.01M534.7,232.8h.01M529.3,230.6h.01M532.9,230.1h.01M520.8,228.4h.01M518.0,224.2h.01M526.4,228.2h.01M532.8,232.8h.01M520.1,227.4h.01M536.1,231.4h.01M533.8,230.7h.01M517.2,226.5h.01M519.4,225.4h.01M522.2,227.6h.01M524.1,227.2h.01M524.5,228.7h.01M527.9,229.5h.01M523.7,230.2h.01M517.9,227.5h.01M521.7,228.5h.01M522.0,226.9h.01M526.3,228.3h.01M528.7,231.8h.01M517.9,227.2h.01M527.2,229.8h.01M526.8,228.5h.01M519.8,226.2h.01M519.8,226.6h.01M532.5,230.3h.01M532.7,231.0h.01M526.0,227.6h.01M527.4,229.2h.01M517.9,226.5h.01M527.0,228.6h.01M533.6,231.9h.01M516.8,227.7h.01M525.2,228.0h.01M523.2,227.0h.01M528.4,229.7h.01M515.2,227.8h.01M522.6,232.0h.01M526.7,228.4h.01M527.1,230.4h.01M522.1,229.0h.01M437.9,228.7h.01M448.9,230.8h.01M445.7,233.8h.01M435.0,226.7h.01M437.9,228.6h.01M441.7,230.6h.01M441.8,225.9h.01M448.2,233.8h.01M447.9,232.8h.01M447.8,230.2h.01M445.2,235.1h.01M451.5,230.2h.01M446.0,229.1h.01M437.1,227.7h.01M444.7,230.9h.01M446.3,230.6h.01M447.7,231.8h.01M444.7,231.3h.01M444.5,234.5h.01M434.7,228.1h.01M436.3,225.5h.01M444.6,230.6h.01M436.4,230.5h.01M448.7,231.5h.01M442.0,227.0h.01M440.6,227.0h.01M446.5,232.7h.01M445.1,230.4h.01M446.6,231.4h.01M435.9,225.6h.01M438.4,227.1h.01M447.2,232.0h.01M440.7,230.2h.01M440.0,230.4h.01M444.8,235.9h.01M435.9,226.7h.01M446.3,231.1h.01M442.5,231.0h.01M443.1,232.5h.01M436.3,228.0h.01M446.4,232.3h.01M437.6,231.5h.01M446.8,235.5h.01M440.2,226.5h.01M434.3,227.5h.01M438.7,228.9h.01M437.2,229.0h.01M444.6,232.2h.01M440.5,228.0h.01M449.6,232.0h.01M440.0,227.1h.01M445.3,233.1h.01M443.5,230.5h.01M440.3,231.7h.01M446.0,233.6h.01M440.6,227.9h.01M444.3,229.0h.01M445.7,232.5h.01M441.7,230.1h.01M436.3,230.4h.01M442.9,231.3h.01M442.4,231.1h.01M439.5,231.5h.01M445.1,231.3h.01M436.8,227.4h.01M448.2,231.2h.01M442.5,230.8h.01M445.5,233.3h.01M442.6,234.2h.01M442.8,230.3h.01M440.3,231.9h.01M440.2,228.8h.01M439.0,231.8h.01M442.1,234.5h.01M440.2,229.2h.01M449.4,230.2h.01M441.8,230.7h.01M434.2,229.0h.01M445.8,230.1h.01M440.9,229.4h.01M447.8,231.9h.01M446.5,231.3h.01M442.7,233.1h.01M439.2,227.1h.01M445.3,233.0h.01M444.3,230.8h.01M441.5,232.7h.01M437.0,229.1h.01M435.6,227.1h.01M441.9,228.6h.01M438.0,230.5h.01M438.0,224.0h.01M450.6,234.3h.01M439.9,230.0h.01M440.9,231.3h.01M440.2,229.8h.01M443.9,228.0h.01M445.5,229.7h.01M444.3,231.5h.01M440.7,228.6h.01M447.5,235.2h.01M442.5,229.7h.01M437.4,227.1h.01M442.5,232.0h.01M439.9,229.0h.01M449.9,234.8h.01M434.5,226.8h.01M444.7,234.4h.01M436.0,232.1h.01M441.5,229.5h.01M440.1,210.1h.01M439.3,210.2h.01M437.7,209.5h.01M443.4,210.2h.01M439.6,209.6h.01M439.5,210.5h.01M439.6,209.1h.01M442.8,210.7h.01M442.5,211.3h.01M446.6,210.1h.01M436.8,209.7h.01M442.0,210.0h.01M447.8,212.6h.01M445.4,210.7h.01M446.9,211.3h.01M444.6,211.6h.01M448.3,210.8h.01M439.5,209.6h.01M442.3,211.8h.01M440.3,210.1h.01M445.3,211.2h.01M439.1,210.4h.01M440.2,210.5h.01M448.3,213.4h.01M444.0,210.9h.01M436.2,208.4h.01M442.0,210.3h.01M437.4,209.4h.01M445.4,210.9h.01M447.5,212.8h.01M441.9,210.8h.01M441.3,209.4h.01M444.3,211.3h.01M443.5,211.0h.01M440.3,210.8h.01M445.5,211.5h.01M445.2,211.4h.01M435.5,207.9h.01M442.3,211.0h.01M444.4,210.5h.01M450.4,218.5h.01M451.7,218.2h.01M449.5,216.0h.01M445.3,215.0h.01M450.5,219.3h.01M450.2,216.4h.01M452.4,218.4h.01M450.5,216.4h.01M449.7,217.9h.01M447.3,216.2h.01M446.1,215.3h.01M453.0,218.8h.01M448.2,217.3h.01M448.0,215.4h.01M454.0,219.0h.01M453.1,218.1h.01M450.6,218.5h.01M446.8,215.7h.01M453.0,219.7h.01M451.3,216.6h.01M454.0,218.3h.01M450.3,216.4h.01M450.5,216.0h.01M449.8,216.6h.01M450.3,216.6h.01M452.7,216.2h.01M452.9,218.6h.01M455.1,220.0h.01M453.0,218.8h.01M451.9,217.9h.01M450.9,218.8h.01M451.2,217.3h.01M447.1,213.9h.01M454.0,218.0h.01M447.0,214.8h.01M451.0,217.7h.01M452.7,218.7h.01M453.4,219.2h.01M450.4,218.9h.01M449.6,215.0h.01M444.4,230.0h.01M442.4,229.7h.01M475.5,232.8h.01M497.4,233.0h.01M476.0,232.4h.01M448.9,231.8h.01M473.1,230.5h.01M459.2,230.9h.01M475.0,232.8h.01M452.5,231.0h.01M436.3,229.9h.01M460.1,232.5h.01M436.9,229.8h.01M487.4,233.3h.01M473.4,232.1h.01M441.6,228.9h.01M498.4,234.9h.01M455.3,230.9h.01M461.1,230.9h.01M462.2,230.7h.01M485.9,232.6h.01M480.2,231.7h.01M500.2,234.4h.01M480.5,231.5h.01M483.8,232.9h.01M489.0,233.7h.01M477.6,232.3h.01M466.0,232.2h.01M483.3,233.4h.01M489.8,233.0h.01M455.7,232.0h.01M471.0,232.3h.01M463.3,229.5h.01M480.1,231.2h.01M493.5,233.6h.01M489.7,233.0h.01M461.0,230.6h.01M449.3,230.9h.01M468.6,232.0h.01M436.7,231.1h.01M452.7,231.2h.01M495.5,232.6h.01M454.0,232.2h.01M494.6,232.6h.01M479.6,233.6h.01M444.6,229.5h.01M435.7,229.2h.01M492.1,234.2h.01M462.8,231.5h.01M454.1,229.4h.01M495.0,233.7h.01M457.8,231.6h.01M483.8,232.6h.01M442.1,230.8h.01M465.2,230.9h.01M462.4,231.2h.01M445.0,229.2h.01M479.5,232.4h.01M456.7,230.5h.01M484.0,232.2h.01M443.3,142.3h.01M445.5,144.0h.01M442.2,142.3h.01M445.5,144.0h.01M442.8,142.7h.01M446.5,143.2h.01M443.8,142.9h.01M442.3,142.5h.01M441.8,142.4h.01M441.2,141.6h.01M440.6,142.2h.01M443.2,143.3h.01M444.7,142.2h.01M444.3,142.9h.01M444.0,143.0h.01M442.9,141.6h.01M440.0,141.5h.01M443.2,143.0h.01M440.5,141.4h.01M445.2,143.2h.01M440.1,141.9h.01M440.7,142.3h.01M444.8,143.7h.01M445.0,143.6h.01M438.6,141.8h.01M436.4,154.3h.01M435.7,152.9h.01M438.1,153.9h.01M437.5,156.5h.01M437.1,156.1h.01M436.9,156.2h.01M437.2,155.6h.01M437.5,157.9h.01M436.3,150.1h.01M436.2,152.6h.01M435.9,149.8h.01M436.2,150.1h.01M437.0,152.6h.01M435.0,151.0h.01M436.3,152.4h.01M436.8,151.1h.01M436.1,149.9h.01M436.6,154.8h.01M436.1,151.8h.01M436.8,153.8h.01M436.5,154.9h.01M436.2,149.9h.01M436.9,156.3h.01M436.0,151.2h.01M437.7,156.1h.01M492.8,197.5h.01M492.6,196.9h.01M487.6,195.5h.01M493.1,196.5h.01M494.7,196.4h.01M495.4,196.5h.01M495.3,196.7h.01M489.5,196.7h.01M488.3,196.1h.01M492.8,197.2h.01M491.7,196.5h.01M492.1,196.5h.01M494.0,196.3h.01M495.3,196.9h.01M488.7,196.6h.01M490.9,196.3h.01M524.8,133.6h.01M525.6,133.7h.01M524.4,133.5h.01M523.0,133.3h.01M525.1,133.6h.01M523.0,133.2h.01M522.9,133.2h.01M523.2,133.4h.01M524.7,134.2h.01M525.6,133.5h.01M525.3,134.1h.01M523.5,133.4h.01M538.4,143.8h.01M537.4,143.4h.01M538.6,145.2h.01M538.5,144.2h.01M537.9,143.8h.01M539.2,144.5h.01M537.5,143.6h.01M537.4,143.7h.01M538.4,144.1h.01M537.6,143.6h.01M551.0,134.1h.01M550.0,134.3h.01M551.6,133.9h.01M554.3,134.7h.01M555.5,134.2h.01M550.2,132.6h.01M549.1,134.4h.01M553.1,135.4h.01M551.0,134.4h.01M555.7,134.4h.01M549.6,134.2h.01M556.2,135.0h.01M554.9,134.4h.01M550.6,134.4h.01M552.7,133.8h.01M554.0,134.9h.01M553.8,133.6h.01M556.1,133.7h.01M554.2,134.0h.01M550.4,133.6h.01M548.8,192.7h.01M542.3,191.6h.01M544.3,192.8h.01M549.6,192.5h.01M547.3,192.7h.01M545.2,192.8h.01M543.8,190.5h.01M546.8,192.2h.01M548.2,192.2h.01M546.8,190.9h.01M542.9,191.5h.01M546.4,192.8h.01M542.8,191.0h.01M543.9,191.0h.01M543.3,191.2h.01M543.1,191.1h.01M548.4,192.1h.01M546.1,190.9h.01M544.7,192.7h.01M544.3,191.2h.01M493.2,112.7h.01M483.7,110.4h.01M489.8,114.0h.01M499.2,116.9h.01M484.9,112.9h.01M504.4,116.9h.01M487.2,111.8h.01M491.4,115.1h.01M489.2,113.6h.01M483.6,113.4h.01M490.6,114.0h.01M506.0,119.3h.01M492.5,115.1h.01M487.9,115.2h.01M495.6,116.4h.01M486.9,114.9h.01M492.1,115.1h.01M509.9,117.2h.01M481.9,115.0h.01M492.7,113.1h.01M500.9,116.4h.01M486.9,114.4h.01M484.3,114.0h.01M480.3,110.4h.01M497.6,117.3h.01M493.8,117.6h.01M488.0,114.6h.01M489.0,113.3h.01M499.4,116.1h.01M489.3,114.5h.01M496.3,115.4h.01M482.4,113.9h.01M507.5,114.5h.01M492.2,117.6h.01M483.9,114.0h.01M502.7,113.0h.01M487.2,112.0h.01M493.2,116.2h.01M496.8,113.9h.01M489.4,114.2h.01M506.0,115.5h.01M490.0,116.5h.01M497.6,114.5h.01M500.7,115.8h.01M499.3,113.2h.01M490.5,112.4h.01M498.1,114.7h.01M486.5,115.7h.01M503.0,119.3h.01M503.6,116.5h.01M557.1,168.9h.01M558.5,166.7h.01M560.0,165.9h.01M560.5,163.1h.01M558.9,161.7h.01M555.6,159.1h.01M556.9,166.1h.01M554.5,155.9h.01M551.1,157.1h.01M554.6,158.3h.01M559.3,169.0h.01M555.9,158.7h.01M556.3,162.0h.01M556.3,165.6h.01M556.9,159.5h.01M561.2,169.9h.01M553.2,152.3h.01M553.8,154.3h.01M558.6,163.9h.01M556.3,159.0h.01M551.9,152.7h.01M556.7,159.3h.01M552.8,155.8h.01M553.1,157.6h.01M562.0,168.6h.01M557.6,160.3h.01M558.1,162.8h.01M556.2,164.2h.01M557.5,167.8h.01M556.3,165.3h.01M556.5,158.1h.01M555.7,159.9h.01M554.4,151.8h.01M552.5,155.6h.01M555.7,156.6h.01M559.3,165.3h.01M552.3,150.2h.01M559.4,165.9h.01M550.7,148.6h.01M556.4,161.8h.01" stroke="#2020dc" stroke-width="1.3" stroke-linecap="round" fill="none" opacity="0.95"/>
<rect x="478.6" y="155.6" width="38" height="36.6" fill="none" stroke="#2a2a2a" stroke-width="1.4"/>
<rect x="574" y="106.6" width="141" height="135.1" fill="#fff" stroke="#7c7c7c" stroke-width="1.3"/>
<path d="M608.9,117.4h.01M609.7,119.6h.01M609.3,122.4h.01M609.6,125.0h.01M610.1,128.1h.01M610.5,131.1h.01M610.6,134.8h.01M610.9,137.9h.01M611.3,140.8h.01M611.5,144.1h.01M612.7,146.0h.01M612.6,148.9h.01M612.9,151.3h.01M613.0,154.3h.01M613.7,157.0h.01M614.4,161.0h.01M614.7,163.0h.01M615.9,165.5h.01M616.6,168.2h.01M617.4,171.5h.01M617.3,173.9h.01M619.1,176.8h.01M619.6,180.1h.01M620.6,183.6h.01M620.6,185.9h.01M621.2,189.5h.01M621.0,192.5h.01M621.2,195.2h.01M621.1,198.0h.01M620.2,201.4h.01M621.0,205.3h.01M620.3,208.7h.01M619.8,211.6h.01M619.8,214.9h.01M619.2,217.8h.01M619.2,220.5h.01M619.0,223.3h.01M619.2,224.7h.01M589.2,163.4h.01M590.4,162.8h.01M592.8,162.0h.01M595.0,162.7h.01M597.6,161.9h.01M600.6,162.0h.01M603.6,161.6h.01M606.3,161.0h.01M608.8,161.0h.01M611.7,160.2h.01M614.2,159.7h.01M617.1,160.2h.01M619.8,159.2h.01M621.9,159.0h.01M589.2,162.6h.01M589.4,164.1h.01M590.5,165.8h.01M591.2,168.2h.01M592.4,169.6h.01M593.7,172.2h.01M595.3,174.4h.01M596.6,176.9h.01M597.8,178.6h.01M599.3,180.7h.01M601.1,183.0h.01M602.9,184.3h.01M604.7,185.7h.01M606.2,186.9h.01M608.4,188.1h.01M610.9,188.9h.01M613.1,190.5h.01M615.3,191.5h.01M617.0,192.1h.01M619.3,192.6h.01M621.9,194.0h.01M623.0,195.3h.01M625.7,196.2h.01M627.7,196.7h.01M630.1,197.3h.01M632.4,198.0h.01M634.8,198.7h.01M637.2,199.3h.01M638.9,200.5h.01M641.0,201.0h.01M642.9,202.4h.01M644.7,203.6h.01M646.5,205.0h.01M647.9,207.2h.01M649.9,209.2h.01M651.4,211.1h.01M653.4,212.7h.01M654.9,214.7h.01M657.5,215.6h.01M660.0,217.1h.01M661.8,217.3h.01M663.4,217.8h.01M666.2,216.8h.01M668.2,217.3h.01M671.6,217.3h.01M674.1,217.2h.01M676.7,216.9h.01M680.0,216.9h.01M682.2,216.3h.01M684.9,216.0h.01M687.1,215.6h.01M689.8,215.5h.01M691.3,215.5h.01M692.9,215.3h.01M631.0,112.1h.01M631.3,114.0h.01M632.9,116.5h.01M633.6,120.1h.01M634.7,123.5h.01M635.8,127.5h.01M637.3,131.3h.01M638.1,133.7h.01M638.7,137.2h.01M639.7,141.0h.01M640.3,144.1h.01M641.0,147.9h.01M641.9,150.7h.01M642.6,153.4h.01M644.8,157.3h.01M647.0,159.9h.01M649.7,162.2h.01M652.5,164.8h.01M655.1,165.7h.01M658.5,166.7h.01M661.7,167.1h.01M665.7,166.5h.01M668.6,166.2h.01M671.0,165.8h.01M672.2,165.0h.01M673.9,163.7h.01M676.4,162.7h.01M679.0,160.6h.01M681.1,158.9h.01M684.6,156.7h.01M686.8,154.8h.01M689.4,153.6h.01M692.0,151.8h.01M694.2,150.3h.01M697.0,148.4h.01M700.0,146.4h.01M702.0,144.9h.01M704.2,143.4h.01M706.3,142.0h.01M670.8,166.3h.01M672.0,167.0h.01M673.2,168.7h.01M675.4,170.1h.01M676.9,172.6h.01M678.8,174.5h.01M681.2,176.8h.01M682.9,180.2h.01M684.7,182.9h.01M685.7,185.1h.01M686.3,186.9h.01M687.5,189.6h.01M688.7,192.7h.01M689.2,195.6h.01M690.0,198.1h.01M690.7,201.1h.01M691.9,204.1h.01M691.9,206.8h.01M692.6,209.0h.01M693.4,211.5h.01M693.7,213.1h.01M609.0,118.2h.01M608.0,119.3h.01M606.5,121.0h.01M604.8,123.6h.01M603.1,125.1h.01M600.8,128.7h.01M599.0,131.1h.01M596.6,133.4h.01M595.2,136.3h.01M593.1,138.6h.01M591.8,141.3h.01M590.2,144.8h.01M588.7,148.8h.01M587.6,152.2h.01M586.1,155.2h.01M585.8,158.3h.01M584.7,161.5h.01M587.4,202.1h.01M588.4,202.6h.01M591.3,201.7h.01M593.3,201.1h.01M595.9,200.9h.01M599.3,200.2h.01M602.5,199.2h.01M605.8,198.8h.01M609.2,198.4h.01M611.7,197.8h.01M614.4,197.0h.01M617.0,196.9h.01M620.3,195.6h.01M622.3,195.3h.01M625.1,194.5h.01M627.8,193.9h.01M630.1,193.4h.01M633.2,192.8h.01M635.9,192.6h.01M638.1,192.2h.01M641.3,192.0h.01M643.6,191.7h.01M645.9,191.6h.01M649.3,191.4h.01M651.7,191.6h.01M654.6,191.0h.01M656.9,190.4h.01M660.2,190.5h.01M663.4,189.4h.01M665.3,189.1h.01M668.4,188.0h.01M671.1,187.4h.01M673.7,186.4h.01M676.6,185.9h.01M679.8,184.8h.01M682.0,184.0h.01M684.5,182.9h.01M687.4,181.7h.01M690.5,180.8h.01M693.0,179.4h.01M696.8,178.0h.01M699.2,176.9h.01M701.7,175.6h.01M704.3,174.5h.01M706.3,173.3h.01M648.0,111.7h.01M649.3,113.3h.01M650.9,115.4h.01M652.9,118.1h.01M654.9,120.8h.01M657.4,123.6h.01M659.9,125.6h.01M662.4,127.6h.01M665.1,129.0h.01M667.6,129.3h.01M670.1,129.2h.01M673.2,129.1h.01M676.3,127.5h.01M678.8,127.3h.01M682.3,125.4h.01M685.4,124.9h.01M687.6,123.3h.01M690.6,121.5h.01M693.2,120.2h.01M695.2,119.0h.01M697.6,116.9h.01M660.1,195.0h.01M660.6,196.2h.01M661.2,198.2h.01M662.0,200.2h.01M662.3,202.5h.01M663.5,205.2h.01M663.9,207.0h.01M664.8,210.6h.01M665.2,212.5h.01M664.6,215.3h.01M664.8,216.7h.01M663.3,219.5h.01M662.3,222.0h.01M660.3,224.7h.01M658.8,226.7h.01M657.4,228.7h.01M656.4,230.1h.01M623.1,165.6h.01M624.8,167.0h.01M627.8,168.5h.01M630.5,170.1h.01M634.0,171.6h.01M637.3,172.5h.01M640.3,173.4h.01M643.5,172.7h.01M646.5,170.9h.01M650.0,169.8h.01M653.3,167.9h.01M656.1,166.0h.01M658.3,164.4h.01M630.6,155.6h.01M630.8,157.5h.01M632.0,159.0h.01M632.4,162.2h.01M632.7,164.6h.01M633.3,167.7h.01M633.5,170.2h.01M634.3,173.1h.01M635.1,175.4h.01M635.4,177.9h.01M637.2,180.4h.01M638.3,183.2h.01M639.8,185.6h.01M641.1,187.2h.01M641.4,188.8h.01M594.2,112.0h.01M595.4,113.0h.01M597.4,113.5h.01M599.4,114.5h.01M600.4,115.5h.01M602.9,116.6h.01M605.0,117.8h.01M607.8,119.5h.01M610.4,120.5h.01M612.8,121.5h.01M615.6,122.8h.01M618.3,123.5h.01M620.6,124.1h.01M623.4,124.7h.01M625.9,125.1h.01M627.9,124.3h.01M629.7,124.2h.01M632.6,124.5h.01M635.1,124.3h.01M637.5,123.7h.01M640.5,123.3h.01M642.9,122.7h.01M645.7,122.1h.01M647.8,121.2h.01M650.1,120.8h.01M653.3,120.9h.01M655.3,120.4h.01M658.2,119.6h.01M660.2,119.2h.01M663.0,118.6h.01M665.5,117.9h.01M669.0,117.4h.01M672.1,116.2h.01M674.4,115.8h.01M677.1,115.2h.01M680.1,114.7h.01M681.5,113.9h.01M684.7,113.2h.01M686.5,113.0h.01M688.0,112.6h.01M582.0,182.5h.01M583.2,184.0h.01M584.5,185.5h.01M586.3,187.5h.01M588.2,188.7h.01M590.4,191.2h.01M593.1,193.4h.01M595.1,195.7h.01M596.4,197.6h.01M597.9,200.0h.01M598.6,202.4h.01M599.4,205.0h.01M599.6,208.0h.01M599.9,210.7h.01M598.7,214.4h.01M598.5,217.3h.01M598.2,220.2h.01M597.4,222.6h.01M596.9,225.1h.01M694.8,215.1h.01M696.0,213.5h.01M697.9,211.5h.01M700.4,208.3h.01M702.4,205.8h.01M703.9,202.2h.01M705.0,199.6h.01M705.4,196.7h.01M707.0,193.5h.01M707.0,190.9h.01M707.8,187.3h.01M707.3,184.4h.01M636.0,207.7h.01M635.1,209.2h.01M634.8,211.5h.01M634.0,213.9h.01M633.3,217.5h.01M631.9,220.2h.01M632.2,222.7h.01M631.1,224.9h.01M672.6,112.1h.01M672.8,113.2h.01M673.5,115.8h.01M674.0,117.8h.01M674.5,120.8h.01M675.0,124.2h.01M675.9,127.3h.01M677.0,129.9h.01M676.9,132.9h.01M677.2,136.7h.01M677.0,138.9h.01M676.6,141.6h.01M676.6,144.3h.01M675.5,147.3h.01M674.8,149.9h.01M674.6,152.9h.01M674.0,155.3h.01M672.7,158.2h.01M672.1,160.4h.01M671.7,162.9h.01M671.1,164.7h.01M586.9,129.3h.01M588.1,129.2h.01M590.4,129.9h.01M591.9,129.9h.01M594.2,131.1h.01M596.3,131.6h.01M599.2,132.8h.01M601.4,133.4h.01M604.2,133.8h.01M606.4,134.8h.01M609.3,135.7h.01M611.4,136.1h.01M613.9,136.7h.01M616.4,137.4h.01M618.6,138.4h.01M620.8,138.7h.01M623.2,139.6h.01M625.6,140.3h.01M628.0,140.6h.01M630.6,140.8h.01M633.4,141.4h.01M635.7,141.6h.01M637.8,141.3h.01M640.3,141.1h.01M642.8,141.1h.01M645.5,141.0h.01M648.0,140.9h.01M649.8,140.5h.01M653.1,140.6h.01M655.5,139.7h.01M657.9,139.6h.01M660.6,139.6h.01M662.5,139.2h.01M665.1,138.8h.01M667.7,138.7h.01M670.3,138.0h.01M672.5,138.1h.01M675.1,136.9h.01M678.0,136.5h.01M680.2,135.7h.01M682.9,135.6h.01M685.4,134.4h.01M687.5,134.3h.01M689.3,133.7h.01M691.9,133.3h.01M694.8,133.0h.01M697.8,132.1h.01M700.2,131.0h.01M702.5,130.8h.01M704.6,129.8h.01M706.3,128.9h.01M591.8,219.5h.01M593.4,218.8h.01M596.1,218.4h.01M598.5,218.2h.01M600.7,217.3h.01M603.4,216.1h.01M607.3,215.6h.01M610.1,214.9h.01M613.7,214.1h.01M616.9,213.3h.01M620.2,212.6h.01M623.4,212.2h.01M626.0,211.6h.01M629.0,210.9h.01M632.1,210.7h.01M634.3,210.1h.01M637.8,209.9h.01M640.8,209.2h.01M643.7,208.5h.01M646.3,208.4h.01M649.2,208.0h.01M651.4,207.6h.01M654.8,207.5h.01M657.5,207.3h.01M659.6,207.4h.01M663.0,207.8h.01M666.7,207.4h.01M669.9,208.3h.01M672.8,208.6h.01M676.4,209.0h.01M679.1,209.8h.01M681.6,209.8h.01M683.9,210.8h.01M686.9,211.6h.01M689.3,211.9h.01M692.6,213.3h.01M696.0,215.0h.01M699.1,216.4h.01M701.6,218.8h.01M704.7,219.5h.01M706.2,221.3h.01M625.6,160.8h.01M627.2,160.6h.01M629.0,160.6h.01M631.9,160.3h.01M634.3,161.2h.01M637.4,160.9h.01M640.3,161.8h.01M642.8,163.5h.01M644.6,164.3h.01M646.0,166.0h.01M647.9,168.0h.01M649.9,169.9h.01M651.9,172.0h.01M653.3,174.5h.01M655.1,176.4h.01M656.9,178.0h.01M658.3,180.4h.01M659.5,182.0h.01M598.9,226.8h.01M600.2,225.0h.01M600.8,223.5h.01M602.4,221.7h.01M604.0,219.1h.01M605.0,216.5h.01M607.2,213.9h.01M608.6,211.8h.01M610.0,209.4h.01M611.6,207.3h.01M613.5,205.4h.01M615.1,203.0h.01M617.2,200.7h.01M619.2,199.2h.01M620.7,197.3h.01M622.1,195.8h.01M642.6,202.6h.01M643.3,204.2h.01M644.0,206.8h.01M645.2,209.8h.01M646.3,213.4h.01M647.1,216.4h.01M647.3,220.3h.01M648.1,222.5h.01M647.3,226.6h.01M646.3,230.2h.01M684.4,153.5h.01M685.7,154.6h.01M686.0,156.3h.01M686.7,158.7h.01M688.1,160.7h.01M689.3,163.7h.01M690.8,165.9h.01M691.1,168.0h.01M692.2,170.8h.01M693.7,173.5h.01M694.1,175.7h.01M694.7,177.9h.01M695.1,179.9h.01M694.1,183.0h.01M694.2,185.1h.01M692.3,188.3h.01M691.8,190.7h.01M690.9,193.0h.01M690.3,194.6h.01M689.9,196.2h.01M587.0,148.4h.01M588.9,148.9h.01M591.0,148.7h.01M594.2,149.2h.01M596.9,149.8h.01M600.3,151.1h.01M603.3,151.4h.01M605.9,153.0h.01M607.9,155.0h.01M609.7,157.3h.01M611.6,158.8h.01M613.3,160.9h.01M614.4,163.9h.01M616.9,167.0h.01M618.4,168.8h.01M619.2,171.0h.01M621.1,173.8h.01M622.9,176.3h.01M623.4,177.8h.01M624.9,182.0h.01M625.7,185.4h.01M625.6,188.3h.01M676.8,166.4h.01M675.1,165.9h.01M673.5,164.7h.01M670.8,163.8h.01M669.0,162.8h.01M665.6,161.5h.01M663.2,159.8h.01M660.3,157.8h.01M657.0,156.5h.01M653.6,154.4h.01M650.1,152.7h.01M646.8,150.5h.01M643.3,149.0h.01M638.9,146.6h.01M634.8,144.8h.01M631.2,142.8h.01M627.3,141.4h.01M623.5,139.5h.01M619.9,137.0h.01M616.2,136.0h.01M612.9,133.9h.01M609.1,132.3h.01M606.1,131.3h.01M601.8,130.4h.01M598.7,129.3h.01M595.8,128.7h.01M593.2,128.3h.01M590.5,127.3h.01M588.1,127.4h.01M584.9,127.4h.01M583.4,127.5h.01M582.0,128.1h.01M579.7,129.4h.01M578.0,130.7h.01M577.1,133.2h.01M577.1,135.5h.01M577.1,138.9h.01M577.1,142.0h.01M577.1,145.4h.01M577.1,149.0h.01M577.1,153.7h.01M577.1,157.5h.01M577.1,161.5h.01M577.1,165.7h.01M577.1,170.5h.01M577.1,174.7h.01M577.1,179.7h.01M577.1,183.8h.01M577.1,187.8h.01M577.1,192.1h.01M577.1,195.9h.01M577.1,199.5h.01M577.1,202.6h.01M577.1,205.7h.01M577.1,208.0h.01M577.1,209.9h.01M578.6,211.6h.01M581.2,213.2h.01M582.6,213.9h.01M585.3,214.8h.01M588.3,215.8h.01M591.1,215.9h.01M594.2,215.8h.01M597.4,216.2h.01M601.1,215.4h.01M605.3,215.2h.01M608.9,214.4h.01M613.2,213.7h.01M617.2,213.5h.01M621.5,212.5h.01M625.5,212.0h.01M629.8,211.2h.01M633.4,209.5h.01M637.7,208.8h.01M641.2,207.8h.01M645.6,206.5h.01M648.5,205.4h.01M652.2,205.0h.01M655.6,204.9h.01M659.1,203.5h.01M661.7,203.1h.01M663.4,202.2h.01M666.2,201.8h.01M663.2,198.3h.01M663.7,197.1h.01M664.7,195.9h.01M665.7,193.6h.01M667.4,192.2h.01M668.0,189.9h.01M669.5,188.0h.01M670.8,185.6h.01M671.9,183.5h.01M674.0,181.1h.01M676.0,178.2h.01M677.2,175.2h.01M679.1,172.6h.01M680.8,170.2h.01M682.5,167.2h.01M684.2,164.7h.01M685.8,161.9h.01M687.3,159.1h.01M688.7,156.6h.01M690.6,153.4h.01M692.2,151.3h.01M693.2,149.2h.01M694.8,147.3h.01M695.8,145.0h.01M697.1,143.2h.01M698.0,141.3h.01M699.5,140.0h.01M689.1,148.1h.01M687.6,148.3h.01M685.6,148.6h.01M683.5,148.2h.01M681.3,148.4h.01M678.7,149.3h.01M675.5,148.9h.01M672.8,149.3h.01M669.7,149.7h.01M665.8,149.9h.01M662.4,150.3h.01M658.9,150.6h.01M655.1,150.6h.01M651.5,151.1h.01M647.9,150.8h.01M643.7,151.6h.01M640.3,152.2h.01M636.0,152.5h.01M632.9,152.8h.01M628.8,153.0h.01M625.3,153.5h.01M621.7,153.8h.01M618.3,154.0h.01M614.6,154.3h.01M612.0,155.2h.01M608.5,155.2h.01M606.0,155.7h.01M603.4,156.1h.01M601.3,156.8h.01M598.8,156.8h.01M597.3,157.4h.01M595.8,157.6h.01M594.5,158.3h.01M593.7,158.5h.01M593.3,159.5h.01M593.0,160.4h.01M594.6,161.2h.01M596.4,162.2h.01M599.1,163.2h.01M601.9,163.4h.01M605.0,164.8h.01M608.9,165.8h.01M612.7,166.6h.01M616.8,167.8h.01M621.2,168.4h.01M625.4,170.0h.01M629.7,170.7h.01M633.5,171.5h.01M637.5,172.2h.01M640.6,172.4h.01M643.6,173.9h.01M645.9,174.6h.01M631.0,171.5h.01M631.4,173.0h.01M632.1,175.8h.01M632.0,179.1h.01M632.2,183.0h.01M632.4,186.9h.01M633.0,191.1h.01M633.7,195.7h.01M633.8,199.0h.01M634.7,201.7h.01M635.0,204.0h.01M636.3,205.3h.01M637.1,205.0h.01M638.2,203.6h.01M638.9,202.5h.01M639.4,201.3h.01M639.8,199.9h.01M639.9,198.0h.01M640.6,196.1h.01M641.1,193.8h.01M642.0,191.1h.01M642.5,188.7h.01M642.8,186.3h.01M643.7,183.6h.01M644.7,180.5h.01M645.0,177.1h.01M646.1,174.1h.01M646.5,170.5h.01M647.5,167.7h.01M647.9,163.8h.01M648.3,159.9h.01M649.3,156.6h.01M650.1,153.0h.01M651.3,150.6h.01M651.5,146.3h.01M652.0,143.3h.01M653.0,139.9h.01M653.5,137.0h.01M654.6,133.6h.01M655.0,131.0h.01M656.0,127.8h.01M656.2,125.8h.01M657.5,122.7h.01M658.3,120.2h.01M658.4,118.3h.01M658.8,116.4h.01M659.5,114.9h.01M660.2,113.4h.01M660.3,111.9h.01M661.2,111.3h.01M661.7,110.9h.01M662.3,110.7h.01M662.4,110.7h.01M662.6,111.3h.01M662.9,112.3h.01M663.1,113.1h.01M663.6,114.1h.01M663.6,116.2h.01M664.6,118.2h.01M664.7,120.8h.01M664.3,122.8h.01M664.9,125.5h.01M664.8,128.4h.01M665.4,130.7h.01M665.4,133.8h.01M665.4,136.9h.01M665.6,140.3h.01M665.6,143.6h.01M666.3,146.7h.01M666.2,150.1h.01M666.6,153.8h.01M666.5,157.0h.01M666.6,160.5h.01M666.2,164.1h.01M666.8,167.7h.01M666.6,171.0h.01M666.6,174.3h.01M666.7,177.5h.01M667.0,180.8h.01M666.9,183.6h.01M667.1,186.6h.01M667.5,189.1h.01M667.4,191.8h.01M667.5,194.4h.01M666.9,196.4h.01M667.0,198.1h.01M667.3,200.2h.01M579.7,210.8h.01M581.4,211.0h.01M583.7,212.0h.01M585.9,212.6h.01M589.2,213.8h.01M591.8,215.2h.01M595.5,216.2h.01M599.0,217.7h.01M602.5,218.6h.01M606.3,220.3h.01M610.3,221.9h.01M614.5,223.3h.01M618.2,224.8h.01M622.5,226.3h.01M625.8,227.4h.01M630.6,228.8h.01M634.1,229.1h.01M637.5,231.0h.01M641.4,231.0h.01M644.6,231.8h.01M646.9,231.8h.01M649.7,232.4h.01M651.9,232.3h.01M653.8,231.6h.01M656.2,230.7h.01M656.5,230.2h.01M656.7,228.5h.01M657.0,227.0h.01M657.0,224.7h.01M656.3,222.6h.01M656.0,220.5h.01M655.0,217.8h.01M654.3,214.9h.01M652.6,212.3h.01M651.1,209.1h.01M649.8,205.5h.01M648.2,202.1h.01M646.6,198.5h.01M644.8,195.3h.01M642.2,191.4h.01M640.2,188.0h.01M638.0,184.2h.01M636.5,180.9h.01M634.2,177.6h.01M632.1,174.0h.01M629.7,170.4h.01M628.1,167.8h.01M626.6,164.2h.01M624.4,160.9h.01M623.3,158.2h.01M621.7,155.4h.01M620.2,153.8h.01M618.8,151.4h.01M618.1,148.9h.01M643.7,170.1h.01M643.1,171.6h.01M643.4,173.0h.01M643.2,175.4h.01M642.5,177.7h.01M642.0,180.1h.01M641.7,182.6h.01M641.1,186.2h.01M640.7,189.2h.01M640.3,192.3h.01M640.2,195.5h.01M639.2,198.9h.01M638.4,202.4h.01M638.3,205.2h.01M637.6,208.7h.01M637.4,211.3h.01M636.4,214.0h.01M636.4,216.8h.01M635.8,218.8h.01M635.7,220.9h.01M635.4,222.7h.01M635.0,223.8h.01M634.8,224.9h.01M634.7,225.6h.01M634.9,225.4h.01M635.0,224.2h.01M635.8,223.6h.01M636.5,221.3h.01M637.1,219.2h.01M637.4,216.0h.01M638.1,213.5h.01M639.2,209.7h.01M640.2,206.5h.01M641.1,203.1h.01M641.7,199.8h.01M642.4,196.1h.01M643.0,193.0h.01M643.5,190.3h.01M643.4,187.7h.01M643.4,185.4h.01M643.4,184.0h.01M643.5,183.1h.01M642.4,182.8h.01M641.6,182.7h.01M639.1,183.8h.01M637.1,185.4h.01M635.4,186.9h.01M633.1,189.4h.01M630.8,191.9h.01M628.5,193.9h.01M625.9,196.7h.01M624.0,198.5h.01M621.8,201.2h.01M620.7,202.5h.01M636.3,187.2h.01M637.5,184.5h.01M638.8,181.1h.01M641.2,176.1h.01M642.7,171.3h.01M644.5,167.1h.01M646.3,163.7h.01M647.6,162.4h.01M647.9,162.8h.01M648.3,164.6h.01M648.8,166.7h.01M648.4,169.6h.01M648.0,172.5h.01M647.8,175.8h.01M647.2,179.3h.01M646.4,183.2h.01M645.7,187.3h.01M646.0,191.8h.01M645.0,195.9h.01M644.3,200.1h.01M644.0,204.8h.01M643.2,208.9h.01M642.9,211.9h.01M642.7,216.0h.01M642.1,219.0h.01M641.3,221.5h.01M709.7,193.3h.01M708.7,193.2h.01M707.4,193.8h.01M706.0,194.5h.01M704.3,195.5h.01M703.0,195.7h.01M700.9,197.3h.01M698.6,198.6h.01M697.1,199.4h.01M695.0,200.4h.01M692.8,200.9h.01M690.4,202.4h.01M687.9,204.3h.01M685.5,205.6h.01M683.3,206.4h.01M680.3,208.2h.01M678.2,209.2h.01M674.9,211.3h.01M672.6,211.9h.01M669.9,213.7h.01M666.7,215.5h.01M664.1,216.4h.01M661.2,218.2h.01M658.4,220.0h.01M656.3,220.9h.01M653.4,222.3h.01M651.4,223.4h.01M648.0,224.6h.01M645.6,226.0h.01M643.7,226.8h.01M641.0,228.2h.01M638.5,229.2h.01M636.4,230.2h.01M634.2,230.5h.01M632.3,231.0h.01M630.6,231.8h.01M629.1,233.1h.01M626.8,233.4h.01M625.6,234.0h.01M624.3,234.1h.01M623.1,234.1h.01M622.0,233.7h.01M621.3,234.1h.01M620.4,233.9h.01M620.3,233.3h.01M619.9,233.0h.01M619.9,232.3h.01M619.9,231.6h.01M620.0,230.3h.01M620.4,228.8h.01M621.3,228.2h.01M621.4,226.7h.01M622.8,224.9h.01M623.0,223.4h.01M624.4,221.7h.01M625.1,219.7h.01M626.1,218.2h.01M627.8,216.0h.01M629.4,213.9h.01M630.7,211.8h.01M632.4,209.6h.01M634.1,207.5h.01M635.2,205.0h.01M637.3,203.0h.01M638.9,200.5h.01M641.0,197.6h.01M642.8,195.3h.01M644.5,193.1h.01M646.8,190.8h.01M647.5,188.4h.01M650.1,186.0h.01M652.3,183.5h.01M653.7,181.5h.01M656.2,178.7h.01M657.6,176.5h.01M659.4,174.2h.01M661.1,172.1h.01M662.8,169.7h.01M664.2,167.5h.01M666.1,165.9h.01M667.4,163.4h.01M669.1,161.9h.01M670.0,160.3h.01M671.9,158.8h.01M672.9,157.5h.01M673.9,156.3h.01M674.9,154.6h.01M675.6,153.7h.01M697.9,150.3h.01M697.4,151.8h.01M696.4,154.6h.01M695.9,156.9h.01M695.5,160.0h.01M693.8,163.4h.01M692.8,166.9h.01M692.0,170.1h.01M690.8,174.7h.01M689.5,177.6h.01M688.0,181.8h.01M687.2,185.6h.01M685.5,189.5h.01M685.0,193.2h.01M683.5,196.5h.01M682.6,199.3h.01M682.0,201.9h.01M681.2,204.2h.01M641.6,197.3h.01M642.4,198.1h.01M644.5,200.2h.01M646.5,202.3h.01M649.4,205.1h.01M652.2,207.7h.01M655.4,211.2h.01M658.3,214.3h.01M662.6,217.1h.01M665.1,220.1h.01M668.6,222.5h.01M671.5,225.0h.01M673.7,226.4h.01M676.7,226.7h.01M678.9,227.1h.01M681.1,226.8h.01M681.6,225.1h.01M682.2,224.0h.01M682.6,222.3h.01M682.7,220.5h.01M683.0,218.7h.01M683.1,216.1h.01M683.2,214.1h.01M683.0,211.1h.01M683.0,208.3h.01M682.8,205.6h.01M682.5,201.8h.01M682.5,198.9h.01M681.4,194.8h.01M682.0,191.9h.01M681.1,188.0h.01M681.0,184.6h.01M680.4,180.7h.01M679.6,176.9h.01M678.8,173.3h.01M678.8,169.4h.01M678.5,165.8h.01M678.0,161.8h.01M676.9,158.1h.01M676.8,154.4h.01M676.1,151.4h.01M675.4,147.6h.01M675.5,144.4h.01M674.5,141.9h.01M673.7,138.3h.01M673.8,135.7h.01M673.4,133.1h.01M672.7,130.6h.01M672.9,129.2h.01M672.9,126.7h.01" stroke="#3838e0" stroke-width="1.15" stroke-linecap="round" fill="none" opacity="0.62"/>
<path d="M700.0,111.4h.01M588.6,109.8h.01M655.9,110.3h.01M594.8,109.7h.01M602.9,109.8h.01M637.8,109.3h.01M580.8,110.6h.01M633.3,110.0h.01M645.4,109.1h.01M585.1,110.1h.01M681.3,110.5h.01M659.8,109.9h.01M706.1,110.3h.01M626.4,110.5h.01M653.3,109.6h.01M588.9,109.9h.01M640.3,109.3h.01M636.8,110.6h.01M662.6,109.3h.01M620.4,109.7h.01M685.6,109.2h.01M590.6,109.6h.01M582.7,109.3h.01M686.2,110.5h.01M621.3,109.7h.01M617.9,109.7h.01M680.5,109.9h.01M591.7,109.3h.01M681.4,109.6h.01M609.0,111.2h.01M649.8,110.4h.01M702.8,109.8h.01M599.7,109.4h.01M632.6,109.1h.01M580.6,109.7h.01M706.5,110.7h.01M684.2,110.4h.01M708.4,109.5h.01M676.7,110.8h.01M627.5,111.7h.01M603.1,110.2h.01M603.6,109.6h.01M701.2,109.8h.01M591.2,109.3h.01M647.6,109.7h.01M685.2,110.3h.01M611.0,111.3h.01M636.4,110.2h.01M622.9,110.7h.01M696.1,110.4h.01M668.6,110.6h.01M687.5,110.0h.01M662.2,109.1h.01M631.8,110.0h.01M679.7,110.4h.01M687.0,109.5h.01M591.9,109.7h.01M651.6,109.8h.01M688.2,109.0h.01M587.9,112.0h.01M652.0,109.8h.01M651.8,109.2h.01M639.9,110.8h.01M578.0,109.6h.01M627.5,109.1h.01M692.4,109.6h.01M604.5,109.3h.01M637.0,109.7h.01M633.5,110.6h.01M641.1,109.9h.01M668.8,110.5h.01M647.2,109.4h.01M617.0,109.4h.01M693.7,109.3h.01M691.9,111.1h.01M666.7,109.0h.01M657.7,109.3h.01M623.8,110.0h.01M617.5,110.1h.01M628.9,109.3h.01M633.1,109.6h.01M650.9,110.3h.01M611.4,109.1h.01M606.3,109.5h.01M612.5,109.8h.01M592.1,110.1h.01M638.8,110.1h.01M636.1,110.1h.01M691.2,109.1h.01M610.3,111.3h.01M707.7,109.2h.01M684.5,109.3h.01M614.0,109.4h.01M688.5,109.5h.01M589.5,109.1h.01M667.5,110.2h.01M616.3,111.3h.01M664.3,110.3h.01M600.0,111.6h.01M601.7,109.4h.01M580.0,109.5h.01M674.5,109.4h.01M639.6,109.4h.01M679.6,110.5h.01M686.4,110.3h.01M620.8,110.0h.01M595.3,111.0h.01M604.8,110.3h.01M634.0,109.7h.01M648.2,110.5h.01M691.3,110.0h.01M663.8,109.4h.01M676.2,109.9h.01M695.0,109.5h.01M707.5,109.6h.01M627.9,109.1h.01M680.1,109.2h.01M629.8,109.3h.01M673.5,109.1h.01M605.4,110.5h.01M631.4,110.0h.01M634.1,109.4h.01M686.5,110.1h.01M610.1,109.7h.01M619.3,109.6h.01M600.4,110.1h.01M686.4,111.8h.01M648.6,110.4h.01M660.1,110.5h.01M699.2,109.7h.01M707.5,109.7h.01M585.8,110.1h.01M688.8,109.9h.01M585.1,109.7h.01M582.0,111.5h.01M675.6,111.1h.01M671.4,109.5h.01M599.8,109.8h.01M657.3,110.5h.01M645.7,109.6h.01M649.4,109.3h.01M640.2,109.3h.01M596.8,109.7h.01M659.7,109.8h.01M676.9,110.2h.01M603.6,109.9h.01M623.5,109.9h.01M615.2,109.1h.01M642.9,111.0h.01M616.6,109.6h.01M705.1,111.1h.01M653.0,109.3h.01M696.9,110.0h.01M703.0,110.5h.01M665.9,111.1h.01M706.0,110.8h.01M592.2,109.2h.01M588.3,109.4h.01M682.9,109.6h.01M661.2,112.0h.01M645.3,109.2h.01M709.0,110.6h.01M663.2,109.6h.01M674.9,109.6h.01M674.5,111.0h.01M600.8,110.0h.01M606.3,110.6h.01M596.4,109.7h.01M706.8,111.2h.01M678.1,109.0h.01M652.9,110.9h.01M661.8,109.9h.01M596.0,109.3h.01M654.8,110.1h.01M645.4,110.0h.01M690.6,109.7h.01M588.3,109.8h.01M658.6,110.6h.01M687.8,109.6h.01M682.9,111.1h.01M596.4,110.0h.01M706.8,110.2h.01M658.8,110.3h.01M684.8,109.6h.01M646.7,110.6h.01M701.0,109.4h.01M683.6,109.5h.01M657.0,109.8h.01M686.6,109.6h.01M698.8,111.9h.01M594.4,110.1h.01M604.7,109.1h.01M643.9,111.0h.01M590.6,109.2h.01M610.3,110.7h.01M638.4,110.8h.01M598.6,109.9h.01M582.6,109.3h.01M656.0,111.1h.01M675.0,109.1h.01M597.7,110.6h.01M678.1,109.6h.01M636.7,111.6h.01M612.7,109.9h.01M675.3,111.0h.01M622.2,109.5h.01M589.8,110.2h.01M682.5,109.6h.01M631.0,109.6h.01M674.6,110.0h.01M600.6,111.1h.01M580.6,111.0h.01M691.2,109.3h.01M591.5,110.8h.01M674.6,109.2h.01M705.2,110.7h.01M703.0,110.8h.01M596.6,111.0h.01M617.0,110.4h.01M703.8,109.3h.01M661.8,110.2h.01M702.8,110.2h.01M630.6,109.1h.01M630.8,110.6h.01M622.4,109.1h.01M622.0,109.1h.01M617.3,110.2h.01M624.0,109.7h.01M700.2,109.3h.01M689.7,110.7h.01M613.9,110.2h.01M607.6,110.1h.01M708.0,111.2h.01M610.1,110.1h.01M589.9,110.3h.01M611.4,110.3h.01M700.3,110.8h.01M707.5,109.3h.01M707.8,110.2h.01M676.3,110.6h.01M578.7,201.7h.01M579.4,183.5h.01M579.2,216.7h.01M578.1,148.9h.01M578.0,209.3h.01M577.9,123.6h.01M580.8,123.7h.01M578.9,154.0h.01M578.3,121.8h.01M578.9,181.4h.01M580.3,203.7h.01M578.3,187.5h.01M577.8,216.9h.01M581.4,203.6h.01M580.6,144.8h.01M577.6,208.4h.01M579.4,201.5h.01M580.3,177.6h.01M579.5,190.2h.01M578.1,201.1h.01M578.6,224.7h.01M579.1,138.1h.01M578.1,221.2h.01M578.5,113.8h.01M578.3,220.2h.01M577.9,234.4h.01M577.7,183.4h.01M580.8,141.4h.01M578.7,175.2h.01M579.7,164.1h.01M578.4,209.1h.01M578.3,158.0h.01M581.3,109.2h.01M580.1,218.7h.01M578.1,131.8h.01M578.6,139.4h.01M577.8,189.8h.01M578.7,119.8h.01M578.9,131.4h.01M581.2,114.3h.01M578.2,177.4h.01M580.3,109.4h.01M577.5,156.1h.01M577.9,161.1h.01M580.0,150.3h.01M577.8,119.1h.01M577.9,218.7h.01M580.6,125.8h.01M577.8,120.9h.01M578.2,140.4h.01M580.5,126.7h.01M579.3,176.0h.01M580.8,171.9h.01M577.7,114.8h.01M577.6,114.7h.01M577.7,173.1h.01M577.5,188.2h.01M577.6,159.9h.01M577.9,148.7h.01M577.7,204.5h.01M580.0,230.3h.01M578.3,214.8h.01M578.4,215.9h.01M579.4,120.1h.01M579.1,209.7h.01M579.8,148.9h.01M578.6,232.5h.01M578.6,208.6h.01M577.7,137.4h.01M581.4,116.0h.01M579.4,219.2h.01M578.9,196.5h.01M577.6,223.4h.01M578.3,173.9h.01M578.3,137.4h.01M577.9,120.4h.01M578.8,180.9h.01M578.0,158.2h.01M578.8,121.0h.01M581.1,113.1h.01M578.8,211.2h.01M580.1,116.7h.01M578.8,203.5h.01M578.1,129.9h.01M579.5,152.1h.01M579.9,128.9h.01M577.8,223.3h.01M582.0,232.2h.01M577.6,129.1h.01M577.9,133.3h.01M577.6,177.0h.01M578.8,154.3h.01M579.6,167.2h.01M578.7,179.5h.01M578.7,200.1h.01M580.5,205.6h.01M579.6,212.2h.01M578.2,118.5h.01M580.2,167.1h.01M581.0,222.5h.01M577.6,152.0h.01M581.0,230.8h.01M579.3,195.2h.01M580.7,111.1h.01M581.1,180.9h.01M578.5,187.7h.01M577.7,134.4h.01M577.9,204.3h.01M578.4,208.2h.01M578.4,179.6h.01M579.1,133.8h.01M577.8,149.4h.01M577.5,196.6h.01M579.1,180.4h.01M578.4,228.3h.01M578.7,143.5h.01M580.8,148.9h.01M577.8,132.0h.01M579.6,200.1h.01M578.5,172.7h.01M578.6,185.4h.01M579.8,159.9h.01M579.0,208.3h.01M578.5,234.1h.01M578.4,131.7h.01M577.6,196.4h.01M577.6,120.6h.01M578.3,146.7h.01M579.4,187.8h.01M577.7,235.6h.01M580.5,201.2h.01M580.0,181.1h.01M578.5,211.7h.01M579.0,197.8h.01M577.9,205.4h.01M578.5,162.4h.01M577.6,149.3h.01M578.4,203.8h.01M577.7,126.9h.01M577.8,198.3h.01M581.4,188.2h.01M579.6,235.1h.01M578.5,204.0h.01M580.1,111.8h.01M577.5,143.6h.01M577.9,189.9h.01M579.4,183.9h.01M579.8,138.7h.01M578.5,144.6h.01M578.4,216.8h.01M577.8,171.1h.01M581.1,193.4h.01M578.2,154.8h.01M577.7,161.3h.01M578.2,221.1h.01M579.0,213.8h.01M577.7,205.0h.01M578.9,195.2h.01M578.7,192.1h.01M579.3,226.7h.01M578.1,200.2h.01M579.8,133.9h.01M580.4,187.2h.01M583.1,152.4h.01M578.4,209.1h.01M579.0,183.6h.01M578.9,138.5h.01M578.9,199.2h.01M578.9,173.4h.01M579.7,174.4h.01M580.9,175.5h.01M578.7,191.9h.01M579.3,192.8h.01M577.5,163.1h.01M578.1,195.0h.01M577.8,137.0h.01M579.1,115.8h.01M578.0,156.9h.01M577.9,166.8h.01M578.7,165.6h.01M577.6,145.8h.01M579.6,205.8h.01M579.5,116.7h.01M577.7,222.3h.01M580.7,189.1h.01M581.1,195.0h.01M577.8,213.6h.01M577.9,133.7h.01M580.5,209.2h.01M579.9,118.0h.01M578.8,227.8h.01M578.8,214.1h.01M578.6,176.8h.01M577.8,208.3h.01M577.7,127.5h.01M578.2,111.0h.01M579.4,146.6h.01M578.1,153.0h.01M578.9,111.3h.01M577.8,138.3h.01M577.8,177.6h.01M578.0,227.0h.01M577.7,232.1h.01M580.1,183.1h.01M578.9,140.5h.01M577.8,143.9h.01M578.7,166.4h.01M577.9,233.6h.01M580.5,206.6h.01M582.8,150.7h.01M579.2,216.8h.01M580.9,166.3h.01M578.7,219.5h.01M578.9,152.7h.01M578.1,208.0h.01M578.2,161.0h.01M578.4,130.9h.01M577.9,118.3h.01M581.0,147.2h.01M579.1,191.6h.01M578.3,205.4h.01M578.9,161.2h.01M578.9,138.5h.01M577.7,226.6h.01M578.8,115.5h.01M577.5,205.6h.01M580.4,113.8h.01M577.7,167.6h.01M577.8,127.2h.01M577.7,226.4h.01M580.2,212.7h.01M579.9,155.8h.01M579.8,188.3h.01M577.9,157.1h.01M578.3,217.3h.01M579.7,117.6h.01M578.8,116.4h.01M578.6,156.5h.01M577.7,233.9h.01M578.5,177.8h.01M578.6,170.2h.01M578.4,143.9h.01M579.4,228.7h.01M578.8,196.6h.01M578.9,204.3h.01M580.3,170.2h.01M579.7,128.1h.01M582.5,216.1h.01M580.1,223.5h.01M577.5,159.2h.01M579.2,202.1h.01M577.9,232.8h.01M580.7,172.5h.01M578.3,121.2h.01M578.7,144.5h.01M577.9,165.9h.01M580.1,164.7h.01M578.0,195.8h.01M577.6,115.4h.01M578.4,151.2h.01M577.7,166.9h.01M577.7,211.7h.01M577.7,128.7h.01M581.0,233.9h.01M578.9,181.9h.01M578.0,164.2h.01M581.1,194.5h.01M578.2,117.0h.01M578.2,125.3h.01M578.5,182.9h.01M579.1,173.5h.01M578.0,224.3h.01M578.2,146.2h.01M578.3,145.7h.01M577.7,125.8h.01M577.8,139.7h.01M578.5,211.4h.01M578.8,202.1h.01M579.0,211.6h.01M579.5,204.5h.01M578.2,149.5h.01M578.7,138.3h.01M578.6,174.0h.01M577.8,119.8h.01M577.7,112.1h.01M578.5,187.7h.01M580.0,211.8h.01M578.1,162.4h.01M577.6,118.4h.01M580.6,127.7h.01M578.7,148.3h.01M580.1,129.8h.01M579.2,158.0h.01M579.0,212.9h.01M580.4,127.6h.01M580.4,131.5h.01M578.1,131.4h.01M580.0,169.3h.01M579.9,167.1h.01M578.5,142.5h.01M579.4,164.9h.01M578.4,159.0h.01M578.0,153.7h.01M579.9,199.8h.01M579.3,123.6h.01M577.5,130.0h.01M578.6,184.9h.01M579.3,169.1h.01M578.1,232.3h.01M578.8,151.8h.01M577.6,192.5h.01M578.8,199.1h.01M580.6,176.1h.01M579.0,125.1h.01M579.4,146.5h.01M578.1,206.0h.01M578.1,127.8h.01M578.4,123.7h.01M577.6,197.5h.01M578.3,113.2h.01M577.9,134.4h.01M577.7,229.4h.01M577.7,111.3h.01M580.8,157.7h.01M578.9,212.3h.01M580.3,181.8h.01M578.4,216.9h.01M580.5,218.5h.01M578.6,141.2h.01M577.7,203.7h.01M708.0,174.6h.01M709.9,112.2h.01M707.8,226.3h.01M709.0,171.6h.01M707.8,221.1h.01M709.6,210.2h.01M708.8,127.8h.01M707.8,151.1h.01M708.5,127.8h.01M709.9,109.2h.01M709.9,213.5h.01M706.1,205.6h.01M708.9,160.4h.01M709.3,141.7h.01M709.6,168.4h.01M709.3,116.3h.01M707.0,227.0h.01M709.7,168.4h.01M708.7,230.6h.01M708.4,178.3h.01M710.0,197.3h.01M709.6,234.6h.01M709.3,177.9h.01M707.9,118.6h.01M709.6,122.0h.01M705.4,212.4h.01M705.5,146.1h.01M708.4,173.0h.01M708.9,149.1h.01M709.8,181.2h.01M709.1,118.1h.01M709.9,114.0h.01M708.9,204.7h.01M710.0,159.5h.01M709.1,221.5h.01M708.9,169.8h.01M708.5,222.4h.01M708.6,188.5h.01M708.7,153.7h.01M709.4,136.7h.01M709.0,170.8h.01M707.1,192.7h.01M708.8,109.3h.01M706.2,124.9h.01M709.8,133.9h.01M709.1,127.4h.01M709.3,172.6h.01M708.1,177.5h.01M707.8,196.1h.01M705.7,198.5h.01M708.6,172.0h.01M709.5,133.4h.01M709.9,230.5h.01M709.1,151.8h.01M706.6,162.4h.01M706.5,151.2h.01M706.7,197.5h.01M708.0,172.5h.01M707.5,206.1h.01M708.6,204.7h.01M707.6,158.5h.01M709.2,199.5h.01M708.7,184.1h.01M708.4,173.6h.01M709.7,157.3h.01M709.4,117.4h.01M708.5,128.7h.01M709.1,231.8h.01M707.7,159.8h.01M708.6,226.9h.01M706.9,191.6h.01M709.1,119.0h.01M708.4,109.3h.01M709.6,191.9h.01M707.8,229.8h.01M709.8,150.6h.01M709.7,183.8h.01M709.2,210.8h.01M707.4,109.5h.01M707.8,221.4h.01M708.7,218.2h.01M708.5,162.8h.01M708.7,169.6h.01M709.9,156.1h.01M707.7,169.7h.01M709.7,117.2h.01M708.9,179.9h.01M709.6,167.0h.01M706.9,205.3h.01M709.8,212.7h.01M707.7,164.2h.01M709.7,231.8h.01M707.3,216.5h.01M709.8,200.2h.01M708.4,221.9h.01M709.2,161.5h.01M708.7,138.8h.01M706.5,203.0h.01M708.6,214.2h.01M707.3,111.0h.01M709.4,172.1h.01M708.6,234.3h.01M707.4,109.4h.01M709.3,234.8h.01M708.2,160.4h.01M708.7,182.0h.01M709.8,188.5h.01M707.6,131.3h.01M709.9,113.1h.01M709.6,225.7h.01M708.7,137.7h.01M709.2,199.7h.01M709.6,151.9h.01M708.9,137.9h.01M706.1,142.8h.01M709.6,158.0h.01M709.1,230.4h.01M709.6,187.4h.01M709.1,135.9h.01M708.7,137.4h.01M709.7,183.3h.01M708.4,126.9h.01M709.8,142.9h.01M708.5,231.8h.01M708.7,123.0h.01M709.8,174.2h.01M707.6,148.3h.01M708.2,193.0h.01M708.8,139.6h.01M708.8,181.3h.01M709.9,154.6h.01M707.6,172.1h.01M708.8,130.9h.01M709.3,216.7h.01M709.4,226.2h.01M709.6,134.2h.01M708.7,227.5h.01M708.7,118.2h.01M707.1,171.9h.01M705.7,233.6h.01M708.6,172.7h.01M707.7,167.6h.01M708.9,206.6h.01M709.8,213.5h.01M709.0,174.6h.01M707.8,215.6h.01M709.3,140.9h.01M708.7,219.0h.01M709.7,172.9h.01M706.9,152.4h.01M709.5,202.4h.01M707.9,175.6h.01M708.8,168.7h.01M709.7,181.7h.01M709.9,217.5h.01M708.1,156.3h.01M707.4,146.5h.01M708.7,120.0h.01M709.0,174.5h.01M708.6,123.0h.01M708.3,185.3h.01M707.9,124.2h.01M707.6,174.6h.01M709.1,116.9h.01M708.6,208.8h.01M709.8,130.2h.01M707.6,212.1h.01M709.8,147.9h.01M709.0,152.5h.01M709.8,132.4h.01M709.5,110.4h.01M709.5,114.6h.01M709.0,195.6h.01M709.6,185.1h.01M709.5,231.1h.01M709.1,173.0h.01M707.0,115.6h.01M708.4,220.5h.01M708.0,123.4h.01M709.3,166.1h.01M709.2,132.3h.01M709.4,195.4h.01M706.5,120.3h.01M710.0,151.7h.01M708.0,160.8h.01M709.8,111.2h.01M708.5,212.7h.01M709.8,145.3h.01M708.8,144.2h.01M708.1,179.8h.01M709.9,186.4h.01M707.8,176.5h.01M706.8,188.3h.01M706.1,125.7h.01M709.1,173.7h.01M709.4,155.9h.01M707.3,140.1h.01M709.2,142.6h.01M709.5,167.6h.01M708.2,234.5h.01M708.9,221.4h.01M708.7,132.0h.01M709.5,220.8h.01M709.8,165.7h.01M709.8,159.7h.01M707.3,213.8h.01M707.6,155.6h.01M709.7,139.7h.01M708.8,195.7h.01M708.6,182.4h.01M708.6,132.4h.01M708.9,217.6h.01M707.6,134.8h.01M709.6,132.5h.01M707.9,156.4h.01M707.6,179.8h.01M708.7,188.4h.01M709.9,154.1h.01M707.6,116.2h.01M709.2,193.3h.01M706.6,186.1h.01M709.8,139.6h.01M709.9,146.7h.01M708.5,219.1h.01M708.2,166.9h.01M708.9,158.1h.01M708.0,187.1h.01M709.6,153.6h.01M707.8,170.2h.01M708.5,191.4h.01M708.2,109.1h.01M709.7,156.1h.01M709.6,132.5h.01M708.9,141.8h.01M708.2,150.5h.01M708.9,128.7h.01M708.8,136.0h.01M706.9,109.5h.01M709.9,139.7h.01M709.2,183.2h.01M707.3,215.3h.01M709.3,180.1h.01M707.6,220.8h.01M709.5,200.7h.01M709.1,198.3h.01M708.4,191.2h.01M707.9,161.5h.01M707.4,151.1h.01M707.1,177.8h.01M709.8,137.3h.01M708.8,169.9h.01M709.3,210.9h.01M707.7,131.6h.01M708.0,229.9h.01M708.2,163.0h.01M709.3,191.5h.01M709.6,205.4h.01M709.5,164.0h.01M709.5,201.5h.01M706.7,233.5h.01M709.6,150.7h.01M709.6,193.9h.01M709.7,229.7h.01M708.4,226.4h.01M709.4,109.4h.01M709.8,161.0h.01M707.4,143.2h.01M707.4,211.9h.01M708.9,176.8h.01M708.2,137.6h.01M708.0,178.5h.01M706.2,140.2h.01M708.3,142.8h.01M706.0,210.8h.01M707.0,153.5h.01M708.6,182.9h.01M708.0,183.4h.01M708.7,109.1h.01M707.8,131.1h.01M706.6,180.2h.01M708.4,192.5h.01M709.3,182.9h.01M708.8,208.0h.01M709.2,166.7h.01M710.0,164.8h.01M706.4,232.2h.01M709.3,193.8h.01M709.5,116.6h.01M708.3,111.7h.01M708.4,113.9h.01M709.0,221.0h.01M707.4,140.5h.01M708.5,147.4h.01M709.5,177.7h.01M708.7,191.8h.01M709.1,234.9h.01M708.4,141.3h.01M709.4,113.6h.01M707.9,153.7h.01M707.0,159.2h.01M709.6,129.1h.01M709.6,174.4h.01M709.0,123.7h.01M707.1,207.6h.01M709.5,152.4h.01M707.9,138.5h.01M709.1,198.6h.01M705.7,212.6h.01M709.3,110.4h.01M708.2,115.6h.01M709.7,168.9h.01M709.8,129.0h.01M709.8,206.1h.01M706.4,159.0h.01M709.8,192.5h.01M709.8,194.1h.01M707.4,145.8h.01M709.0,178.8h.01M708.2,133.0h.01M707.1,222.9h.01M706.6,151.6h.01M706.9,128.0h.01M709.4,173.1h.01M707.4,181.6h.01M709.1,209.2h.01M709.1,148.6h.01M709.1,149.0h.01M709.7,215.6h.01M709.2,190.8h.01M707.5,206.5h.01M636.7,235.6h.01M592.5,234.8h.01M705.5,234.9h.01M657.8,234.0h.01M634.7,235.3h.01M668.7,235.6h.01M634.1,233.0h.01M645.8,234.1h.01M579.6,235.7h.01M643.3,234.6h.01M577.6,234.1h.01M665.4,234.6h.01M622.5,235.6h.01M583.2,235.0h.01M580.3,234.6h.01M619.3,233.6h.01M697.6,235.4h.01M705.9,233.4h.01M663.6,234.6h.01M665.4,233.6h.01M634.2,235.5h.01M681.7,235.2h.01M585.9,233.9h.01M702.2,235.0h.01M662.2,234.4h.01M637.1,234.8h.01M589.9,235.3h.01M606.5,235.0h.01M621.0,235.2h.01M618.4,234.4h.01M655.0,235.4h.01M683.2,234.9h.01M637.6,235.6h.01M707.7,235.4h.01M601.5,234.9h.01M620.6,235.5h.01M680.7,232.0h.01M592.6,235.3h.01M693.4,234.7h.01M699.1,235.1h.01M614.0,235.4h.01M647.1,234.6h.01M660.8,235.0h.01M588.3,234.8h.01M614.6,235.6h.01M637.8,234.5h.01M664.2,233.4h.01M631.1,234.2h.01M641.6,235.4h.01M628.3,235.4h.01M666.4,234.9h.01M635.5,234.5h.01M697.9,234.9h.01M635.5,235.1h.01M578.7,234.8h.01M626.2,234.9h.01M670.5,234.8h.01M689.1,234.6h.01M593.5,235.4h.01M654.3,234.5h.01M702.2,235.3h.01M657.4,234.3h.01M686.4,233.3h.01M599.5,234.3h.01M621.8,235.4h.01M630.2,235.6h.01M635.3,233.3h.01M593.1,233.7h.01M705.5,235.5h.01M668.5,235.0h.01M593.6,234.0h.01M596.0,234.9h.01M665.5,234.0h.01M619.3,234.8h.01M658.6,233.6h.01M682.9,234.2h.01M625.6,235.4h.01M660.6,235.2h.01M609.1,235.1h.01M581.4,235.5h.01M695.5,235.0h.01M589.1,234.0h.01M635.9,235.6h.01M683.0,235.2h.01M655.9,234.6h.01M632.7,234.6h.01M683.2,233.4h.01M678.2,234.7h.01M643.6,234.4h.01M619.6,231.9h.01M660.9,235.3h.01M584.2,235.0h.01M682.0,235.6h.01M617.7,234.9h.01M659.6,233.4h.01M641.3,234.7h.01M602.5,235.6h.01M612.9,234.4h.01M596.2,235.7h.01M598.0,235.0h.01M646.1,235.1h.01M670.0,235.2h.01M601.4,235.7h.01M618.2,235.4h.01M597.1,234.2h.01M676.7,235.3h.01M635.2,235.4h.01M656.6,235.3h.01M585.3,234.2h.01M608.8,233.3h.01M585.5,235.5h.01M657.4,235.7h.01M597.2,233.8h.01M593.5,234.2h.01M699.4,235.4h.01M602.6,235.1h.01M629.3,235.1h.01M602.0,233.2h.01M692.8,235.4h.01M648.3,235.5h.01M614.8,233.7h.01M593.0,234.7h.01M587.8,234.2h.01M675.1,235.1h.01M613.3,235.2h.01M642.0,233.1h.01M590.2,235.1h.01M676.6,235.6h.01M685.6,233.9h.01M698.8,235.6h.01M616.9,233.5h.01M602.8,235.1h.01M602.3,235.1h.01M581.7,234.8h.01M579.7,234.9h.01M600.6,233.9h.01M697.8,235.1h.01M609.4,234.9h.01M663.9,235.5h.01M586.9,233.1h.01M661.3,235.5h.01M664.2,235.2h.01M600.1,232.7h.01M584.5,233.9h.01M641.7,235.1h.01M708.1,235.2h.01M586.1,234.6h.01M655.4,235.3h.01M651.8,235.3h.01M639.6,234.1h.01M707.5,234.6h.01M620.4,234.8h.01M707.2,234.2h.01M681.8,235.6h.01M708.4,235.5h.01M598.0,235.4h.01M594.5,235.4h.01M703.6,235.6h.01M631.7,235.7h.01M605.3,234.7h.01M707.9,233.5h.01M585.4,234.4h.01M640.9,234.1h.01M658.0,235.1h.01M594.3,235.1h.01M611.2,235.1h.01M584.3,235.4h.01M640.2,234.0h.01M703.9,235.2h.01M618.5,234.6h.01M644.2,235.5h.01M663.9,234.5h.01M607.3,233.2h.01M666.4,234.8h.01M672.9,234.2h.01M632.8,235.7h.01M663.5,235.5h.01M606.7,234.3h.01M709.6,235.3h.01M589.1,233.8h.01M631.7,233.8h.01M618.0,233.9h.01M589.1,235.2h.01M650.2,233.2h.01M672.0,235.2h.01M593.1,234.7h.01M591.2,235.1h.01M653.2,233.4h.01M649.9,233.4h.01M588.8,235.5h.01M606.2,233.6h.01M642.9,232.7h.01M671.1,234.9h.01M680.7,233.5h.01M629.9,231.9h.01M678.0,235.6h.01M622.7,232.5h.01M652.6,234.6h.01M625.3,234.9h.01M593.0,234.9h.01M617.7,234.6h.01M648.8,234.7h.01M700.3,234.8h.01M641.8,234.6h.01M682.6,234.8h.01M627.4,234.7h.01M675.7,235.0h.01M596.8,234.7h.01M599.8,233.7h.01M689.0,235.3h.01M653.1,234.5h.01M607.3,235.5h.01M590.4,233.8h.01M688.9,234.0h.01M685.0,235.7h.01M616.3,233.6h.01M623.5,235.7h.01M659.4,235.4h.01M619.6,234.8h.01M604.1,235.5h.01M705.3,234.8h.01M663.5,235.5h.01M694.3,234.0h.01M686.3,235.6h.01M694.6,234.1h.01M597.6,235.3h.01M598.1,234.8h.01M649.2,235.5h.01M606.4,234.9h.01M633.7,235.1h.01M610.0,234.7h.01M698.3,235.2h.01M664.7,234.5h.01M580.2,234.9h.01M597.5,235.1h.01M584.4,235.4h.01M609.7,233.8h.01M603.4,235.6h.01M631.9,235.7h.01M670.1,235.1h.01M588.8,233.5h.01M648.4,235.5h.01M657.3,235.5h.01M652.8,235.0h.01M618.2,233.4h.01M696.1,235.5h.01M601.2,234.8h.01M593.5,234.8h.01M641.1,234.8h.01M600.9,235.0h.01M581.2,235.5h.01M708.6,234.2h.01M672.0,235.7h.01M604.4,234.7h.01M693.5,232.8h.01M679.8,235.6h.01M617.0,235.1h.01M670.7,235.5h.01M591.4,234.4h.01M661.6,235.4h.01M705.3,233.7h.01M659.2,234.3h.01M627.1,233.6h.01M619.4,235.3h.01M702.1,233.5h.01M597.3,233.7h.01M643.2,234.6h.01M651.5,235.6h.01M643.6,235.0h.01M646.0,234.9h.01M629.3,235.7h.01M637.6,235.3h.01M667.0,233.8h.01M595.7,233.6h.01M591.5,233.4h.01M602.4,235.0h.01M585.7,235.4h.01M624.2,234.8h.01M653.4,235.1h.01M633.3,233.1h.01M661.3,234.9h.01M676.6,234.3h.01M617.1,235.0h.01M687.7,234.5h.01M640.6,233.0h.01M689.1,235.3h.01M703.4,235.3h.01M632.4,233.8h.01M608.7,234.5h.01M706.4,234.2h.01M609.2,234.9h.01M676.1,235.3h.01M635.4,234.8h.01M616.5,234.1h.01M684.2,234.9h.01M661.2,233.7h.01M676.1,235.2h.01M693.4,235.2h.01M677.4,234.7h.01M655.9,232.5h.01M613.7,229.5h.01M600.5,235.4h.01M602.3,233.0h.01M583.2,235.4h.01M577.9,234.7h.01M582.2,235.6h.01M622.3,235.2h.01M611.3,233.4h.01M579.2,233.8h.01M580.8,233.4h.01M582.0,234.1h.01M601.4,232.2h.01M591.8,231.9h.01M589.1,233.9h.01M598.5,232.7h.01M621.1,234.1h.01M614.6,234.1h.01M607.2,234.4h.01M608.8,235.6h.01M620.3,233.0h.01M599.8,233.6h.01M610.8,233.7h.01M587.8,235.3h.01M606.7,232.5h.01M600.9,232.8h.01M597.5,231.4h.01M580.9,234.6h.01M615.8,234.6h.01M590.0,233.8h.01M598.9,232.0h.01M618.3,233.7h.01M621.3,233.6h.01M586.4,235.5h.01M588.8,235.1h.01M600.2,231.0h.01M614.0,233.4h.01M583.8,233.8h.01M581.8,234.7h.01M611.8,234.5h.01M604.5,233.2h.01M593.6,235.1h.01M612.0,234.8h.01M611.0,235.1h.01M623.3,233.6h.01M587.6,234.7h.01M620.4,235.6h.01M612.6,233.2h.01M584.7,235.2h.01M585.1,234.0h.01M594.1,233.3h.01M602.5,234.6h.01M605.9,231.0h.01M583.6,234.9h.01M600.6,234.7h.01M598.3,233.7h.01M610.1,228.5h.01M594.9,232.9h.01M581.6,233.2h.01M601.4,233.9h.01M595.1,234.5h.01M607.7,232.2h.01M586.6,231.3h.01M594.3,234.9h.01M581.4,234.9h.01M580.5,235.5h.01M594.7,234.2h.01M600.2,235.6h.01M610.0,232.3h.01M592.3,231.1h.01M597.5,229.8h.01M581.2,232.5h.01M597.7,233.0h.01M621.0,235.7h.01M612.6,234.6h.01M622.3,230.6h.01M606.5,235.7h.01M620.2,234.9h.01M590.8,233.1h.01M578.1,233.5h.01M581.4,234.3h.01M583.6,233.8h.01M622.2,235.1h.01M586.1,232.7h.01M596.3,234.6h.01M614.1,231.0h.01M580.5,234.3h.01M593.9,230.7h.01M609.5,232.8h.01M594.8,234.2h.01M581.5,228.8h.01M622.6,235.4h.01M579.7,235.5h.01M617.5,233.8h.01M606.0,230.8h.01M579.9,234.2h.01M621.4,235.4h.01M618.8,234.7h.01M581.5,235.4h.01M588.3,234.3h.01M587.2,231.6h.01M597.8,231.5h.01M593.3,233.0h.01M578.7,235.2h.01M600.6,231.8h.01M612.6,233.5h.01M614.9,231.5h.01M599.4,235.6h.01M602.9,233.5h.01M606.4,232.4h.01M615.0,234.5h.01M623.0,233.0h.01M605.0,235.7h.01M582.2,234.9h.01M607.3,235.6h.01M598.4,233.5h.01M620.7,230.1h.01M622.7,235.3h.01M582.4,235.4h.01M599.8,233.1h.01M615.6,231.3h.01M612.3,234.0h.01M587.7,235.4h.01M612.4,235.3h.01M608.7,234.8h.01M604.4,234.5h.01M588.5,233.0h.01M622.6,232.3h.01M608.0,235.6h.01M578.0,234.6h.01M621.4,233.6h.01M579.5,232.4h.01M597.2,234.5h.01M611.8,232.5h.01M578.2,232.5h.01M617.5,232.6h.01M600.6,231.8h.01M617.4,232.9h.01M616.1,234.4h.01M592.2,235.0h.01M603.3,234.4h.01M578.5,235.6h.01M609.2,233.6h.01M581.6,232.7h.01M584.7,234.2h.01M591.4,234.4h.01M605.0,232.7h.01M579.6,235.7h.01M606.0,232.7h.01M578.7,235.1h.01M602.2,235.3h.01M596.8,235.6h.01M588.9,234.5h.01M615.1,234.3h.01M618.6,233.4h.01M591.1,235.0h.01M592.8,234.6h.01M595.0,234.3h.01M604.4,235.2h.01M595.7,233.7h.01M589.6,235.7h.01M596.7,233.1h.01M616.8,234.7h.01M616.6,234.9h.01M620.2,232.9h.01M591.0,234.7h.01M597.4,235.1h.01M623.7,233.5h.01M598.7,235.4h.01M588.8,231.2h.01M590.5,234.9h.01M623.6,231.4h.01M584.1,235.5h.01M580.7,229.0h.01M606.4,234.4h.01M589.7,235.6h.01M585.0,230.6h.01M600.9,234.9h.01M618.4,234.2h.01M619.0,233.7h.01M587.0,234.1h.01M581.4,234.2h.01M580.3,234.2h.01M591.1,233.4h.01M610.7,232.6h.01M622.1,233.1h.01M615.9,231.5h.01M618.9,233.3h.01M616.6,231.6h.01M579.9,235.7h.01M621.0,230.6h.01M606.9,233.3h.01M602.9,235.0h.01M595.7,231.5h.01M610.5,233.2h.01M597.9,235.5h.01M612.6,234.9h.01M600.1,230.2h.01M588.8,229.7h.01M588.2,231.4h.01M589.6,235.2h.01M611.3,232.9h.01M590.0,233.5h.01M590.1,233.0h.01M623.8,235.4h.01M595.0,235.3h.01M579.2,233.4h.01M580.6,233.1h.01M609.9,234.9h.01M595.0,234.7h.01M606.9,233.5h.01M602.3,232.8h.01M597.4,234.8h.01M617.3,234.3h.01M580.1,234.0h.01M618.0,233.9h.01M578.7,231.7h.01M612.2,233.9h.01M594.7,234.2h.01M602.8,233.3h.01M611.8,230.3h.01M607.7,233.5h.01M593.9,234.4h.01M580.6,231.0h.01M580.8,235.5h.01M601.9,234.3h.01M589.4,233.2h.01M620.7,235.6h.01M590.3,234.9h.01M600.3,232.5h.01M592.7,233.6h.01M589.0,235.1h.01M617.3,233.1h.01M601.9,235.1h.01M584.9,232.8h.01M587.0,230.6h.01M616.0,233.9h.01M621.0,233.9h.01M578.9,234.6h.01M619.0,234.8h.01M586.9,235.0h.01M590.2,235.1h.01M584.0,233.8h.01M621.9,233.1h.01M621.4,231.7h.01M596.5,234.9h.01M595.3,234.8h.01M612.7,235.6h.01M609.6,234.4h.01M613.8,234.8h.01M597.0,231.7h.01M596.6,234.5h.01M623.0,234.3h.01M605.9,232.3h.01M608.4,231.1h.01M580.3,235.5h.01M579.2,234.6h.01M582.4,234.1h.01M593.5,232.4h.01M620.9,232.8h.01M622.3,234.8h.01M619.7,233.5h.01M609.1,232.5h.01M616.8,233.3h.01M596.6,234.1h.01M619.6,229.9h.01M612.6,234.3h.01M587.4,235.1h.01M578.7,232.5h.01M578.9,233.7h.01M601.1,235.1h.01M621.6,234.0h.01M603.4,231.9h.01M610.2,235.1h.01M610.8,231.0h.01M588.9,234.1h.01M597.8,235.7h.01M620.6,234.1h.01M585.6,234.0h.01M585.1,232.4h.01M621.1,231.7h.01M594.2,235.5h.01M602.4,232.7h.01M582.9,234.7h.01M619.6,234.1h.01M590.2,235.7h.01M613.9,235.2h.01M620.3,231.8h.01M599.2,231.7h.01M600.0,234.1h.01M582.2,235.2h.01M614.5,233.6h.01M607.3,230.8h.01M616.9,235.6h.01M607.2,232.4h.01M610.7,235.2h.01M586.8,234.7h.01M595.8,235.5h.01M593.3,233.3h.01M601.9,235.7h.01M578.0,235.3h.01M590.2,232.8h.01M591.5,234.5h.01M580.7,231.9h.01M605.4,233.8h.01M613.7,235.1h.01M586.4,235.5h.01M609.0,232.6h.01M578.3,234.5h.01M581.3,235.4h.01M581.0,233.4h.01M620.5,235.1h.01M617.8,235.1h.01M608.2,233.8h.01M583.0,233.8h.01M614.7,235.7h.01M583.6,233.6h.01M587.0,232.9h.01M579.7,233.7h.01M617.3,233.0h.01M582.9,235.1h.01M606.6,232.1h.01M595.1,234.6h.01M606.7,229.9h.01M578.5,233.6h.01M619.8,233.5h.01M589.2,231.2h.01M607.6,233.7h.01M598.9,233.9h.01M593.5,235.0h.01M616.7,235.3h.01M613.3,232.2h.01M596.7,233.6h.01M604.7,233.0h.01M578.6,233.6h.01M584.6,232.3h.01M595.6,232.5h.01M598.5,234.9h.01M594.0,234.8h.01M607.2,233.5h.01M619.2,234.1h.01M596.7,235.1h.01M587.6,227.6h.01M616.0,232.3h.01M600.1,233.4h.01M619.3,235.2h.01M605.0,235.5h.01M580.4,234.4h.01M615.9,234.7h.01M582.8,234.3h.01M610.1,232.2h.01M600.8,234.0h.01M591.3,232.5h.01M622.4,230.6h.01M593.9,233.4h.01M614.9,232.3h.01M577.7,229.4h.01M582.5,235.7h.01M614.1,233.4h.01M610.0,235.7h.01M578.2,229.3h.01M581.1,231.6h.01M610.1,234.7h.01M579.4,234.3h.01M598.9,231.9h.01M620.9,233.3h.01M612.7,235.3h.01M597.4,233.9h.01M618.4,235.2h.01M607.3,231.3h.01M620.0,229.6h.01M585.8,234.8h.01M606.4,235.1h.01M581.2,232.0h.01M610.3,231.4h.01M610.5,232.5h.01M611.9,230.9h.01M610.6,233.7h.01M608.5,235.4h.01M602.8,231.0h.01M596.1,234.3h.01M605.3,234.1h.01M595.7,235.6h.01M578.7,234.9h.01M615.6,235.3h.01M581.2,231.5h.01M608.5,235.3h.01M602.6,234.2h.01M580.7,235.5h.01M602.9,234.6h.01M594.6,233.3h.01M593.3,233.9h.01M601.1,232.6h.01M621.4,233.5h.01M586.7,232.8h.01M584.5,234.5h.01M578.1,235.5h.01M596.5,231.1h.01M613.7,235.0h.01M605.9,234.1h.01M600.2,231.8h.01M595.5,231.8h.01M606.7,235.2h.01M583.7,233.5h.01M608.3,230.2h.01M595.2,230.7h.01M584.4,232.4h.01M601.6,232.6h.01M582.7,233.4h.01M618.6,235.4h.01M595.0,230.3h.01M610.5,235.5h.01M605.8,233.4h.01M597.5,231.9h.01M583.6,232.0h.01M595.3,235.4h.01M589.1,232.5h.01M616.9,233.5h.01M613.3,233.4h.01M606.4,232.8h.01M622.7,232.8h.01M594.6,232.7h.01M613.8,234.3h.01M606.6,233.3h.01M601.5,231.4h.01M599.9,233.8h.01M593.8,230.1h.01M580.0,234.0h.01M621.6,233.9h.01M614.1,232.7h.01M604.8,230.2h.01M596.7,232.5h.01M585.8,233.8h.01M578.6,234.1h.01M618.3,234.5h.01M622.0,232.6h.01M617.5,234.5h.01M618.6,234.0h.01M597.4,235.4h.01M587.7,235.6h.01M613.8,235.1h.01M579.5,234.5h.01M609.6,235.7h.01M599.9,234.8h.01M580.4,235.6h.01M584.0,235.2h.01M591.8,233.7h.01M603.1,232.5h.01M601.6,235.3h.01M598.9,235.4h.01M615.7,231.6h.01M657.3,235.6h.01M645.3,235.3h.01M677.7,235.3h.01M689.5,235.1h.01M701.8,232.4h.01M680.3,234.5h.01M658.0,234.4h.01M684.2,234.5h.01M708.4,233.0h.01M647.2,233.4h.01M652.8,234.6h.01M632.4,233.8h.01M658.4,234.9h.01M646.0,234.9h.01M678.0,233.1h.01M636.8,233.4h.01M670.0,235.4h.01M705.4,235.1h.01M706.6,234.9h.01M626.5,233.5h.01M625.9,233.8h.01M682.2,233.6h.01M681.1,233.4h.01M677.7,233.7h.01M643.9,233.9h.01M665.8,234.4h.01M626.6,233.3h.01M648.7,232.3h.01M632.4,235.2h.01M684.9,235.5h.01M670.0,235.0h.01M649.9,235.6h.01M647.3,235.6h.01M629.7,234.6h.01M682.5,235.6h.01M691.7,234.9h.01M707.8,234.8h.01M682.1,233.8h.01M630.0,234.8h.01M667.7,234.2h.01M681.9,232.5h.01M671.3,233.9h.01M632.4,233.9h.01M631.3,234.4h.01M633.2,232.8h.01M644.9,235.1h.01M709.9,230.2h.01M693.7,234.1h.01M630.7,235.3h.01M630.6,233.4h.01M659.6,235.2h.01M699.9,233.7h.01M686.8,235.0h.01M705.8,233.7h.01M676.6,234.4h.01M639.6,234.1h.01M645.6,234.2h.01M707.9,235.1h.01M671.5,232.9h.01M635.2,235.1h.01M682.9,233.1h.01M631.2,235.0h.01M667.8,235.6h.01M659.2,233.9h.01M700.8,233.8h.01M677.1,234.7h.01M634.0,230.9h.01M670.1,233.9h.01M654.3,235.5h.01M662.5,233.9h.01M653.7,232.9h.01M686.4,235.5h.01M694.1,235.6h.01M666.0,235.2h.01M661.5,234.5h.01M661.1,233.7h.01M675.4,234.7h.01M627.8,234.0h.01M635.6,234.6h.01M706.6,235.7h.01M635.5,232.1h.01M663.4,235.5h.01M663.0,233.9h.01M645.5,235.4h.01M655.3,233.4h.01M679.8,232.9h.01M701.1,234.1h.01M670.3,235.5h.01M655.6,233.2h.01M628.8,233.0h.01M648.8,232.2h.01M660.2,231.8h.01M704.0,233.5h.01M668.0,232.1h.01M690.2,235.5h.01M709.2,233.0h.01M642.2,234.6h.01M625.3,235.4h.01M665.2,235.5h.01M675.5,231.3h.01M675.9,234.7h.01M633.2,232.4h.01M630.9,234.6h.01M652.2,235.2h.01M686.3,233.3h.01M632.6,234.0h.01M660.6,234.6h.01M642.0,232.8h.01M708.4,232.3h.01M651.6,233.6h.01M706.7,232.4h.01M682.5,232.2h.01M694.9,233.3h.01M639.9,234.0h.01M641.0,234.8h.01M697.7,231.1h.01M634.8,234.2h.01M657.3,233.7h.01M655.9,232.9h.01M699.6,233.8h.01M630.4,233.6h.01M647.8,235.1h.01M640.3,232.9h.01M690.0,233.7h.01M682.5,232.1h.01M674.4,234.2h.01M693.3,235.6h.01M672.6,234.3h.01M668.4,235.4h.01M654.6,232.9h.01M705.4,232.3h.01M680.2,230.2h.01M635.6,233.9h.01M637.6,232.9h.01M647.4,235.1h.01M688.9,231.8h.01M648.1,235.5h.01M692.7,231.1h.01M635.7,232.5h.01M635.2,235.3h.01M680.5,230.4h.01M665.9,235.3h.01M697.9,234.9h.01M640.2,234.8h.01M674.9,231.3h.01M671.1,234.8h.01M676.0,235.0h.01M656.5,234.4h.01M687.5,233.4h.01M679.6,234.4h.01M646.5,235.2h.01M707.0,235.3h.01M705.0,234.6h.01M653.2,234.8h.01M662.1,233.3h.01M636.9,232.8h.01M681.9,234.6h.01M679.6,235.0h.01M626.5,235.0h.01M666.6,234.8h.01M706.8,234.2h.01M641.5,235.1h.01M707.6,235.7h.01M663.5,233.0h.01M663.8,234.5h.01M642.5,232.5h.01M659.8,231.9h.01M695.9,233.2h.01M671.3,235.3h.01M671.3,234.7h.01M687.2,234.5h.01M674.5,235.1h.01M637.6,234.8h.01M684.3,234.3h.01M637.4,233.9h.01M657.2,234.5h.01M665.0,234.1h.01M636.1,235.5h.01M670.5,235.3h.01M681.1,235.0h.01M695.8,234.2h.01M667.6,234.4h.01M648.4,235.2h.01M647.2,235.3h.01M650.0,235.1h.01M688.3,234.4h.01M656.1,234.7h.01M643.6,234.4h.01M700.3,234.5h.01M644.8,235.5h.01M698.1,233.5h.01M656.3,232.3h.01M709.6,233.0h.01M637.3,235.7h.01M706.5,234.3h.01M656.0,232.8h.01M681.0,235.5h.01M626.6,233.5h.01M691.6,232.0h.01M655.3,233.2h.01M588.9,115.8h.01M584.0,113.7h.01M581.9,110.5h.01M582.1,112.6h.01M586.4,111.5h.01M582.9,111.7h.01M589.2,114.0h.01M589.8,118.8h.01M587.1,114.4h.01M589.7,113.3h.01M582.1,110.6h.01M584.4,112.6h.01M577.1,109.1h.01M580.7,109.3h.01M585.7,109.6h.01M584.1,113.0h.01M586.8,113.6h.01M579.6,109.5h.01M581.5,111.8h.01M582.1,112.6h.01M587.2,111.2h.01M577.1,110.6h.01M587.9,111.7h.01M584.4,112.8h.01M585.8,113.9h.01M577.7,111.6h.01M579.5,113.9h.01M582.6,115.0h.01M584.7,110.2h.01M589.3,112.9h.01M591.0,116.5h.01M587.4,119.0h.01M586.3,109.8h.01M581.1,115.9h.01M589.6,114.9h.01M584.9,111.2h.01M580.4,111.2h.01M579.2,113.5h.01M584.3,111.2h.01M577.1,112.7h.01M578.3,110.2h.01M580.9,114.6h.01M586.2,111.7h.01M586.9,111.1h.01M583.0,112.9h.01M588.7,113.1h.01M588.7,111.3h.01M585.0,111.6h.01M581.3,112.7h.01M583.8,112.8h.01M586.6,110.7h.01M588.8,112.9h.01M579.7,109.7h.01M586.3,111.7h.01M583.0,112.6h.01M579.3,111.6h.01M577.6,108.6h.01M588.9,113.7h.01M582.0,113.2h.01M582.9,114.9h.01M582.0,109.8h.01M585.7,109.9h.01M582.2,113.2h.01M587.9,111.3h.01M585.7,110.0h.01M582.5,113.3h.01M581.1,114.7h.01M580.8,111.8h.01M578.3,112.7h.01M587.3,111.6h.01M584.7,112.6h.01M578.2,112.7h.01M583.3,111.2h.01M591.6,114.3h.01M582.0,113.2h.01M588.6,113.3h.01M589.8,112.4h.01M578.7,108.6h.01M577.3,112.1h.01M581.2,111.4h.01M579.5,113.3h.01M589.6,114.5h.01M587.2,113.9h.01M579.9,109.0h.01M577.1,113.1h.01M578.3,110.6h.01M591.9,116.1h.01M591.3,115.1h.01M577.6,112.0h.01M585.1,110.2h.01M580.1,108.9h.01M577.1,113.4h.01M587.3,113.6h.01M583.9,111.7h.01M587.1,115.1h.01M577.3,109.1h.01M579.2,109.5h.01M583.1,112.0h.01M577.1,111.2h.01M577.5,109.3h.01M584.3,112.8h.01M588.2,115.2h.01M591.0,116.8h.01M577.4,108.6h.01M587.0,111.7h.01M582.1,112.3h.01M585.3,111.2h.01M589.2,115.5h.01M581.6,110.9h.01M585.2,111.1h.01M581.0,108.6h.01M582.2,112.9h.01M582.6,113.8h.01M581.3,110.8h.01M583.5,111.2h.01M586.7,112.1h.01M585.0,111.2h.01M580.1,110.4h.01M588.6,112.4h.01M589.2,115.3h.01M589.5,117.1h.01M591.5,114.0h.01M585.0,110.9h.01M589.3,116.3h.01M588.5,114.7h.01M584.3,111.9h.01M591.8,114.4h.01M578.4,110.3h.01M581.6,112.1h.01M589.0,111.4h.01M582.7,114.7h.01M591.5,113.1h.01M584.4,112.9h.01M584.0,111.0h.01M585.4,115.0h.01M584.6,114.9h.01M577.6,111.6h.01M579.6,111.0h.01M578.2,108.6h.01M580.3,109.7h.01M584.4,113.6h.01M586.1,112.7h.01M588.4,114.6h.01M578.7,108.9h.01M584.9,112.6h.01M584.9,110.2h.01M577.6,109.2h.01M587.7,111.0h.01M582.8,111.2h.01M585.7,114.5h.01M588.0,113.3h.01M581.4,111.4h.01M589.1,114.7h.01M583.1,112.0h.01M581.9,108.6h.01M580.3,112.0h.01M588.2,115.4h.01M579.2,112.4h.01M580.8,112.9h.01M583.2,114.0h.01M587.0,112.7h.01M577.1,109.9h.01M579.8,109.7h.01M586.9,113.5h.01M578.8,110.5h.01M586.3,112.0h.01M581.8,110.9h.01M586.4,113.0h.01M580.6,110.5h.01M585.5,112.4h.01M590.0,115.8h.01M579.6,112.8h.01M578.3,108.6h.01M590.2,116.1h.01M588.0,114.7h.01M583.2,113.1h.01M582.6,108.6h.01M581.3,111.4h.01M577.1,110.7h.01M583.8,112.2h.01M587.8,115.6h.01M583.3,113.0h.01M585.5,114.3h.01M589.4,110.0h.01M584.6,112.8h.01M590.2,109.8h.01M579.5,113.6h.01M582.8,112.3h.01M580.2,108.6h.01M578.9,109.9h.01M590.9,113.7h.01M579.6,110.2h.01M587.8,115.7h.01M587.3,113.7h.01M587.9,114.6h.01M581.5,112.0h.01M582.1,111.4h.01M584.7,111.1h.01M589.1,113.4h.01M590.0,116.3h.01M590.3,113.5h.01M585.6,113.6h.01M580.8,108.6h.01M586.3,108.6h.01M580.8,111.4h.01M585.3,109.6h.01M579.0,108.6h.01M589.3,112.3h.01M579.5,112.6h.01M586.1,111.6h.01M584.1,113.2h.01M583.5,114.4h.01M585.3,112.5h.01M579.4,108.6h.01M588.5,112.6h.01M580.0,112.1h.01M579.9,109.6h.01M577.8,111.7h.01M582.7,112.0h.01M589.0,116.9h.01M586.3,110.5h.01M586.1,114.5h.01M585.6,113.0h.01M578.1,110.1h.01M577.1,108.6h.01M584.1,111.3h.01M587.7,112.7h.01M582.3,112.4h.01M583.4,110.8h.01M587.7,112.3h.01M582.5,111.6h.01M578.8,109.7h.01M577.6,112.6h.01M582.8,112.6h.01M580.5,108.6h.01M579.2,109.2h.01M585.5,112.7h.01M586.4,114.8h.01M583.0,112.7h.01M586.7,113.5h.01M603.8,117.3h.01M607.0,116.4h.01M611.2,120.9h.01M609.2,119.4h.01M608.8,119.8h.01M607.0,118.6h.01M605.9,114.8h.01M605.2,115.7h.01M609.0,120.4h.01M610.1,120.7h.01M612.3,122.2h.01M607.4,120.5h.01M612.3,120.6h.01M607.5,118.8h.01M606.9,116.3h.01M609.4,118.7h.01M606.4,115.8h.01M608.9,120.9h.01M608.7,120.9h.01M606.1,116.1h.01M606.5,117.9h.01M602.7,115.8h.01M610.0,118.8h.01M606.4,116.1h.01M605.9,115.7h.01M611.9,122.9h.01M605.3,117.9h.01M610.0,119.5h.01M608.8,118.7h.01M610.9,121.5h.01M606.6,120.1h.01M606.2,118.5h.01M606.7,115.3h.01M609.2,119.6h.01M605.9,117.8h.01M607.3,119.3h.01M610.3,119.7h.01M605.0,116.6h.01M602.5,116.0h.01M610.7,122.6h.01M610.7,119.5h.01M610.3,120.9h.01M609.4,117.8h.01M609.1,119.3h.01M603.5,115.5h.01M609.4,117.7h.01M609.1,117.9h.01M608.3,116.9h.01M611.0,119.9h.01M612.0,122.3h.01M691.4,114.3h.01M698.5,115.9h.01M697.3,114.1h.01M690.3,114.1h.01M691.1,114.4h.01M696.7,114.7h.01M705.4,115.4h.01M703.3,116.1h.01M689.9,112.4h.01M706.5,112.4h.01M695.8,110.6h.01M702.9,114.6h.01M704.1,115.9h.01M688.8,112.0h.01M689.6,111.8h.01M697.0,117.7h.01M705.1,115.5h.01M707.0,115.3h.01M687.7,111.3h.01M699.4,109.6h.01M694.9,115.0h.01M706.4,117.3h.01M696.7,113.2h.01M704.5,111.9h.01M702.7,112.8h.01M691.7,110.1h.01M697.0,116.7h.01M698.2,108.6h.01M684.9,113.1h.01M692.0,110.7h.01M691.3,112.1h.01M703.7,115.3h.01M704.8,116.2h.01M698.8,115.1h.01M707.4,114.5h.01M700.1,117.5h.01M691.8,108.6h.01M693.4,112.4h.01M696.9,114.3h.01M705.2,113.3h.01M695.8,115.9h.01M705.5,112.0h.01M691.0,110.6h.01M699.7,113.5h.01M702.0,112.3h.01M690.7,113.3h.01M703.9,118.5h.01M708.0,114.5h.01M705.8,114.7h.01M695.0,114.0h.01M695.7,113.4h.01M691.7,110.0h.01M690.8,111.4h.01M703.9,115.3h.01M690.9,112.5h.01M694.2,113.5h.01M691.3,113.3h.01M693.8,111.2h.01M698.8,114.6h.01M696.7,116.2h.01M699.5,113.1h.01M700.4,116.8h.01M696.7,111.3h.01M706.2,118.8h.01M687.4,110.1h.01M707.2,114.0h.01M702.0,111.7h.01M685.2,114.2h.01M692.1,112.6h.01M695.6,111.3h.01M706.6,116.1h.01M688.4,113.8h.01M702.7,112.3h.01M705.4,113.0h.01M705.0,115.5h.01M704.4,111.9h.01M691.7,113.5h.01M707.6,115.8h.01M706.1,116.6h.01M706.2,115.3h.01M686.0,111.8h.01M693.6,112.4h.01M706.8,114.5h.01M699.8,112.8h.01M708.2,115.3h.01M693.2,111.8h.01M688.6,114.8h.01M705.3,116.6h.01M706.4,116.9h.01M705.3,120.5h.01M699.0,114.6h.01M690.0,108.6h.01M707.6,116.7h.01M705.0,112.6h.01M687.3,112.6h.01M696.4,112.9h.01M702.4,112.1h.01M707.0,114.8h.01M696.1,112.5h.01M702.6,112.9h.01M697.2,113.8h.01M703.3,118.6h.01M698.7,112.5h.01M701.3,112.7h.01M698.3,114.1h.01M708.0,116.3h.01M700.4,111.9h.01M704.3,116.3h.01M693.9,110.6h.01M691.7,110.9h.01M697.8,114.0h.01M700.8,116.7h.01M701.0,114.4h.01M696.3,114.9h.01M689.8,112.4h.01M690.2,108.6h.01M700.0,111.2h.01M688.7,113.6h.01M696.1,112.0h.01M689.4,112.3h.01M700.2,112.7h.01M700.1,115.3h.01M704.8,115.0h.01M692.3,112.8h.01M697.7,111.8h.01M704.7,111.8h.01M687.2,113.8h.01M702.8,114.3h.01M693.4,109.6h.01M700.4,111.7h.01M691.3,113.0h.01M704.6,115.1h.01M693.1,109.7h.01M692.2,113.1h.01M707.4,117.1h.01M702.6,118.1h.01M696.5,112.4h.01M696.7,114.9h.01M695.3,114.6h.01M698.7,114.4h.01M695.2,113.5h.01M694.2,110.7h.01M692.4,113.8h.01M694.6,111.4h.01M704.0,114.2h.01M700.0,112.0h.01M689.9,111.5h.01M702.4,115.2h.01M691.8,109.6h.01M702.0,112.9h.01M689.6,113.2h.01M694.6,113.5h.01M706.6,116.9h.01M703.2,115.7h.01M695.1,113.3h.01M698.5,114.6h.01M700.2,113.9h.01M699.7,111.6h.01M703.7,111.6h.01M708.6,114.0h.01M702.0,111.2h.01M691.5,109.3h.01M697.7,110.4h.01M702.3,111.5h.01M704.2,116.6h.01M703.0,114.4h.01M705.9,114.6h.01M702.9,114.8h.01M692.6,114.1h.01M710.3,118.7h.01M699.6,116.3h.01M703.3,115.3h.01M709.3,115.3h.01M691.7,112.8h.01M697.1,114.0h.01M687.3,110.8h.01M704.1,114.5h.01M691.6,111.9h.01M702.7,109.8h.01M688.2,108.6h.01M698.6,113.0h.01M696.7,111.1h.01M691.4,108.6h.01M709.8,121.3h.01M691.7,110.3h.01M696.3,117.0h.01M699.2,113.4h.01M684.8,114.0h.01M707.2,114.0h.01M703.3,112.0h.01M710.4,114.1h.01M702.8,113.2h.01M699.2,109.6h.01M704.3,116.2h.01M701.6,119.2h.01M694.0,111.2h.01M700.5,116.5h.01M692.0,109.5h.01M697.0,113.9h.01M707.5,115.8h.01M705.4,120.9h.01M701.9,121.3h.01M701.6,113.3h.01M706.3,127.9h.01M702.3,125.1h.01M705.6,128.3h.01M701.3,122.2h.01M706.3,125.3h.01M705.1,125.0h.01M702.8,115.5h.01M708.1,118.3h.01M706.5,123.4h.01M702.9,121.4h.01M699.0,112.7h.01M708.5,122.8h.01M705.8,122.5h.01M700.2,118.5h.01M704.5,125.3h.01M704.9,116.6h.01M705.2,128.9h.01M704.4,123.8h.01M709.8,122.3h.01M704.4,111.8h.01M706.2,114.6h.01M699.2,115.1h.01M702.4,116.4h.01M703.9,118.0h.01M704.6,118.1h.01M703.7,119.2h.01M703.8,128.0h.01M707.1,124.6h.01M706.5,125.5h.01M705.7,118.1h.01M704.6,114.5h.01M702.6,112.1h.01M702.8,113.6h.01M702.5,113.6h.01M704.2,124.8h.01M704.5,117.7h.01M702.4,119.8h.01M704.0,119.9h.01M703.7,114.5h.01M705.6,125.2h.01M707.0,120.4h.01M708.0,125.9h.01M704.2,125.0h.01M706.4,118.7h.01M707.4,126.5h.01M700.9,115.8h.01M706.1,122.3h.01M699.7,115.5h.01M706.3,114.2h.01M698.8,123.3h.01M699.2,115.2h.01M702.8,116.5h.01M703.7,111.0h.01M700.2,119.1h.01M700.2,116.6h.01M706.7,126.1h.01M704.0,115.5h.01M707.0,115.0h.01M700.6,113.7h.01M705.4,120.8h.01M704.3,120.1h.01M698.0,118.1h.01M707.9,131.9h.01M696.2,112.6h.01M708.9,115.7h.01M698.4,125.0h.01M704.9,119.5h.01M701.5,128.0h.01M707.9,129.4h.01M700.1,120.0h.01M704.9,119.9h.01M705.7,115.8h.01M704.5,115.8h.01M700.0,119.6h.01M705.9,126.2h.01M700.7,117.9h.01M702.3,112.2h.01M706.7,120.0h.01M706.4,121.6h.01M703.0,125.2h.01M699.2,114.1h.01M708.9,120.9h.01M706.8,125.1h.01M700.7,117.9h.01M707.4,126.7h.01M701.5,114.2h.01M699.1,116.8h.01M704.9,127.5h.01M707.0,120.3h.01M706.0,113.8h.01M704.2,115.8h.01M704.9,124.5h.01M704.4,114.8h.01M703.4,124.3h.01M703.1,115.7h.01M699.9,123.0h.01M707.7,127.6h.01M705.6,114.3h.01M705.6,124.2h.01M704.8,110.4h.01M703.2,122.6h.01M702.7,111.5h.01M706.0,123.7h.01M704.4,123.0h.01M706.8,120.3h.01M700.8,110.7h.01M705.9,113.9h.01M704.7,123.7h.01M707.7,126.0h.01M705.2,124.8h.01M704.0,127.0h.01M707.2,123.0h.01M708.1,127.1h.01M697.9,119.2h.01M705.4,113.8h.01M707.9,125.8h.01M702.0,110.1h.01M706.4,126.5h.01M704.2,127.1h.01M703.6,122.5h.01M709.2,124.2h.01M703.8,120.0h.01M704.7,111.9h.01M704.8,119.0h.01M703.3,123.8h.01M707.8,126.0h.01M709.4,126.0h.01M702.2,121.9h.01M705.0,126.4h.01M701.3,125.8h.01M701.1,113.4h.01M709.8,123.4h.01M705.9,122.8h.01M706.6,124.0h.01M705.2,120.9h.01M701.9,115.5h.01M702.3,118.5h.01M705.7,125.8h.01M703.7,109.5h.01M704.2,115.8h.01M705.3,123.3h.01M710.4,125.5h.01M705.6,124.7h.01M703.6,124.4h.01M704.4,128.1h.01M703.2,124.0h.01M704.5,116.8h.01M707.6,118.6h.01M705.5,130.8h.01M705.0,116.0h.01M706.4,116.6h.01M705.4,117.0h.01M701.0,115.9h.01M703.1,113.9h.01M703.8,123.0h.01M703.9,128.5h.01M707.0,119.7h.01M708.9,126.3h.01M704.8,122.8h.01M703.4,113.4h.01M700.6,118.2h.01M700.7,113.2h.01M700.3,121.6h.01M707.1,125.0h.01M705.6,113.5h.01M701.4,128.2h.01M702.3,114.9h.01M703.3,119.9h.01M705.0,127.1h.01M707.4,117.2h.01M699.8,116.4h.01M704.6,121.8h.01M704.8,123.5h.01M702.5,125.0h.01M703.1,115.6h.01M701.6,118.7h.01M707.1,118.4h.01M702.7,121.2h.01M701.8,115.2h.01M709.4,125.6h.01M705.2,123.1h.01M705.3,131.3h.01M700.6,115.1h.01M703.9,115.9h.01M701.6,113.9h.01M703.9,123.3h.01M699.0,111.1h.01M702.5,118.7h.01M706.0,120.5h.01M702.1,115.5h.01M702.9,119.5h.01M701.9,119.8h.01M702.1,117.0h.01M705.3,122.3h.01M706.2,118.1h.01M706.5,128.2h.01M703.9,124.5h.01M695.6,129.1h.01M694.9,126.4h.01M694.8,128.1h.01M696.4,129.9h.01M698.1,126.8h.01M698.8,133.9h.01M702.1,139.5h.01M699.3,126.0h.01M699.1,130.6h.01M696.2,126.0h.01M703.4,136.1h.01M698.1,126.3h.01M694.9,125.8h.01M693.7,126.8h.01M696.2,125.9h.01M694.7,127.0h.01M697.2,126.8h.01M695.1,125.4h.01M700.8,132.8h.01M696.8,126.1h.01M695.4,125.4h.01M693.7,125.7h.01M699.8,134.1h.01M697.0,128.9h.01M695.7,123.3h.01M697.4,129.9h.01M701.3,136.9h.01M696.6,130.4h.01M699.9,130.5h.01M695.5,124.3h.01M696.7,127.4h.01M696.0,125.7h.01M700.2,136.4h.01M699.4,133.0h.01M700.5,132.9h.01M700.3,131.5h.01M691.4,130.0h.01M696.5,128.5h.01M697.4,132.4h.01M692.8,127.1h.01M703.1,136.2h.01M698.5,129.2h.01M698.4,126.7h.01M694.8,130.0h.01M696.5,131.1h.01M701.9,132.1h.01M695.6,132.7h.01M696.4,128.9h.01M698.1,130.5h.01M698.3,130.4h.01M700.3,173.2h.01M704.6,172.4h.01M703.1,173.5h.01M703.0,169.7h.01M701.6,169.7h.01M701.8,168.3h.01M702.5,175.1h.01M704.5,175.5h.01M704.7,174.9h.01M704.0,177.9h.01M705.5,173.9h.01M703.4,164.7h.01M706.2,175.5h.01M705.2,174.1h.01M706.1,176.3h.01M703.2,173.2h.01M704.9,179.6h.01M696.4,164.7h.01M705.1,174.2h.01M701.5,170.1h.01M702.0,177.5h.01M706.0,176.8h.01M706.3,171.3h.01M703.1,169.5h.01M698.9,170.6h.01M707.3,174.0h.01M698.9,166.7h.01M702.4,167.9h.01M698.5,166.6h.01M702.3,173.2h.01M702.3,169.8h.01M705.2,172.5h.01M697.9,174.6h.01M705.0,178.3h.01M701.6,173.0h.01M708.7,178.9h.01M702.8,172.2h.01M701.2,172.2h.01M702.6,172.1h.01M702.0,173.1h.01M704.3,171.8h.01M705.7,176.7h.01M704.2,176.2h.01M701.5,173.5h.01M707.1,174.4h.01M706.5,173.7h.01M702.4,177.7h.01M703.4,173.5h.01M705.5,178.5h.01M704.9,174.2h.01M698.9,170.6h.01M707.5,174.9h.01M702.6,174.2h.01M707.4,174.3h.01M703.8,173.7h.01M702.6,174.3h.01M698.0,167.7h.01M701.8,167.3h.01M700.7,167.9h.01M704.6,176.3h.01M702.4,173.2h.01M700.7,172.3h.01M701.8,172.9h.01M707.7,176.0h.01M704.2,172.1h.01M699.3,163.5h.01M700.3,171.5h.01M700.7,172.2h.01M702.8,174.9h.01M706.7,176.6h.01M699.0,167.6h.01M705.3,180.2h.01M704.8,169.9h.01M703.1,170.9h.01M709.8,175.1h.01M704.0,167.7h.01M700.8,166.4h.01M698.9,167.9h.01M697.1,165.4h.01M701.9,176.5h.01M701.4,170.9h.01M699.7,169.8h.01M704.7,169.6h.01M701.9,175.9h.01M701.8,174.7h.01M703.3,175.9h.01M698.6,170.5h.01M698.5,165.6h.01M706.2,181.6h.01M697.4,170.8h.01M700.0,167.1h.01M701.8,174.6h.01M703.1,168.1h.01M699.6,169.3h.01M702.8,170.3h.01M699.8,165.4h.01M701.3,169.2h.01M703.9,174.7h.01M700.5,168.8h.01M700.1,168.1h.01M701.3,168.2h.01M697.3,167.8h.01M703.4,175.1h.01M703.5,172.0h.01M702.2,176.6h.01M700.0,167.1h.01M700.8,172.4h.01M700.0,165.6h.01M701.4,168.6h.01M701.0,171.5h.01M693.4,209.0h.01M706.5,234.0h.01M708.5,233.8h.01M691.4,207.8h.01M703.2,222.8h.01M701.9,236.1h.01M702.3,224.8h.01M698.3,224.5h.01M701.6,217.1h.01M705.1,223.9h.01M696.4,211.8h.01M698.9,224.4h.01M697.8,224.5h.01M701.0,222.2h.01M700.7,234.0h.01M694.7,224.3h.01M705.0,230.4h.01M699.5,220.6h.01M699.9,236.1h.01M702.9,231.2h.01M708.1,227.7h.01M705.1,233.4h.01M703.2,232.0h.01M691.8,211.1h.01M691.6,216.4h.01M695.6,220.2h.01M707.0,228.8h.01M692.8,212.3h.01M696.0,219.4h.01M697.5,218.6h.01M694.7,205.2h.01M700.2,222.5h.01M695.9,224.8h.01M704.1,234.6h.01M702.2,227.1h.01M705.8,228.9h.01M702.3,223.3h.01M702.0,221.8h.01M696.5,229.3h.01M692.3,204.3h.01M694.5,206.0h.01M697.5,225.5h.01M693.1,214.4h.01M697.7,218.0h.01M690.1,200.3h.01M695.4,212.5h.01M702.7,231.0h.01M699.2,217.5h.01M695.6,217.4h.01M704.5,224.4h.01M701.9,230.8h.01M700.1,228.1h.01M689.3,215.5h.01M702.6,221.7h.01M692.0,211.0h.01M696.0,214.1h.01M691.3,218.7h.01M688.0,217.8h.01M691.1,211.8h.01M695.1,211.4h.01M702.0,218.9h.01M692.0,213.8h.01M704.5,231.5h.01M703.1,219.4h.01M707.1,231.8h.01M698.9,210.3h.01M701.1,228.4h.01M694.8,223.6h.01M701.4,224.7h.01M697.1,225.2h.01M696.1,213.5h.01M700.3,216.4h.01M697.9,221.7h.01M705.0,223.2h.01M697.6,224.3h.01M699.9,219.4h.01M695.9,217.0h.01M702.0,225.1h.01M693.7,221.5h.01M691.5,214.1h.01M693.5,208.3h.01M704.6,233.5h.01M704.1,229.0h.01M694.8,224.4h.01M706.7,227.1h.01M694.1,205.7h.01M700.8,227.4h.01M701.1,218.6h.01M705.5,231.5h.01M709.1,228.0h.01M699.5,224.7h.01M700.7,218.6h.01M701.8,228.1h.01M696.4,220.8h.01M699.5,220.4h.01M702.0,231.6h.01M704.6,220.4h.01M707.4,230.4h.01M701.5,227.5h.01M694.3,222.7h.01M696.0,224.7h.01M698.9,215.7h.01M710.4,233.1h.01M700.3,223.7h.01M693.3,215.4h.01M700.0,219.1h.01M694.4,214.2h.01M701.3,226.3h.01M691.5,209.4h.01M688.8,208.6h.01M703.8,220.4h.01M703.2,222.4h.01M695.6,220.6h.01M693.3,206.0h.01M700.0,233.9h.01M698.6,223.7h.01M690.7,216.9h.01M699.8,222.8h.01M703.7,229.9h.01M698.8,225.0h.01M703.5,226.5h.01M705.6,223.9h.01M702.7,221.8h.01M699.8,227.0h.01M700.4,228.3h.01M691.7,208.8h.01M701.4,227.8h.01M706.7,225.3h.01M696.1,213.3h.01M701.5,230.0h.01M693.4,218.0h.01M700.7,222.3h.01M702.9,217.5h.01M693.0,211.2h.01M705.7,226.9h.01M696.3,228.7h.01M692.5,212.8h.01M695.4,220.2h.01M690.3,210.1h.01M706.7,226.4h.01M686.0,209.0h.01M692.7,209.7h.01M703.3,232.3h.01M697.7,223.0h.01M693.8,212.7h.01M695.5,216.5h.01M703.7,231.9h.01M706.5,232.0h.01M709.6,229.6h.01M697.0,232.1h.01M686.6,204.9h.01M701.2,224.6h.01M703.2,228.4h.01M702.7,228.2h.01M693.1,207.7h.01M695.0,213.5h.01M689.0,209.6h.01M706.0,229.0h.01M696.8,222.0h.01M696.4,215.7h.01M691.7,216.3h.01M702.0,221.2h.01M694.3,222.3h.01M700.1,226.8h.01M695.1,220.7h.01M693.7,210.3h.01M705.8,228.1h.01M694.9,214.0h.01M701.8,226.6h.01M694.7,216.9h.01M699.2,221.2h.01M698.2,226.1h.01M693.3,216.2h.01M683.8,206.9h.01M693.3,209.1h.01M706.5,230.6h.01M706.3,229.7h.01M691.6,215.5h.01M688.1,206.8h.01M694.0,210.9h.01M700.5,216.9h.01M689.6,207.6h.01M694.2,216.1h.01M705.4,228.6h.01M692.4,211.7h.01M692.6,220.6h.01M694.1,209.7h.01M703.1,229.3h.01M705.7,224.5h.01M707.0,233.6h.01M701.7,220.8h.01M694.3,212.5h.01M695.0,217.2h.01M692.6,218.2h.01M703.2,231.3h.01M701.0,232.6h.01M696.1,214.5h.01M695.6,216.4h.01M704.6,227.7h.01M710.4,231.3h.01M583.9,226.3h.01M592.5,227.8h.01M613.0,235.7h.01M602.1,234.1h.01M604.1,229.4h.01M610.5,230.5h.01M598.5,234.8h.01M604.4,230.4h.01M591.8,232.4h.01M606.4,232.7h.01M590.6,227.8h.01M586.9,225.1h.01M595.6,230.1h.01M580.8,228.7h.01M597.4,227.3h.01M585.3,228.5h.01M598.6,234.2h.01M592.2,229.3h.01M597.5,230.1h.01M577.1,222.3h.01M611.9,232.2h.01M610.0,232.7h.01M612.1,235.5h.01M583.4,227.7h.01M598.9,229.6h.01M605.8,232.3h.01M618.8,232.5h.01M581.1,227.1h.01M589.4,229.0h.01M611.7,233.0h.01M590.0,232.0h.01M583.5,227.6h.01M618.3,236.1h.01M617.2,235.2h.01M610.6,230.9h.01M621.8,235.8h.01M579.1,224.3h.01M580.2,229.2h.01M601.9,230.8h.01M600.8,229.0h.01M583.1,228.1h.01M580.7,232.0h.01M578.7,226.6h.01M619.4,234.1h.01M611.6,231.7h.01M613.7,235.9h.01M606.6,234.8h.01M613.4,232.2h.01M597.3,228.9h.01M587.6,229.9h.01M579.9,229.6h.01M610.2,235.8h.01M577.1,223.8h.01M579.4,226.2h.01M616.0,236.1h.01M604.2,231.9h.01M603.6,231.0h.01M578.1,227.3h.01M590.1,226.5h.01M612.4,230.6h.01M606.6,233.3h.01M602.7,229.9h.01M607.8,230.2h.01M599.8,227.0h.01M613.8,233.6h.01M608.6,235.3h.01M592.1,228.5h.01M609.4,232.4h.01M579.1,227.9h.01M577.9,226.8h.01M591.3,228.5h.01M615.5,234.4h.01M598.1,231.3h.01M608.6,232.5h.01M597.2,233.3h.01M583.5,228.4h.01M610.8,236.1h.01M610.7,227.2h.01M591.3,226.7h.01M611.3,235.0h.01M609.5,235.5h.01M577.1,226.8h.01M603.1,231.7h.01M599.0,231.3h.01M585.3,227.1h.01M616.3,232.8h.01M602.1,228.6h.01M586.0,235.9h.01M586.5,229.5h.01M602.6,236.1h.01M584.5,225.1h.01M577.1,228.6h.01M610.6,234.0h.01M580.2,228.4h.01M589.6,229.5h.01M586.7,225.0h.01M611.0,233.6h.01M580.2,229.1h.01M604.4,233.0h.01M612.3,235.2h.01M612.7,234.1h.01M589.4,226.3h.01M584.4,230.0h.01M581.2,224.3h.01M596.3,234.4h.01M579.7,231.9h.01M583.0,227.3h.01M613.8,226.8h.01M599.5,233.0h.01M594.0,231.1h.01M599.0,230.0h.01M593.7,226.0h.01M592.0,226.2h.01M603.3,234.8h.01M613.5,233.2h.01M609.5,229.7h.01M607.3,234.9h.01M577.1,223.6h.01M596.6,226.2h.01M578.9,226.4h.01M602.5,229.7h.01M587.4,229.5h.01M613.8,232.3h.01M615.8,233.3h.01M606.2,229.9h.01M611.5,235.6h.01M594.2,230.9h.01M617.0,236.1h.01M585.8,231.5h.01M578.6,224.9h.01M592.3,232.8h.01M597.5,228.7h.01M599.8,232.8h.01M578.9,223.8h.01M612.5,230.7h.01M577.1,229.1h.01M618.0,236.1h.01M613.0,233.8h.01M577.1,228.5h.01M608.3,232.3h.01M610.1,231.5h.01M613.9,233.9h.01M591.3,227.2h.01M577.8,231.2h.01M617.2,236.1h.01M587.1,229.5h.01M617.6,228.2h.01M577.1,227.9h.01M577.1,224.6h.01M614.4,232.7h.01M610.1,232.0h.01M615.1,236.1h.01M586.0,228.9h.01M616.2,236.1h.01M606.1,236.1h.01M600.9,230.2h.01M599.4,223.0h.01M582.3,229.6h.01M617.8,233.0h.01M603.6,236.1h.01M599.4,235.2h.01M599.7,231.2h.01M580.2,227.6h.01M579.6,226.8h.01M598.2,232.6h.01M579.4,228.1h.01M612.9,232.8h.01M603.8,231.9h.01M597.7,228.9h.01M577.1,224.5h.01M577.1,228.8h.01M577.1,226.3h.01M587.3,228.0h.01M591.6,229.9h.01M597.4,235.2h.01M600.2,230.8h.01M611.0,234.6h.01M616.2,230.5h.01M580.3,229.4h.01M615.1,229.3h.01M580.0,226.0h.01M610.0,235.6h.01M577.6,225.3h.01M604.1,232.1h.01M591.6,227.7h.01M601.7,232.2h.01M578.2,226.2h.01M577.1,226.7h.01M616.3,234.1h.01M579.7,226.7h.01M609.9,233.2h.01M616.1,236.1h.01M594.5,231.9h.01M598.1,230.1h.01M586.9,228.7h.01M598.1,231.9h.01M588.4,231.7h.01M612.8,233.3h.01M604.8,233.2h.01M603.6,232.4h.01M594.0,230.3h.01M577.1,225.9h.01M600.0,232.9h.01M604.8,232.4h.01M602.1,235.0h.01M597.3,229.3h.01M590.1,228.7h.01M589.3,229.7h.01M599.4,228.7h.01M598.4,231.6h.01M615.6,235.3h.01M584.7,226.9h.01M581.9,228.0h.01M600.8,235.1h.01M580.1,229.0h.01M602.6,231.2h.01M600.9,234.0h.01M599.7,231.3h.01M583.5,226.1h.01M589.6,229.9h.01M599.7,229.7h.01M608.6,229.4h.01M591.9,229.7h.01M596.3,229.7h.01M577.1,229.4h.01M596.5,233.0h.01M587.9,230.4h.01M587.7,228.8h.01M591.1,230.5h.01M599.0,229.4h.01M587.1,228.6h.01M587.3,230.7h.01M593.8,225.9h.01M579.4,227.9h.01M577.1,226.4h.01M586.0,229.9h.01M608.1,233.1h.01M577.1,225.7h.01M595.2,228.0h.01M611.4,234.8h.01M587.3,224.6h.01M585.8,229.0h.01M585.6,227.5h.01M604.4,228.1h.01M610.2,235.2h.01M588.2,225.9h.01M608.8,230.2h.01M581.8,226.5h.01M589.1,229.9h.01M588.6,233.6h.01M608.5,231.3h.01M600.1,228.1h.01M582.0,228.9h.01M603.2,234.1h.01M600.5,229.9h.01M581.5,223.6h.01M584.4,229.2h.01M588.0,225.5h.01M594.5,232.0h.01M582.8,232.4h.01M580.9,227.0h.01M613.9,231.5h.01M614.0,233.8h.01M581.0,229.7h.01M584.6,230.2h.01M603.8,233.1h.01M612.3,236.1h.01M593.7,225.8h.01M609.0,233.7h.01M579.7,226.5h.01M593.6,228.7h.01M605.8,230.2h.01M596.1,228.8h.01M589.7,227.6h.01M614.2,234.4h.01M582.6,222.2h.01M610.2,232.4h.01M602.0,231.4h.01M610.3,236.1h.01M579.1,230.0h.01M597.9,230.6h.01M577.1,228.7h.01M577.1,228.6h.01M580.7,225.0h.01M608.3,235.7h.01M586.4,225.8h.01M579.8,229.7h.01M606.8,232.4h.01M610.1,225.0h.01M614.4,234.8h.01M614.7,233.7h.01M610.1,229.5h.01M604.5,230.2h.01M596.7,229.8h.01M606.1,225.3h.01M603.0,236.1h.01M614.0,235.8h.01M591.3,233.0h.01M607.5,230.7h.01M605.8,232.5h.01M630.6,231.7h.01M627.1,232.3h.01M626.4,233.5h.01M620.7,231.9h.01M633.4,231.3h.01M625.7,229.5h.01M643.1,234.1h.01M642.6,234.1h.01M632.0,234.7h.01M645.2,233.6h.01M633.0,231.6h.01M630.7,231.7h.01M616.8,231.8h.01M623.1,228.8h.01M620.2,232.1h.01M622.1,232.5h.01M639.6,233.4h.01M632.5,231.3h.01M640.0,233.3h.01M649.1,233.1h.01M653.4,232.9h.01M625.5,230.9h.01M639.4,231.1h.01M637.0,235.9h.01M630.3,231.0h.01M642.6,233.6h.01M637.1,234.9h.01M622.0,232.5h.01M638.3,234.3h.01M646.5,234.8h.01M644.4,232.2h.01M625.3,229.5h.01M633.5,231.0h.01M649.8,233.2h.01M650.0,231.6h.01M638.2,232.7h.01M621.0,232.5h.01M626.5,232.2h.01M627.2,235.2h.01M641.8,232.3h.01M623.7,231.5h.01M634.6,232.0h.01M619.5,231.1h.01M643.2,232.1h.01M625.6,232.0h.01M639.1,234.2h.01M640.9,232.5h.01M640.7,235.6h.01M622.8,231.9h.01M628.1,233.0h.01M629.5,231.7h.01M624.8,231.4h.01M623.2,231.7h.01M617.7,232.1h.01M623.0,234.0h.01M653.5,235.3h.01M623.2,231.9h.01M624.6,232.6h.01M621.0,232.0h.01M624.2,231.5h.01M649.0,235.1h.01M633.3,235.3h.01M624.8,229.4h.01M634.6,234.8h.01M636.2,234.8h.01M626.5,230.7h.01M645.7,232.7h.01M632.6,232.2h.01M650.1,234.7h.01M621.9,231.6h.01M629.7,230.9h.01M644.6,233.3h.01M621.9,235.6h.01M626.2,232.1h.01M624.5,230.1h.01M633.4,230.5h.01M626.9,234.3h.01M635.3,231.3h.01M631.3,231.8h.01M644.1,232.5h.01M649.5,235.3h.01M628.9,230.9h.01M639.5,233.1h.01M644.2,234.2h.01M633.2,232.5h.01M624.0,233.2h.01M627.9,234.9h.01M621.9,229.3h.01M649.1,235.8h.01M643.8,233.1h.01M650.0,233.1h.01M645.7,232.1h.01M647.1,233.1h.01M648.3,232.7h.01M642.0,230.3h.01M631.0,234.0h.01M638.3,229.5h.01M636.6,233.4h.01M638.9,233.6h.01M653.0,233.0h.01M588.4,163.0h.01M588.0,162.2h.01M591.0,161.6h.01M590.1,163.2h.01M588.4,163.3h.01M585.4,161.5h.01M587.5,164.2h.01M586.0,163.3h.01M586.3,163.9h.01M587.7,163.9h.01M592.0,163.6h.01M588.0,164.0h.01M591.8,162.8h.01M591.1,165.3h.01M587.4,165.6h.01M590.0,163.5h.01M588.5,164.0h.01M588.3,163.4h.01M591.1,164.8h.01M584.7,164.1h.01M587.3,162.6h.01M588.5,165.4h.01M589.3,162.4h.01M585.7,162.2h.01M589.0,163.4h.01M585.6,162.4h.01M590.0,165.1h.01M590.1,165.3h.01M590.3,164.6h.01M586.6,164.3h.01M587.7,163.6h.01M587.8,161.7h.01M585.8,162.7h.01M589.6,163.0h.01M588.0,162.3h.01M585.9,162.6h.01M586.7,162.9h.01M591.9,164.0h.01M584.4,163.4h.01M591.5,164.0h.01M586.1,161.7h.01M591.5,162.3h.01M591.2,163.6h.01M583.9,162.5h.01M590.4,163.0h.01M588.6,162.7h.01M586.9,162.1h.01M585.7,163.5h.01M590.1,164.2h.01M588.9,165.3h.01M582.7,206.8h.01M582.7,207.9h.01M580.4,204.2h.01M579.5,207.4h.01M579.6,205.6h.01M584.5,207.8h.01M586.9,209.5h.01M584.2,209.0h.01M585.0,210.7h.01M584.7,209.1h.01M583.0,209.5h.01M583.5,210.4h.01M582.4,208.2h.01M583.2,208.9h.01M586.4,207.1h.01M583.8,203.9h.01M580.7,206.2h.01M584.9,207.4h.01M582.3,207.9h.01M584.0,210.0h.01M580.8,204.3h.01M580.5,206.8h.01M582.7,209.9h.01M583.4,208.7h.01M579.8,208.0h.01M585.1,211.9h.01M581.1,205.5h.01M583.2,206.4h.01M583.1,207.8h.01M581.1,203.5h.01M578.5,205.2h.01M583.0,207.0h.01M584.8,207.5h.01M578.6,205.0h.01M584.5,207.9h.01M577.9,203.7h.01M581.1,210.5h.01M582.5,207.0h.01M584.5,211.5h.01M579.6,207.0h.01M584.1,206.8h.01M584.2,211.1h.01M586.9,207.6h.01M584.7,207.9h.01M584.3,210.1h.01M577.5,205.5h.01M583.0,203.9h.01M580.7,205.9h.01M579.9,202.6h.01M583.2,204.4h.01M668.4,165.9h.01M670.7,165.9h.01M670.6,167.2h.01M668.2,164.6h.01M669.9,165.9h.01M671.8,165.7h.01M668.2,166.4h.01M668.4,165.2h.01M670.1,165.9h.01M670.1,166.1h.01M667.9,164.9h.01M671.7,165.4h.01M671.6,165.1h.01M668.7,165.2h.01M670.7,164.9h.01M670.6,165.8h.01M669.9,166.4h.01M669.3,167.4h.01M671.9,166.6h.01M668.2,164.5h.01M667.5,165.3h.01M667.7,165.9h.01M666.2,165.5h.01M671.7,165.9h.01M670.0,166.7h.01M668.2,165.3h.01M667.6,165.0h.01M667.6,165.0h.01M667.4,165.4h.01M672.1,165.5h.01M667.2,165.9h.01M670.3,165.8h.01M671.7,167.4h.01M666.4,165.3h.01M671.6,167.1h.01M664.4,218.0h.01M665.1,216.2h.01M662.4,215.8h.01M661.7,215.8h.01M665.5,217.0h.01M663.3,215.0h.01M662.0,213.4h.01M660.4,213.6h.01M659.7,212.8h.01M662.1,214.5h.01M661.9,216.1h.01M660.6,215.9h.01M662.5,215.1h.01M663.1,214.1h.01M662.7,214.6h.01M662.7,214.2h.01M666.6,218.2h.01M661.4,213.7h.01M665.6,216.9h.01M661.4,218.5h.01M664.1,217.8h.01M659.9,213.6h.01M661.4,215.4h.01M662.9,216.2h.01M663.9,216.2h.01M660.5,215.4h.01M665.4,216.9h.01M665.4,215.8h.01M663.5,215.8h.01M660.0,214.6h.01M578.6,142.1h.01M577.5,139.1h.01M579.2,144.0h.01M581.0,147.6h.01M577.3,143.0h.01M578.7,138.7h.01M579.8,152.3h.01M579.8,146.6h.01M580.1,149.2h.01M581.6,156.1h.01M581.9,151.3h.01M578.1,140.5h.01M580.9,150.8h.01M578.2,144.0h.01M578.5,151.5h.01M579.3,143.9h.01M578.5,154.8h.01M577.6,140.8h.01M580.1,154.2h.01M581.9,155.1h.01M578.2,143.4h.01M579.1,139.9h.01M580.7,143.4h.01M579.9,143.0h.01M579.9,153.0h.01M577.1,138.0h.01M579.5,140.1h.01M580.3,153.1h.01M580.7,155.1h.01M579.9,154.1h.01M581.5,154.2h.01M578.0,147.9h.01M581.8,156.0h.01M579.4,142.6h.01M578.5,144.5h.01M579.9,144.1h.01M577.1,143.2h.01M578.3,145.8h.01M581.2,157.1h.01M579.3,142.3h.01M705.1,199.4h.01M702.7,195.1h.01M700.8,182.3h.01M704.8,198.3h.01M707.6,205.1h.01M701.4,188.9h.01M705.3,186.6h.01M706.0,195.2h.01M708.3,200.2h.01M700.5,197.5h.01M707.0,195.2h.01M707.7,203.4h.01M702.6,194.5h.01M707.7,204.8h.01M704.5,201.5h.01M703.6,201.1h.01M701.3,203.4h.01M706.1,198.4h.01M701.9,187.1h.01M698.9,183.0h.01M703.5,189.4h.01M706.8,205.7h.01M702.0,190.4h.01M704.2,189.4h.01M707.3,204.7h.01M701.7,184.2h.01M703.9,197.1h.01M707.0,209.1h.01M705.1,194.0h.01M702.9,190.8h.01M704.7,188.5h.01M702.5,197.8h.01M703.4,184.2h.01M703.3,197.4h.01M706.8,200.2h.01M702.1,191.0h.01M703.3,203.3h.01M702.9,190.4h.01M705.4,189.3h.01M706.9,200.4h.01M704.7,203.6h.01M709.1,206.8h.01M701.0,185.4h.01M705.2,195.3h.01M702.6,196.1h.01M705.8,185.2h.01M703.9,198.0h.01M702.8,190.2h.01M705.6,186.8h.01M706.0,196.9h.01M703.0,190.4h.01M699.9,193.7h.01M705.3,200.0h.01M708.2,203.5h.01M705.1,197.2h.01M705.3,198.5h.01M708.7,204.0h.01M706.3,198.9h.01M700.5,190.7h.01M701.7,197.6h.01M706.1,183.6h.01M705.1,202.7h.01M700.9,185.1h.01M707.7,207.0h.01M706.8,204.1h.01M703.4,193.9h.01M705.3,191.8h.01M700.7,193.3h.01M702.0,188.2h.01M704.0,203.0h.01M702.4,185.5h.01M700.3,199.6h.01M703.1,196.8h.01M704.9,195.5h.01M702.7,194.8h.01M702.6,183.9h.01M703.4,186.8h.01M706.9,205.0h.01M703.9,202.4h.01M704.1,185.6h.01M580.2,222.1h.01M577.1,220.4h.01M583.5,228.4h.01M581.1,218.5h.01M583.3,222.4h.01M590.2,225.1h.01M579.1,222.2h.01M585.4,226.6h.01M584.1,230.0h.01M583.0,220.9h.01M578.6,222.8h.01M587.4,227.6h.01M583.0,225.2h.01M578.7,223.1h.01M582.8,225.6h.01M586.0,229.5h.01M587.0,226.1h.01M583.5,223.3h.01M577.1,218.6h.01M585.1,226.0h.01M585.0,227.4h.01M582.8,225.8h.01M577.1,224.3h.01M586.3,230.2h.01M584.0,221.6h.01M586.7,232.0h.01M577.1,223.1h.01M582.1,229.2h.01M587.3,227.4h.01M580.8,225.1h.01M578.3,221.4h.01M587.3,226.9h.01M588.6,225.5h.01M583.6,228.3h.01M583.1,221.5h.01M582.1,226.7h.01M579.8,218.9h.01M583.0,220.5h.01M583.3,227.1h.01M577.1,224.1h.01M582.1,223.1h.01M577.2,220.0h.01M577.1,223.7h.01M580.4,226.0h.01M585.2,228.1h.01M578.5,222.3h.01M582.8,221.2h.01M584.6,226.1h.01M581.7,220.9h.01M577.1,218.4h.01M587.0,229.5h.01M577.1,221.2h.01M577.1,221.1h.01M588.2,224.6h.01M582.4,229.9h.01M588.7,227.4h.01M577.1,221.3h.01M580.8,225.4h.01M579.9,221.9h.01M579.4,221.5h.01M579.9,221.9h.01M577.1,216.0h.01M586.2,224.5h.01M587.3,227.9h.01M582.7,227.8h.01M579.8,220.7h.01M582.1,225.2h.01M579.8,221.4h.01M579.0,226.0h.01M579.6,221.0h.01M581.8,224.0h.01M579.1,217.5h.01M585.5,223.5h.01M577.1,221.4h.01M588.4,229.0h.01M581.3,226.2h.01M580.6,226.2h.01M585.7,226.9h.01M580.9,220.6h.01M586.2,226.0h.01M601.9,120.1h.01M594.6,115.5h.01M599.4,117.1h.01M595.1,116.7h.01M597.7,116.5h.01M600.6,116.9h.01M602.1,116.8h.01M597.7,116.6h.01M596.6,115.0h.01M596.8,117.5h.01M593.5,116.7h.01M597.4,117.2h.01M594.9,116.8h.01M594.7,117.1h.01M599.9,116.9h.01M598.0,117.4h.01M597.2,118.4h.01M602.2,118.6h.01M602.6,116.4h.01M597.7,118.0h.01M594.6,117.3h.01M602.3,116.3h.01M599.0,116.2h.01M597.0,116.2h.01M600.3,115.5h.01M599.4,116.7h.01M595.1,115.0h.01M597.9,117.7h.01M599.7,118.0h.01M600.3,116.2h.01M683.4,218.0h.01M679.3,217.4h.01M694.7,223.7h.01M687.2,216.4h.01M691.8,221.0h.01M690.5,219.1h.01M690.3,221.5h.01M685.0,218.2h.01M679.0,215.5h.01M693.6,221.1h.01M691.7,224.9h.01M684.8,217.3h.01M686.6,220.7h.01M682.2,218.2h.01M689.4,222.8h.01M688.7,221.0h.01M679.4,218.7h.01M688.1,217.5h.01M683.2,219.6h.01M691.6,224.0h.01M683.0,217.1h.01M679.5,218.8h.01M679.0,217.9h.01M684.6,218.9h.01M688.5,219.0h.01M693.1,222.2h.01M691.7,222.5h.01M687.4,218.5h.01M688.3,220.1h.01M680.7,219.0h.01M690.4,222.3h.01M682.7,215.3h.01M682.3,216.3h.01M680.6,221.3h.01M684.8,215.7h.01M684.0,217.3h.01M690.0,224.7h.01M680.0,219.4h.01M693.5,222.9h.01M692.0,220.4h.01M606.9,121.5h.01M608.6,149.1h.01M605.6,129.1h.01M608.4,138.2h.01M607.6,126.5h.01M604.9,123.2h.01M605.2,126.6h.01M606.9,127.8h.01M608.6,145.3h.01M609.2,140.8h.01M607.4,136.5h.01M605.8,127.0h.01M607.1,145.4h.01M607.1,133.1h.01M608.6,148.0h.01M606.1,116.5h.01M606.0,119.6h.01M607.1,137.1h.01M610.5,152.2h.01M609.2,149.7h.01M607.5,132.1h.01M608.3,132.9h.01M608.2,131.1h.01M607.7,142.8h.01M605.5,126.3h.01M609.6,146.9h.01M607.5,129.2h.01M608.1,135.5h.01M604.6,116.7h.01M606.4,133.8h.01M607.3,127.9h.01M609.4,150.6h.01M605.5,124.5h.01M605.1,120.6h.01M606.5,122.3h.01M608.5,148.1h.01M607.7,140.2h.01M606.3,133.0h.01M610.2,144.8h.01M605.6,123.2h.01" stroke="#2020dc" stroke-width="1.3" stroke-linecap="round" fill="none" opacity="0.95"/>
<rect x="620.5" y="155.6" width="38" height="36.6" fill="none" stroke="#2a2a2a" stroke-width="1.4"/>
<text class="b" x="495.7" y="103.2" font-size="13.2" text-anchor="middle">Control</text>
<text class="b" x="637.6" y="103.2" font-size="13.2" text-anchor="middle">Nicotine</text>
<line x1="746.1" y1="102.58" x2="746.1" y2="227.2" stroke="#1a1a1a" stroke-width="1.6"/>
<line x1="742.5" y1="226.4" x2="896" y2="226.4" stroke="#1a1a1a" stroke-width="1.6"/>
<text class="b" x="742.3" y="230.36" font-size="11" text-anchor="end">0</text>
<line x1="742.5" y1="201.78" x2="746.1" y2="201.78" stroke="#1a1a1a" stroke-width="1.44"/>
<text class="b" x="742.3" y="205.74" font-size="11" text-anchor="end">2</text>
<line x1="742.5" y1="177.16" x2="746.1" y2="177.16" stroke="#1a1a1a" stroke-width="1.44"/>
<text class="b" x="742.3" y="181.12" font-size="11" text-anchor="end">4</text>
<line x1="742.5" y1="152.54" x2="746.1" y2="152.54" stroke="#1a1a1a" stroke-width="1.44"/>
<text class="b" x="742.3" y="156.5" font-size="11" text-anchor="end">6</text>
<line x1="742.5" y1="127.92" x2="746.1" y2="127.92" stroke="#1a1a1a" stroke-width="1.44"/>
<text class="b" x="742.3" y="131.88" font-size="11" text-anchor="end">8</text>
<line x1="742.5" y1="103.3" x2="746.1" y2="103.3" stroke="#1a1a1a" stroke-width="1.44"/>
<text class="b" x="742.3" y="107.26" font-size="11" text-anchor="end">10</text>
<line x1="783.7" y1="226.4" x2="783.7" y2="230.8" stroke="#1a1a1a" stroke-width="1.44"/>
<line x1="857.9" y1="226.4" x2="857.9" y2="230.8" stroke="#1a1a1a" stroke-width="1.44"/>
<circle cx="783.7" cy="152.54" r="2.8" fill="#1a14d6"/>
<circle cx="783.7" cy="164.85" r="2.8" fill="#1a14d6"/>
<circle cx="776.1" cy="177.16" r="2.8" fill="#1a14d6"/>
<circle cx="783.7" cy="177.16" r="2.8" fill="#1a14d6"/>
<circle cx="791.3" cy="177.16" r="2.8" fill="#1a14d6"/>
<circle cx="772.3" cy="189.47" r="2.8" fill="#1a14d6"/>
<circle cx="779.9" cy="189.47" r="2.8" fill="#1a14d6"/>
<circle cx="787.5" cy="189.47" r="2.8" fill="#1a14d6"/>
<circle cx="795.1" cy="189.47" r="2.8" fill="#1a14d6"/>
<circle cx="783.7" cy="201.78" r="2.8" fill="#1a14d6"/>
<circle cx="779.9" cy="214.09" r="2.8" fill="#1a14d6"/>
<circle cx="787.5" cy="214.09" r="2.8" fill="#1a14d6"/>
<line x1="762.2" y1="186.39" x2="805.2" y2="186.39" stroke="#1a14d6" stroke-width="1.5"/>
<line x1="783.7" y1="181.1" x2="783.7" y2="191.69" stroke="#1a14d6" stroke-width="1.5"/>
<line x1="774.4" y1="181.1" x2="793" y2="181.1" stroke="#1a14d6" stroke-width="1.5"/>
<line x1="774.4" y1="191.69" x2="793" y2="191.69" stroke="#1a14d6" stroke-width="1.5"/>
<rect x="855.25" y="112.96" width="5.3" height="5.3" fill="#e6161f"/>
<rect x="851.45" y="125.27" width="5.3" height="5.3" fill="#e6161f"/>
<rect x="859.05" y="125.27" width="5.3" height="5.3" fill="#e6161f"/>
<rect x="855.25" y="137.58" width="5.3" height="5.3" fill="#e6161f"/>
<rect x="847.65" y="162.2" width="5.3" height="5.3" fill="#e6161f"/>
<rect x="855.25" y="162.2" width="5.3" height="5.3" fill="#e6161f"/>
<rect x="862.85" y="162.2" width="5.3" height="5.3" fill="#e6161f"/>
<rect x="847.65" y="174.51" width="5.3" height="5.3" fill="#e6161f"/>
<rect x="855.25" y="174.51" width="5.3" height="5.3" fill="#e6161f"/>
<rect x="862.85" y="174.51" width="5.3" height="5.3" fill="#e6161f"/>
<rect x="855.25" y="186.82" width="5.3" height="5.3" fill="#e6161f"/>
<rect x="855.25" y="199.13" width="5.3" height="5.3" fill="#e6161f"/>
<line x1="836.4" y1="160.79" x2="879.4" y2="160.79" stroke="#e6161f" stroke-width="1.4"/>
<line x1="857.9" y1="152.91" x2="857.9" y2="168.54" stroke="#e6161f" stroke-width="1.4"/>
<line x1="848.3" y1="152.91" x2="867.5" y2="152.91" stroke="#e6161f" stroke-width="1.4"/>
<line x1="848.3" y1="168.54" x2="867.5" y2="168.54" stroke="#e6161f" stroke-width="1.4"/>
<line x1="772.6" y1="104.2" x2="850" y2="104.2" stroke="#1a1a1a" stroke-width="1.5"/>
<text class="p" x="778" y="99.4" font-size="12.3" text-anchor="start"><tspan letter-spacing="0.3">*</tspan><tspan font-style="italic">p</tspan>=0.01</text>
<text class="b" x="783.7" y="242.1" font-size="12.2" text-anchor="middle">Control</text>
<text class="b" x="858" y="242.1" font-size="12.2" text-anchor="middle">Nicotine</text>
<text class="b" x="731.2" y="162" font-size="11.6" text-anchor="middle" transform="rotate(-90 731.2 162)">Enter mid area time</text>
<line x1="918.9" y1="102.58" x2="918.9" y2="227.2" stroke="#1a1a1a" stroke-width="1.6"/>
<line x1="915.3" y1="226.4" x2="1069" y2="226.4" stroke="#1a1a1a" stroke-width="1.6"/>
<text class="b" x="914.2" y="230.5" font-size="11.4" text-anchor="end">0</text>
<line x1="915.3" y1="195.62" x2="918.9" y2="195.62" stroke="#1a1a1a" stroke-width="1.44"/>
<text class="b" x="914.2" y="199.73" font-size="11.4" text-anchor="end">2</text>
<line x1="915.3" y1="164.85" x2="918.9" y2="164.85" stroke="#1a1a1a" stroke-width="1.44"/>
<text class="b" x="914.2" y="168.95" font-size="11.4" text-anchor="end">4</text>
<line x1="915.3" y1="134.07" x2="918.9" y2="134.07" stroke="#1a1a1a" stroke-width="1.44"/>
<text class="b" x="914.2" y="138.18" font-size="11.4" text-anchor="end">6</text>
<line x1="915.3" y1="103.3" x2="918.9" y2="103.3" stroke="#1a1a1a" stroke-width="1.44"/>
<text class="b" x="914.2" y="107.4" font-size="11.4" text-anchor="end">8</text>
<line x1="956.6" y1="226.4" x2="956.6" y2="230.8" stroke="#1a1a1a" stroke-width="1.44"/>
<line x1="1031.2" y1="226.4" x2="1031.2" y2="230.8" stroke="#1a1a1a" stroke-width="1.44"/>
<circle cx="953.02" cy="181.92" r="2.8" fill="#1a14d6"/>
<circle cx="960.02" cy="181.92" r="2.8" fill="#1a14d6"/>
<circle cx="940.83" cy="188.92" r="2.8" fill="#1a14d6"/>
<circle cx="949.13" cy="195.15" r="2.8" fill="#1a14d6"/>
<circle cx="956.91" cy="196.18" r="2.8" fill="#1a14d6"/>
<circle cx="964.43" cy="195.66" r="2.8" fill="#1a14d6"/>
<circle cx="971.95" cy="194.63" r="2.8" fill="#1a14d6"/>
<circle cx="949.13" cy="203.44" r="2.8" fill="#1a14d6"/>
<circle cx="964.43" cy="205.52" r="2.8" fill="#1a14d6"/>
<circle cx="949.13" cy="209.15" r="2.8" fill="#1a14d6"/>
<circle cx="956.91" cy="212.26" r="2.8" fill="#1a14d6"/>
<circle cx="960.02" cy="217.45" r="2.8" fill="#1a14d6"/>
<circle cx="953.02" cy="221.34" r="2.8" fill="#1a14d6"/>
<line x1="934.61" y1="200.07" x2="978.17" y2="200.07" stroke="#1a14d6" stroke-width="1.5"/>
<line x1="956.65" y1="196.18" x2="956.65" y2="203.96" stroke="#1a14d6" stroke-width="1.5"/>
<line x1="947.35" y1="196.18" x2="965.95" y2="196.18" stroke="#1a14d6" stroke-width="1.5"/>
<line x1="947.35" y1="203.96" x2="965.95" y2="203.96" stroke="#1a14d6" stroke-width="1.5"/>
<rect x="1024.8" y="134.92" width="5.3" height="5.3" fill="#e6161f"/>
<rect x="1032.06" y="134.92" width="5.3" height="5.3" fill="#e6161f"/>
<rect x="1028.69" y="156.71" width="5.3" height="5.3" fill="#e6161f"/>
<rect x="1028.69" y="167.86" width="5.3" height="5.3" fill="#e6161f"/>
<rect x="1024.8" y="181.86" width="5.3" height="5.3" fill="#e6161f"/>
<rect x="1032.06" y="184.2" width="5.3" height="5.3" fill="#e6161f"/>
<rect x="1010.02" y="191.98" width="5.3" height="5.3" fill="#e6161f"/>
<rect x="1017.54" y="195.61" width="5.3" height="5.3" fill="#e6161f"/>
<rect x="1024.8" y="196.64" width="5.3" height="5.3" fill="#e6161f"/>
<rect x="1032.06" y="195.61" width="5.3" height="5.3" fill="#e6161f"/>
<rect x="1039.32" y="194.57" width="5.3" height="5.3" fill="#e6161f"/>
<rect x="1046.84" y="191.72" width="5.3" height="5.3" fill="#e6161f"/>
<line x1="1009.29" y1="179.59" x2="1053.38" y2="179.59" stroke="#e6161f" stroke-width="1.4"/>
<line x1="1031.34" y1="172.84" x2="1031.34" y2="186.33" stroke="#e6161f" stroke-width="1.4"/>
<line x1="1021.34" y1="172.84" x2="1041.34" y2="172.84" stroke="#e6161f" stroke-width="1.4"/>
<line x1="1021.34" y1="186.33" x2="1041.34" y2="186.33" stroke="#e6161f" stroke-width="1.4"/>
<line x1="943.7" y1="108" x2="1027" y2="108" stroke="#1a1a1a" stroke-width="1.5"/>
<text class="p" x="954.3" y="102.9" font-size="12.3" text-anchor="start"><tspan letter-spacing="0.3">*</tspan><tspan font-style="italic">p</tspan>=0.03</text>
<text class="b" x="956.5" y="242.1" font-size="12.2" text-anchor="middle">Control</text>
<text class="b" x="1031.1" y="242.1" font-size="12.2" text-anchor="middle">Nicotine</text>
<text class="b" x="903" y="169" font-size="11.7" text-anchor="middle" transform="rotate(-90 903 169)">Mid stay time (s)</text>
<line x1="471.4" y1="304.5" x2="471.4" y2="447.4" stroke="#1a1a1a" stroke-width="2"/>
<line x1="467.8" y1="446.4" x2="690" y2="446.4" stroke="#1a1a1a" stroke-width="2"/>
<text class="b" x="464.8" y="450.5" font-size="11.4" text-anchor="end">0</text>
<line x1="467.8" y1="406" x2="471.4" y2="406" stroke="#1a1a1a" stroke-width="1.6"/>
<text class="b" x="464.8" y="410.1" font-size="11.4" text-anchor="end">20</text>
<line x1="467.8" y1="365.6" x2="471.4" y2="365.6" stroke="#1a1a1a" stroke-width="1.6"/>
<text class="b" x="464.8" y="369.7" font-size="11.4" text-anchor="end">40</text>
<line x1="467.8" y1="325.2" x2="471.4" y2="325.2" stroke="#1a1a1a" stroke-width="1.6"/>
<text class="b" x="464.8" y="329.3" font-size="11.4" text-anchor="end">60</text>
<line x1="493.3" y1="446.4" x2="493.3" y2="451" stroke="#1a1a1a" stroke-width="1.6"/>
<line x1="536.7" y1="446.4" x2="536.7" y2="451" stroke="#1a1a1a" stroke-width="1.6"/>
<line x1="580.2" y1="446.4" x2="580.2" y2="451" stroke="#1a1a1a" stroke-width="1.6"/>
<line x1="623.7" y1="446.4" x2="623.7" y2="451" stroke="#1a1a1a" stroke-width="1.6"/>
<line x1="667.2" y1="446.4" x2="667.2" y2="451" stroke="#1a1a1a" stroke-width="1.6"/>
<polyline points="493.3,370.25 536.7,395.5 580.2,422.16 623.7,431.25 667.2,433.27" fill="none" stroke="#e6161f" stroke-width="1.55"/>
<line x1="493.3" y1="356.51" x2="493.3" y2="382.77" stroke="#e6161f" stroke-width="1.5"/>
<line x1="490.5" y1="356.51" x2="496.1" y2="356.51" stroke="#e6161f" stroke-width="1.5"/>
<line x1="490.5" y1="382.77" x2="496.1" y2="382.77" stroke="#e6161f" stroke-width="1.5"/>
<rect x="490.8" y="367.75" width="5" height="5" fill="none" stroke="#e6161f" stroke-width="1.8"/>
<line x1="536.7" y1="378.73" x2="536.7" y2="412.06" stroke="#e6161f" stroke-width="1.5"/>
<line x1="533.9" y1="378.73" x2="539.5" y2="378.73" stroke="#e6161f" stroke-width="1.5"/>
<line x1="533.9" y1="412.06" x2="539.5" y2="412.06" stroke="#e6161f" stroke-width="1.5"/>
<rect x="534.2" y="393" width="5" height="5" fill="none" stroke="#e6161f" stroke-width="1.8"/>
<line x1="580.2" y1="414.08" x2="580.2" y2="430.24" stroke="#e6161f" stroke-width="1.5"/>
<line x1="577.4" y1="414.08" x2="583" y2="414.08" stroke="#e6161f" stroke-width="1.5"/>
<line x1="577.4" y1="430.24" x2="583" y2="430.24" stroke="#e6161f" stroke-width="1.5"/>
<rect x="577.7" y="419.66" width="5" height="5" fill="none" stroke="#e6161f" stroke-width="1.8"/>
<line x1="623.7" y1="425.19" x2="623.7" y2="437.31" stroke="#e6161f" stroke-width="1.5"/>
<line x1="620.9" y1="425.19" x2="626.5" y2="425.19" stroke="#e6161f" stroke-width="1.5"/>
<line x1="620.9" y1="437.31" x2="626.5" y2="437.31" stroke="#e6161f" stroke-width="1.5"/>
<rect x="621.2" y="428.75" width="5" height="5" fill="none" stroke="#e6161f" stroke-width="1.8"/>
<line x1="667.2" y1="429.23" x2="667.2" y2="437.31" stroke="#e6161f" stroke-width="1.5"/>
<line x1="664.4" y1="429.23" x2="670" y2="429.23" stroke="#e6161f" stroke-width="1.5"/>
<line x1="664.4" y1="437.31" x2="670" y2="437.31" stroke="#e6161f" stroke-width="1.5"/>
<rect x="664.7" y="430.77" width="5" height="5" fill="none" stroke="#e6161f" stroke-width="1.8"/>
<polyline points="493.3,348.43 536.7,366.21 580.2,404.38 623.7,418.73 667.2,424.18" fill="none" stroke="#1a14d6" stroke-width="1.55"/>
<line x1="493.3" y1="322.17" x2="493.3" y2="371.66" stroke="#1a14d6" stroke-width="1.5"/>
<line x1="490.5" y1="322.17" x2="496.1" y2="322.17" stroke="#1a14d6" stroke-width="1.5"/>
<line x1="490.5" y1="371.66" x2="496.1" y2="371.66" stroke="#1a14d6" stroke-width="1.5"/>
<circle cx="493.3" cy="348.43" r="3.2" fill="#1a14d6"/>
<line x1="536.7" y1="356.51" x2="536.7" y2="375.7" stroke="#1a14d6" stroke-width="1.5"/>
<line x1="533.9" y1="356.51" x2="539.5" y2="356.51" stroke="#1a14d6" stroke-width="1.5"/>
<line x1="533.9" y1="375.7" x2="539.5" y2="375.7" stroke="#1a14d6" stroke-width="1.5"/>
<circle cx="536.7" cy="366.21" r="3.2" fill="#1a14d6"/>
<line x1="580.2" y1="393.88" x2="580.2" y2="414.08" stroke="#1a14d6" stroke-width="1.5"/>
<line x1="577.4" y1="393.88" x2="583" y2="393.88" stroke="#1a14d6" stroke-width="1.5"/>
<line x1="577.4" y1="414.08" x2="583" y2="414.08" stroke="#1a14d6" stroke-width="1.5"/>
<circle cx="580.2" cy="404.38" r="3.2" fill="#1a14d6"/>
<line x1="623.7" y1="410.04" x2="623.7" y2="426.2" stroke="#1a14d6" stroke-width="1.5"/>
<line x1="620.9" y1="410.04" x2="626.5" y2="410.04" stroke="#1a14d6" stroke-width="1.5"/>
<line x1="620.9" y1="426.2" x2="626.5" y2="426.2" stroke="#1a14d6" stroke-width="1.5"/>
<circle cx="623.7" cy="418.73" r="3.2" fill="#1a14d6"/>
<line x1="667.2" y1="415.09" x2="667.2" y2="432.26" stroke="#1a14d6" stroke-width="1.5"/>
<line x1="664.4" y1="415.09" x2="670" y2="415.09" stroke="#1a14d6" stroke-width="1.5"/>
<line x1="664.4" y1="432.26" x2="670" y2="432.26" stroke="#1a14d6" stroke-width="1.5"/>
<circle cx="667.2" cy="424.18" r="3.2" fill="#1a14d6"/>
<text class="b" x="493.3" y="462.3" font-size="11.6" text-anchor="middle">1</text>
<text class="b" x="536.7" y="462.3" font-size="11.6" text-anchor="middle">2</text>
<text class="b" x="580.2" y="462.3" font-size="11.6" text-anchor="middle">3</text>
<text class="b" x="623.7" y="462.3" font-size="11.6" text-anchor="middle">4</text>
<text class="b" x="667.2" y="462.3" font-size="11.6" text-anchor="middle">5</text>
<text class="b" x="567.1" y="474.8" font-size="12.5" text-anchor="middle">Training duration (Day)</text>
<text class="b" x="445.2" y="373.5" font-size="12" text-anchor="middle" transform="rotate(-90 445.2 373.5)">Escape latency (s)</text>
<line x1="422.3" y1="447" x2="424.6" y2="447" stroke="#555" stroke-width="1"/>
<path d="M748.1,442.9V369.64H767.1V442.9" fill="#fff" stroke="#1a14d6" stroke-width="1.7"/>
<path d="M770.8,442.9V385.36H789.2V442.9" fill="#fff" stroke="#e6161f" stroke-width="1.7"/>
<path d="M806.4,442.9V383.38H825.4V442.9" fill="#fff" stroke="#1a14d6" stroke-width="1.7"/>
<path d="M829.1,442.9V405.05H847.5V442.9" fill="#fff" stroke="#e6161f" stroke-width="1.7"/>
<path d="M865,442.9V411.61H884V442.9" fill="#fff" stroke="#1a14d6" stroke-width="1.7"/>
<path d="M887.7,442.9V424.89H906.1V442.9" fill="#fff" stroke="#e6161f" stroke-width="1.7"/>
<path d="M923.4,442.9V422.6H942.4V442.9" fill="#fff" stroke="#1a14d6" stroke-width="1.7"/>
<path d="M946.1,442.9V432.22H964.5V442.9" fill="#fff" stroke="#e6161f" stroke-width="1.7"/>
<path d="M981.7,442.9V426.57H1000.7V442.9" fill="#fff" stroke="#1a14d6" stroke-width="1.7"/>
<path d="M1004.4,442.9V432.22H1022.8V442.9" fill="#fff" stroke="#e6161f" stroke-width="1.7"/>
<line x1="738" y1="320.04" x2="738" y2="443.75" stroke="#1a1a1a" stroke-width="1.7"/>
<line x1="734.4" y1="442.9" x2="1034" y2="442.9" stroke="#1a1a1a" stroke-width="1.7"/>
<text class="b" x="730.8" y="447" font-size="11.4" text-anchor="end">0</text>
<line x1="734.4" y1="412.38" x2="738" y2="412.38" stroke="#1a1a1a" stroke-width="1.53"/>
<text class="b" x="730.8" y="416.48" font-size="11.4" text-anchor="end">20</text>
<line x1="734.4" y1="381.85" x2="738" y2="381.85" stroke="#1a1a1a" stroke-width="1.53"/>
<text class="b" x="730.8" y="385.95" font-size="11.4" text-anchor="end">40</text>
<line x1="734.4" y1="351.32" x2="738" y2="351.32" stroke="#1a1a1a" stroke-width="1.53"/>
<text class="b" x="730.8" y="355.43" font-size="11.4" text-anchor="end">60</text>
<line x1="734.4" y1="320.8" x2="738" y2="320.8" stroke="#1a1a1a" stroke-width="1.53"/>
<text class="b" x="730.8" y="324.9" font-size="11.4" text-anchor="end">80</text>
<line x1="768" y1="442.9" x2="768" y2="447.35" stroke="#1a1a1a" stroke-width="1.53"/>
<line x1="826.3" y1="442.9" x2="826.3" y2="447.35" stroke="#1a1a1a" stroke-width="1.53"/>
<line x1="884.9" y1="442.9" x2="884.9" y2="447.35" stroke="#1a1a1a" stroke-width="1.53"/>
<line x1="943.3" y1="442.9" x2="943.3" y2="447.35" stroke="#1a1a1a" stroke-width="1.53"/>
<line x1="1001.6" y1="442.9" x2="1001.6" y2="447.35" stroke="#1a1a1a" stroke-width="1.53"/>
<line x1="757.6" y1="360.48" x2="757.6" y2="377.27" stroke="#1a14d6" stroke-width="1.4"/>
<line x1="752.9" y1="360.48" x2="762.3" y2="360.48" stroke="#1a14d6" stroke-width="1.4"/>
<line x1="752.9" y1="377.27" x2="762.3" y2="377.27" stroke="#1a14d6" stroke-width="1.4"/>
<line x1="780" y1="381.09" x2="780" y2="389.48" stroke="#e6161f" stroke-width="1.4"/>
<line x1="774.8" y1="381.09" x2="785.2" y2="381.09" stroke="#e6161f" stroke-width="1.4"/>
<line x1="774.8" y1="389.48" x2="785.2" y2="389.48" stroke="#e6161f" stroke-width="1.4"/>
<circle cx="749.3" cy="351.32" r="2" fill="none" stroke="#1a14d6" stroke-width="1.45"/>
<circle cx="757.6" cy="351.32" r="2" fill="none" stroke="#1a14d6" stroke-width="1.45"/>
<circle cx="765.8" cy="351.32" r="2" fill="none" stroke="#1a14d6" stroke-width="1.45"/>
<circle cx="757.6" cy="377.27" r="2" fill="none" stroke="#1a14d6" stroke-width="1.45"/>
<circle cx="757.6" cy="388.72" r="2" fill="none" stroke="#1a14d6" stroke-width="1.45"/>
<circle cx="757.6" cy="393.6" r="2" fill="none" stroke="#1a14d6" stroke-width="1.45"/>
<rect x="774.05" y="373.03" width="3.9" height="3.9" fill="none" stroke="#e6161f" stroke-width="1.45"/>
<rect x="782.05" y="371.51" width="3.9" height="3.9" fill="none" stroke="#e6161f" stroke-width="1.45"/>
<rect x="774.05" y="382.19" width="3.9" height="3.9" fill="none" stroke="#e6161f" stroke-width="1.45"/>
<rect x="782.05" y="381.73" width="3.9" height="3.9" fill="none" stroke="#e6161f" stroke-width="1.45"/>
<rect x="774.05" y="394.86" width="3.9" height="3.9" fill="none" stroke="#e6161f" stroke-width="1.45"/>
<rect x="782.05" y="394.55" width="3.9" height="3.9" fill="none" stroke="#e6161f" stroke-width="1.45"/>
<text class="b" x="768" y="461" font-size="11.6" text-anchor="middle">1</text>
<line x1="815.9" y1="380.32" x2="815.9" y2="386.43" stroke="#1a14d6" stroke-width="1.4"/>
<line x1="811.2" y1="380.32" x2="820.6" y2="380.32" stroke="#1a14d6" stroke-width="1.4"/>
<line x1="811.2" y1="386.43" x2="820.6" y2="386.43" stroke="#1a14d6" stroke-width="1.4"/>
<line x1="838.3" y1="399.4" x2="838.3" y2="410.85" stroke="#e6161f" stroke-width="1.4"/>
<line x1="833.1" y1="399.4" x2="843.5" y2="399.4" stroke="#e6161f" stroke-width="1.4"/>
<line x1="833.1" y1="410.85" x2="843.5" y2="410.85" stroke="#e6161f" stroke-width="1.4"/>
<text class="b" x="826.3" y="461" font-size="11.6" text-anchor="middle">2</text>
<line x1="874.5" y1="408.25" x2="874.5" y2="414.97" stroke="#1a14d6" stroke-width="1.4"/>
<line x1="869.8" y1="408.25" x2="879.2" y2="408.25" stroke="#1a14d6" stroke-width="1.4"/>
<line x1="869.8" y1="414.97" x2="879.2" y2="414.97" stroke="#1a14d6" stroke-width="1.4"/>
<line x1="896.9" y1="421.84" x2="896.9" y2="427.64" stroke="#e6161f" stroke-width="1.4"/>
<line x1="891.7" y1="421.84" x2="902.1" y2="421.84" stroke="#e6161f" stroke-width="1.4"/>
<line x1="891.7" y1="427.64" x2="902.1" y2="427.64" stroke="#e6161f" stroke-width="1.4"/>
<text class="b" x="884.9" y="461" font-size="11.6" text-anchor="middle">3</text>
<line x1="932.9" y1="419.55" x2="932.9" y2="425.65" stroke="#1a14d6" stroke-width="1.4"/>
<line x1="928.2" y1="419.55" x2="937.6" y2="419.55" stroke="#1a14d6" stroke-width="1.4"/>
<line x1="928.2" y1="425.65" x2="937.6" y2="425.65" stroke="#1a14d6" stroke-width="1.4"/>
<line x1="955.3" y1="429.62" x2="955.3" y2="434.81" stroke="#e6161f" stroke-width="1.4"/>
<line x1="950.1" y1="429.62" x2="960.5" y2="429.62" stroke="#e6161f" stroke-width="1.4"/>
<line x1="950.1" y1="434.81" x2="960.5" y2="434.81" stroke="#e6161f" stroke-width="1.4"/>
<text class="b" x="943.3" y="461" font-size="11.6" text-anchor="middle">4</text>
<line x1="991.2" y1="423.82" x2="991.2" y2="429.16" stroke="#1a14d6" stroke-width="1.4"/>
<line x1="986.5" y1="423.82" x2="995.9" y2="423.82" stroke="#1a14d6" stroke-width="1.4"/>
<line x1="986.5" y1="429.16" x2="995.9" y2="429.16" stroke="#1a14d6" stroke-width="1.4"/>
<line x1="1013.6" y1="430.38" x2="1013.6" y2="434.05" stroke="#e6161f" stroke-width="1.4"/>
<line x1="1008.4" y1="430.38" x2="1018.8" y2="430.38" stroke="#e6161f" stroke-width="1.4"/>
<line x1="1008.4" y1="434.05" x2="1018.8" y2="434.05" stroke="#e6161f" stroke-width="1.4"/>
<text class="b" x="1001.6" y="461" font-size="11.6" text-anchor="middle">5</text>
<circle cx="807.76" cy="378.36" r="2" fill="none" stroke="#1a14d6" stroke-width="1.45"/>
<circle cx="815.68" cy="375.67" r="2" fill="none" stroke="#1a14d6" stroke-width="1.45"/>
<circle cx="824.08" cy="378.05" r="2" fill="none" stroke="#1a14d6" stroke-width="1.45"/>
<circle cx="810.61" cy="382.8" r="2" fill="none" stroke="#1a14d6" stroke-width="1.45"/>
<circle cx="821.39" cy="382.49" r="2" fill="none" stroke="#1a14d6" stroke-width="1.45"/>
<circle cx="815.68" cy="395.49" r="2" fill="none" stroke="#1a14d6" stroke-width="1.45"/>
<rect x="836.4" y="386.4" width="3.9" height="3.9" fill="none" stroke="#e6161f" stroke-width="1.45"/>
<rect x="836.4" y="393.06" width="3.9" height="3.9" fill="none" stroke="#e6161f" stroke-width="1.45"/>
<rect x="832.44" y="401.46" width="3.9" height="3.9" fill="none" stroke="#e6161f" stroke-width="1.45"/>
<rect x="840.36" y="399.08" width="3.9" height="3.9" fill="none" stroke="#e6161f" stroke-width="1.45"/>
<rect x="832.44" y="418.9" width="3.9" height="3.9" fill="none" stroke="#e6161f" stroke-width="1.45"/>
<rect x="840.36" y="415.73" width="3.9" height="3.9" fill="none" stroke="#e6161f" stroke-width="1.45"/>
<circle cx="874.28" cy="400.79" r="2" fill="none" stroke="#1a14d6" stroke-width="1.45"/>
<circle cx="866.19" cy="410.11" r="2" fill="none" stroke="#1a14d6" stroke-width="1.45"/>
<circle cx="871.99" cy="410.46" r="2" fill="none" stroke="#1a14d6" stroke-width="1.45"/>
<circle cx="877.27" cy="410.46" r="2" fill="none" stroke="#1a14d6" stroke-width="1.45"/>
<circle cx="882.55" cy="410.11" r="2" fill="none" stroke="#1a14d6" stroke-width="1.45"/>
<circle cx="874.28" cy="424.89" r="2" fill="none" stroke="#1a14d6" stroke-width="1.45"/>
<circle cx="930.05" cy="416.09" r="2" fill="none" stroke="#1a14d6" stroke-width="1.45"/>
<circle cx="935.33" cy="412.58" r="2" fill="none" stroke="#1a14d6" stroke-width="1.45"/>
<circle cx="924.77" cy="427.18" r="2" fill="none" stroke="#1a14d6" stroke-width="1.45"/>
<circle cx="930.05" cy="424.89" r="2" fill="none" stroke="#1a14d6" stroke-width="1.45"/>
<circle cx="935.33" cy="426.65" r="2" fill="none" stroke="#1a14d6" stroke-width="1.45"/>
<circle cx="940.61" cy="424.89" r="2" fill="none" stroke="#1a14d6" stroke-width="1.45"/>
<circle cx="990.75" cy="413.63" r="2" fill="none" stroke="#1a14d6" stroke-width="1.45"/>
<circle cx="982.83" cy="430.7" r="2" fill="none" stroke="#1a14d6" stroke-width="1.45"/>
<circle cx="988.11" cy="426.65" r="2" fill="none" stroke="#1a14d6" stroke-width="1.45"/>
<circle cx="993.38" cy="428.94" r="2" fill="none" stroke="#1a14d6" stroke-width="1.45"/>
<circle cx="998.66" cy="428.06" r="2" fill="none" stroke="#1a14d6" stroke-width="1.45"/>
<rect x="886.4" y="415.9" width="3.9" height="3.9" fill="none" stroke="#e6161f" stroke-width="1.45"/>
<rect x="894.14" y="417.66" width="3.9" height="3.9" fill="none" stroke="#e6161f" stroke-width="1.45"/>
<rect x="902.59" y="419.42" width="3.9" height="3.9" fill="none" stroke="#e6161f" stroke-width="1.45"/>
<rect x="889.92" y="430.51" width="3.9" height="3.9" fill="none" stroke="#e6161f" stroke-width="1.45"/>
<rect x="898.72" y="429.63" width="3.9" height="3.9" fill="none" stroke="#e6161f" stroke-width="1.45"/>
<rect x="950.09" y="425.23" width="3.9" height="3.9" fill="none" stroke="#e6161f" stroke-width="1.45"/>
<rect x="955.72" y="422.24" width="3.9" height="3.9" fill="none" stroke="#e6161f" stroke-width="1.45"/>
<rect x="945.69" y="433.15" width="3.9" height="3.9" fill="none" stroke="#e6161f" stroke-width="1.45"/>
<rect x="950.09" y="434.02" width="3.9" height="3.9" fill="none" stroke="#e6161f" stroke-width="1.45"/>
<rect x="955.37" y="433.5" width="3.9" height="3.9" fill="none" stroke="#e6161f" stroke-width="1.45"/>
<rect x="960.12" y="433.15" width="3.9" height="3.9" fill="none" stroke="#e6161f" stroke-width="1.45"/>
<rect x="1002.87" y="428.75" width="3.9" height="3.9" fill="none" stroke="#e6161f" stroke-width="1.45"/>
<rect x="1010.79" y="426.11" width="3.9" height="3.9" fill="none" stroke="#e6161f" stroke-width="1.45"/>
<rect x="1018.7" y="429.63" width="3.9" height="3.9" fill="none" stroke="#e6161f" stroke-width="1.45"/>
<rect x="1002.87" y="435.78" width="3.9" height="3.9" fill="none" stroke="#e6161f" stroke-width="1.45"/>
<rect x="1010.79" y="430.86" width="3.9" height="3.9" fill="none" stroke="#e6161f" stroke-width="1.45"/>
<rect x="1017.82" y="434.9" width="3.9" height="3.9" fill="none" stroke="#e6161f" stroke-width="1.45"/>
<text class="b" x="885.8" y="474.8" font-size="12.6" text-anchor="middle">Training duration(Day)</text>
<text class="b" x="709.6" y="381.5" font-size="12" text-anchor="middle" transform="rotate(-90 709.6 381.5)">Escape latency (s)</text>
<text class="p" x="749.8" y="338.2" font-size="12.6" text-anchor="start"><tspan letter-spacing="0.3">**</tspan><tspan font-style="italic">p</tspan>=0.0048</text>
<line x1="753.8" y1="344.1" x2="781.2" y2="344.1" stroke="#1a1a1a" stroke-width="1.6"/>
<text class="p" x="807.3" y="364.6" font-size="12.6" text-anchor="start"><tspan letter-spacing="0.3">***</tspan><tspan font-style="italic">p</tspan>=0.0002</text>
<line x1="815.4" y1="369.6" x2="843.2" y2="369.6" stroke="#1a1a1a" stroke-width="1.6"/>
<text class="p" x="865.4" y="389.6" font-size="12.6" text-anchor="start"><tspan letter-spacing="0.3">*</tspan><tspan font-style="italic">p</tspan>=0.018</text>
<line x1="873" y1="393.2" x2="900.6" y2="393.2" stroke="#1a1a1a" stroke-width="1.6"/>
<text class="p" x="923.4" y="402.6" font-size="12.6" text-anchor="start"><tspan font-style="italic">p</tspan>=0.08</text>
<line x1="933" y1="407.2" x2="959.7" y2="407.2" stroke="#1a1a1a" stroke-width="1.6"/>
<text class="p" x="987.5" y="401.9" font-size="12.6" text-anchor="start"><tspan font-style="italic">p</tspan>=0.2</text>
<line x1="991.3" y1="406.9" x2="1021" y2="406.9" stroke="#1a1a1a" stroke-width="1.6"/>
<path d="M485.5,650V587.3H520.2V650" fill="#fff" stroke="#1a14d6" stroke-width="1.8"/>
<path d="M540.6,650V617.4H575.9V650" fill="#fff" stroke="#e6161f" stroke-width="1.8"/>
<line x1="475.2" y1="526.88" x2="475.2" y2="650.8" stroke="#1a1a1a" stroke-width="1.6"/>
<line x1="471.6" y1="650" x2="586" y2="650" stroke="#1a1a1a" stroke-width="1.6"/>
<text class="b" x="469.8" y="654.1" font-size="11.4" text-anchor="end">0</text>
<line x1="471.6" y1="609.2" x2="475.2" y2="609.2" stroke="#1a1a1a" stroke-width="1.44"/>
<text class="b" x="469.8" y="613.3" font-size="11.4" text-anchor="end">10</text>
<line x1="471.6" y1="568.4" x2="475.2" y2="568.4" stroke="#1a1a1a" stroke-width="1.44"/>
<text class="b" x="469.8" y="572.5" font-size="11.4" text-anchor="end">20</text>
<line x1="471.6" y1="527.6" x2="475.2" y2="527.6" stroke="#1a1a1a" stroke-width="1.44"/>
<text class="b" x="469.8" y="531.7" font-size="11.4" text-anchor="end">30</text>
<line x1="503" y1="650" x2="503" y2="654.4" stroke="#1a1a1a" stroke-width="1.44"/>
<line x1="558" y1="650" x2="558" y2="654.4" stroke="#1a1a1a" stroke-width="1.44"/>
<line x1="503" y1="574.06" x2="503" y2="598.95" stroke="#111" stroke-width="1.7"/>
<line x1="494" y1="574.06" x2="512" y2="574.06" stroke="#111" stroke-width="1.7"/>
<line x1="494" y1="598.95" x2="512" y2="598.95" stroke="#111" stroke-width="1.7"/>
<line x1="558" y1="613.22" x2="558" y2="621" stroke="#111" stroke-width="1.9"/>
<line x1="549" y1="613.22" x2="567" y2="613.22" stroke="#111" stroke-width="1.9"/>
<line x1="549" y1="621" x2="567" y2="621" stroke="#111" stroke-width="1.9"/>
<circle cx="502.99" cy="547.6" r="2.4" fill="none" stroke="#1a14d6" stroke-width="1.6"/>
<circle cx="502.99" cy="553.57" r="2.4" fill="none" stroke="#1a14d6" stroke-width="1.6"/>
<circle cx="497.8" cy="594.8" r="2.4" fill="none" stroke="#1a14d6" stroke-width="1.6"/>
<circle cx="508.17" cy="591.69" r="2.4" fill="none" stroke="#1a14d6" stroke-width="1.6"/>
<circle cx="497.8" cy="616.33" r="2.4" fill="none" stroke="#1a14d6" stroke-width="1.6"/>
<circle cx="508.17" cy="614.51" r="2.4" fill="none" stroke="#1a14d6" stroke-width="1.6"/>
<rect x="555.72" y="599.04" width="4.5" height="4.5" fill="none" stroke="#e6161f" stroke-width="1.6"/>
<rect x="539.64" y="613.3" width="4.5" height="4.5" fill="none" stroke="#e6161f" stroke-width="1.6"/>
<rect x="550.01" y="615.37" width="4.5" height="4.5" fill="none" stroke="#e6161f" stroke-width="1.6"/>
<rect x="560.38" y="614.6" width="4.5" height="4.5" fill="none" stroke="#e6161f" stroke-width="1.6"/>
<rect x="571.28" y="617.45" width="4.5" height="4.5" fill="none" stroke="#e6161f" stroke-width="1.6"/>
<rect x="555.72" y="628.34" width="4.5" height="4.5" fill="none" stroke="#e6161f" stroke-width="1.6"/>
<line x1="502.5" y1="539.8" x2="557" y2="539.8" stroke="#1a1a1a" stroke-width="1.5"/>
<text class="p" x="509.5" y="534.2" font-size="11.7" text-anchor="start"><tspan letter-spacing="0.3">*</tspan><tspan font-style="italic">p</tspan>=0.04</text>
<text class="b" x="503" y="665.8" font-size="11.9" text-anchor="middle">Control</text>
<text class="b" x="558" y="665.8" font-size="11.9" text-anchor="middle">Nicotine</text>
<text class="b" x="449.8" y="587.5" font-size="11.9" text-anchor="middle" transform="rotate(-90 449.8 587.5)">Escape latency (s)</text>
<path d="M669,651.3V585.9H704.4V651.3" fill="#fff" stroke="#1a14d6" stroke-width="1.8"/>
<path d="M724,651.3V619.6H759.2V651.3" fill="#fff" stroke="#e6161f" stroke-width="1.8"/>
<line x1="658.8" y1="524.88" x2="658.8" y2="652.1" stroke="#1a1a1a" stroke-width="1.6"/>
<line x1="655.2" y1="651.3" x2="769.5" y2="651.3" stroke="#1a1a1a" stroke-width="1.6"/>
<text class="b" x="653.4" y="655.4" font-size="11.4" text-anchor="end">0</text>
<line x1="655.2" y1="609.4" x2="658.8" y2="609.4" stroke="#1a1a1a" stroke-width="1.44"/>
<text class="b" x="653.4" y="613.5" font-size="11.4" text-anchor="end">10</text>
<line x1="655.2" y1="567.5" x2="658.8" y2="567.5" stroke="#1a1a1a" stroke-width="1.44"/>
<text class="b" x="653.4" y="571.6" font-size="11.4" text-anchor="end">20</text>
<line x1="655.2" y1="525.6" x2="658.8" y2="525.6" stroke="#1a1a1a" stroke-width="1.44"/>
<text class="b" x="653.4" y="529.7" font-size="11.4" text-anchor="end">30</text>
<line x1="686.8" y1="651.3" x2="686.8" y2="655.7" stroke="#1a1a1a" stroke-width="1.44"/>
<line x1="741.5" y1="651.3" x2="741.5" y2="655.7" stroke="#1a1a1a" stroke-width="1.44"/>
<line x1="686.8" y1="574.06" x2="686.8" y2="595.58" stroke="#111" stroke-width="1.7"/>
<line x1="677.8" y1="574.06" x2="695.8" y2="574.06" stroke="#111" stroke-width="1.7"/>
<line x1="677.8" y1="595.58" x2="695.8" y2="595.58" stroke="#111" stroke-width="1.7"/>
<line x1="741.5" y1="613.73" x2="741.5" y2="623.33" stroke="#111" stroke-width="1.9"/>
<line x1="732.5" y1="613.73" x2="750.5" y2="613.73" stroke="#111" stroke-width="1.9"/>
<line x1="732.5" y1="623.33" x2="750.5" y2="623.33" stroke="#111" stroke-width="1.9"/>
<circle cx="682.1" cy="550.72" r="2.4" fill="none" stroke="#1a14d6" stroke-width="1.6"/>
<circle cx="691.69" cy="550.72" r="2.4" fill="none" stroke="#1a14d6" stroke-width="1.6"/>
<circle cx="696.88" cy="596.88" r="2.4" fill="none" stroke="#1a14d6" stroke-width="1.6"/>
<circle cx="687.02" cy="600.77" r="2.4" fill="none" stroke="#1a14d6" stroke-width="1.6"/>
<circle cx="676.91" cy="605.44" r="2.4" fill="none" stroke="#1a14d6" stroke-width="1.6"/>
<circle cx="696.88" cy="605.44" r="2.4" fill="none" stroke="#1a14d6" stroke-width="1.6"/>
<rect x="729.64" y="607.08" width="4.5" height="4.5" fill="none" stroke="#e6161f" stroke-width="1.6"/>
<rect x="749.09" y="607.08" width="4.5" height="4.5" fill="none" stroke="#e6161f" stroke-width="1.6"/>
<rect x="739.23" y="611.48" width="4.5" height="4.5" fill="none" stroke="#e6161f" stroke-width="1.6"/>
<rect x="749.09" y="614.6" width="4.5" height="4.5" fill="none" stroke="#e6161f" stroke-width="1.6"/>
<rect x="739.23" y="619.26" width="4.5" height="4.5" fill="none" stroke="#e6161f" stroke-width="1.6"/>
<rect x="739.23" y="636.12" width="4.5" height="4.5" fill="none" stroke="#e6161f" stroke-width="1.6"/>
<line x1="688.6" y1="539.8" x2="751.3" y2="539.8" stroke="#1a1a1a" stroke-width="1.5"/>
<text class="p" x="699" y="534.2" font-size="12" text-anchor="start"><tspan letter-spacing="0.3">*</tspan><tspan font-style="italic">p</tspan>=0.02</text>
<text class="b" x="687" y="667.4" font-size="12.1" text-anchor="middle">Control</text>
<text class="b" x="741.7" y="667.4" font-size="12.1" text-anchor="middle">Nicotine</text>
<text class="b" x="634.2" y="589.5" font-size="12.2" text-anchor="middle" transform="rotate(-90 634.2 589.5)">Total number of errors</text>
<line x1="912.8" y1="550.5" x2="912.8" y2="654" stroke="#222" stroke-width="1.6" stroke-dasharray="1.6 4.0"/>
<line x1="961.8" y1="550.5" x2="961.8" y2="654" stroke="#222" stroke-width="1.6" stroke-dasharray="1.6 4.0"/>
<line x1="1016.7" y1="550.5" x2="1016.7" y2="654" stroke="#222" stroke-width="1.6" stroke-dasharray="1.6 4.0"/>
<path d="M873.41,654.7V624.9H884.84V654.7" fill="#fff" stroke="#1a14d6" stroke-width="1.7"/>
<path d="M893.29,654.7V597.33H904.71V654.7" fill="#fff" stroke="#e6161f" stroke-width="1.7"/>
<path d="M925.09,654.7V614.56H936.52V654.7" fill="#fff" stroke="#1a14d6" stroke-width="1.7"/>
<path d="M944.97,654.7V608.47H956.93V654.7" fill="#fff" stroke="#e6161f" stroke-width="1.7"/>
<path d="M976.77,654.7V588.59H988.73V654.7" fill="#fff" stroke="#1a14d6" stroke-width="1.7"/>
<path d="M996.65,654.7V616.42H1008.61V654.7" fill="#fff" stroke="#e6161f" stroke-width="1.7"/>
<path d="M1029.25,654.7V615.09H1040.68V654.7" fill="#fff" stroke="#1a14d6" stroke-width="1.7"/>
<path d="M1048.87,654.7V616.42H1060.56V654.7" fill="#fff" stroke="#e6161f" stroke-width="1.7"/>
<line x1="862.4" y1="528.38" x2="862.4" y2="655.5" stroke="#1a1a1a" stroke-width="1.6"/>
<line x1="858.8" y1="654.7" x2="1071" y2="654.7" stroke="#1a1a1a" stroke-width="1.6"/>
<text class="b" x="857" y="658.8" font-size="11.4" text-anchor="end">0</text>
<line x1="858.8" y1="629.58" x2="862.4" y2="629.58" stroke="#1a1a1a" stroke-width="1.44"/>
<text class="b" x="857" y="633.68" font-size="11.4" text-anchor="end">5</text>
<line x1="858.8" y1="604.46" x2="862.4" y2="604.46" stroke="#1a1a1a" stroke-width="1.44"/>
<text class="b" x="857" y="608.56" font-size="11.4" text-anchor="end">10</text>
<line x1="858.8" y1="579.34" x2="862.4" y2="579.34" stroke="#1a1a1a" stroke-width="1.44"/>
<text class="b" x="857" y="583.44" font-size="11.4" text-anchor="end">15</text>
<line x1="858.8" y1="554.22" x2="862.4" y2="554.22" stroke="#1a1a1a" stroke-width="1.44"/>
<text class="b" x="857" y="558.32" font-size="11.4" text-anchor="end">20</text>
<line x1="858.8" y1="529.1" x2="862.4" y2="529.1" stroke="#1a1a1a" stroke-width="1.44"/>
<text class="b" x="857" y="533.2" font-size="11.4" text-anchor="end">25</text>
<line x1="878.97" y1="620.79" x2="878.97" y2="627.94" stroke="#111" stroke-width="1.6"/>
<line x1="876.17" y1="620.79" x2="881.77" y2="620.79" stroke="#111" stroke-width="1.6"/>
<line x1="876.17" y1="627.94" x2="881.77" y2="627.94" stroke="#111" stroke-width="1.6"/>
<line x1="898.85" y1="592.69" x2="898.85" y2="604.88" stroke="#111" stroke-width="1.6"/>
<line x1="896.05" y1="592.69" x2="901.65" y2="592.69" stroke="#111" stroke-width="1.6"/>
<line x1="896.05" y1="604.88" x2="901.65" y2="604.88" stroke="#111" stroke-width="1.6"/>
<line x1="930.65" y1="601.44" x2="930.65" y2="624.5" stroke="#111" stroke-width="1.6"/>
<line x1="927.85" y1="601.44" x2="933.45" y2="601.44" stroke="#111" stroke-width="1.6"/>
<line x1="927.85" y1="624.5" x2="933.45" y2="624.5" stroke="#111" stroke-width="1.6"/>
<line x1="950.8" y1="604.62" x2="950.8" y2="618.67" stroke="#111" stroke-width="1.6"/>
<line x1="948" y1="604.62" x2="953.6" y2="604.62" stroke="#111" stroke-width="1.6"/>
<line x1="948" y1="618.67" x2="953.6" y2="618.67" stroke="#111" stroke-width="1.6"/>
<line x1="982.6" y1="573.08" x2="982.6" y2="601.44" stroke="#111" stroke-width="1.6"/>
<line x1="979.8" y1="573.08" x2="985.4" y2="573.08" stroke="#111" stroke-width="1.6"/>
<line x1="979.8" y1="601.44" x2="985.4" y2="601.44" stroke="#111" stroke-width="1.6"/>
<line x1="1002.48" y1="605.41" x2="1002.48" y2="625.29" stroke="#111" stroke-width="1.6"/>
<line x1="999.68" y1="605.41" x2="1005.28" y2="605.41" stroke="#111" stroke-width="1.6"/>
<line x1="999.68" y1="625.29" x2="1005.28" y2="625.29" stroke="#111" stroke-width="1.6"/>
<line x1="1034.82" y1="596.93" x2="1034.82" y2="633.24" stroke="#111" stroke-width="1.6"/>
<line x1="1032.02" y1="596.93" x2="1037.62" y2="596.93" stroke="#111" stroke-width="1.6"/>
<line x1="1032.02" y1="633.24" x2="1037.62" y2="633.24" stroke="#111" stroke-width="1.6"/>
<line x1="1054.56" y1="609.39" x2="1054.56" y2="621.85" stroke="#111" stroke-width="1.6"/>
<line x1="1051.76" y1="609.39" x2="1057.36" y2="609.39" stroke="#111" stroke-width="1.6"/>
<line x1="1051.76" y1="621.85" x2="1057.36" y2="621.85" stroke="#111" stroke-width="1.6"/>
<circle cx="878.84" cy="607.54" r="2.4" fill="none" stroke="#1a14d6" stroke-width="1.6"/>
<circle cx="874.86" cy="624.5" r="2.4" fill="none" stroke="#1a14d6" stroke-width="1.6"/>
<circle cx="882.81" cy="626.62" r="2.4" fill="none" stroke="#1a14d6" stroke-width="1.6"/>
<circle cx="875.66" cy="630.59" r="2.4" fill="none" stroke="#1a14d6" stroke-width="1.6"/>
<circle cx="878.84" cy="627.41" r="2.4" fill="none" stroke="#1a14d6" stroke-width="1.6"/>
<circle cx="881.49" cy="630.59" r="2.4" fill="none" stroke="#1a14d6" stroke-width="1.6"/>
<circle cx="930.79" cy="578.12" r="2.4" fill="none" stroke="#1a14d6" stroke-width="1.6"/>
<circle cx="926.81" cy="596.67" r="2.4" fill="none" stroke="#1a14d6" stroke-width="1.6"/>
<circle cx="935.29" cy="599.58" r="2.4" fill="none" stroke="#1a14d6" stroke-width="1.6"/>
<circle cx="930.79" cy="608.6" r="2.4" fill="none" stroke="#1a14d6" stroke-width="1.6"/>
<circle cx="930.79" cy="641.73" r="2.4" fill="none" stroke="#1a14d6" stroke-width="1.6"/>
<circle cx="930.79" cy="654.71" r="2.4" fill="none" stroke="#1a14d6" stroke-width="1.6"/>
<circle cx="979.02" cy="556.38" r="2.4" fill="none" stroke="#1a14d6" stroke-width="1.6"/>
<circle cx="986.98" cy="552.41" r="2.4" fill="none" stroke="#1a14d6" stroke-width="1.6"/>
<circle cx="983" cy="573.61" r="2.4" fill="none" stroke="#1a14d6" stroke-width="1.6"/>
<circle cx="979.02" cy="600.91" r="2.4" fill="none" stroke="#1a14d6" stroke-width="1.6"/>
<circle cx="986.98" cy="604.09" r="2.4" fill="none" stroke="#1a14d6" stroke-width="1.6"/>
<circle cx="983" cy="642.52" r="2.4" fill="none" stroke="#1a14d6" stroke-width="1.6"/>
<circle cx="1034.68" cy="544.46" r="2.4" fill="none" stroke="#1a14d6" stroke-width="1.6"/>
<circle cx="1034.68" cy="578.91" r="2.4" fill="none" stroke="#1a14d6" stroke-width="1.6"/>
<circle cx="1030.71" cy="633.24" r="2.4" fill="none" stroke="#1a14d6" stroke-width="1.6"/>
<circle cx="1038.66" cy="633.24" r="2.4" fill="none" stroke="#1a14d6" stroke-width="1.6"/>
<circle cx="1030.71" cy="648.35" r="2.4" fill="none" stroke="#1a14d6" stroke-width="1.6"/>
<circle cx="1038.66" cy="648.35" r="2.4" fill="none" stroke="#1a14d6" stroke-width="1.6"/>
<rect x="896.47" y="574.01" width="4.5" height="4.5" fill="none" stroke="#e6161f" stroke-width="1.6"/>
<rect x="896.47" y="587.26" width="4.5" height="4.5" fill="none" stroke="#e6161f" stroke-width="1.6"/>
<rect x="892.49" y="597.86" width="4.5" height="4.5" fill="none" stroke="#e6161f" stroke-width="1.6"/>
<rect x="900.71" y="593.36" width="4.5" height="4.5" fill="none" stroke="#e6161f" stroke-width="1.6"/>
<rect x="896.47" y="609.26" width="4.5" height="4.5" fill="none" stroke="#e6161f" stroke-width="1.6"/>
<rect x="896.47" y="616.42" width="4.5" height="4.5" fill="none" stroke="#e6161f" stroke-width="1.6"/>
<rect x="948.15" y="591.24" width="4.5" height="4.5" fill="none" stroke="#e6161f" stroke-width="1.6"/>
<rect x="948.15" y="599.19" width="4.5" height="4.5" fill="none" stroke="#e6161f" stroke-width="1.6"/>
<rect x="944.17" y="607.14" width="4.5" height="4.5" fill="none" stroke="#e6161f" stroke-width="1.6"/>
<rect x="952.39" y="607.14" width="4.5" height="4.5" fill="none" stroke="#e6161f" stroke-width="1.6"/>
<rect x="948.15" y="613.77" width="4.5" height="4.5" fill="none" stroke="#e6161f" stroke-width="1.6"/>
<rect x="948.15" y="631.52" width="4.5" height="4.5" fill="none" stroke="#e6161f" stroke-width="1.6"/>
<rect x="995.86" y="585.94" width="4.5" height="4.5" fill="none" stroke="#e6161f" stroke-width="1.6"/>
<rect x="1004.07" y="581.96" width="4.5" height="4.5" fill="none" stroke="#e6161f" stroke-width="1.6"/>
<rect x="1000.1" y="615.09" width="4.5" height="4.5" fill="none" stroke="#e6161f" stroke-width="1.6"/>
<rect x="1000.1" y="627.02" width="4.5" height="4.5" fill="none" stroke="#e6161f" stroke-width="1.6"/>
<rect x="1000.1" y="634.97" width="4.5" height="4.5" fill="none" stroke="#e6161f" stroke-width="1.6"/>
<rect x="1000.1" y="641.07" width="4.5" height="4.5" fill="none" stroke="#e6161f" stroke-width="1.6"/>
<rect x="1047.81" y="601.04" width="4.5" height="4.5" fill="none" stroke="#e6161f" stroke-width="1.6"/>
<rect x="1055.76" y="604.49" width="4.5" height="4.5" fill="none" stroke="#e6161f" stroke-width="1.6"/>
<rect x="1055.76" y="612.44" width="4.5" height="4.5" fill="none" stroke="#e6161f" stroke-width="1.6"/>
<rect x="1047.81" y="616.42" width="4.5" height="4.5" fill="none" stroke="#e6161f" stroke-width="1.6"/>
<rect x="1051.78" y="638.95" width="4.5" height="4.5" fill="none" stroke="#e6161f" stroke-width="1.6"/>
<rect x="1051.78" y="613.77" width="4.5" height="4.5" fill="none" stroke="#e6161f" stroke-width="1.6"/>
<text class="p" x="869" y="560.9" font-size="12" text-anchor="start"><tspan letter-spacing="0.3">*</tspan><tspan font-style="italic">p</tspan>=0.03</text>
<line x1="877.5" y1="567.8" x2="899.5" y2="567.8" stroke="#1a1a1a" stroke-width="1.6"/>
<text class="b" x="888.9" y="670.8" font-size="12" text-anchor="middle">I</text>
<text class="b" x="940.6" y="670.8" font-size="12" text-anchor="middle">II</text>
<text class="b" x="992.3" y="670.8" font-size="12" text-anchor="middle">III</text>
<text class="b" x="1044" y="670.8" font-size="12" text-anchor="middle">IV</text>
<text class="b" x="884.8" y="683.5" font-size="12.2" text-anchor="middle">( Target zone)</text>
<text class="b" x="836.8" y="592" font-size="12" text-anchor="middle" transform="rotate(-90 836.8 592)">Time spend in quadrant(s)</text>
</g>
</svg>
</body>
</html>
